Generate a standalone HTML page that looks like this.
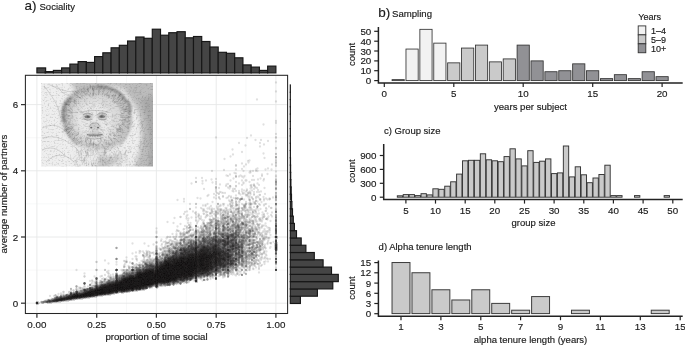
<!DOCTYPE html>
<html><head><meta charset="utf-8"><title>Figure</title>
<style>
html,body{margin:0;padding:0;background:#fff;}
body{width:685px;height:345px;overflow:hidden;font-family:"Liberation Sans",sans-serif;}
svg{display:block;}
svg text{font-family:"Liberation Sans",sans-serif;fill:#1a1a1a;stroke:#1a1a1a;stroke-width:0.16px;}
</style></head><body>
<svg width="685" height="345" viewBox="0 0 685 345">
<rect width="685" height="345" fill="#fff"/>
<g opacity="0.999">
<g id="pa">
<g stroke="#f2f3f3" stroke-width="0.6">
<line x1="66.8" y1="75.3" x2="66.8" y2="313.5"/>
<line x1="126.5" y1="75.3" x2="126.5" y2="313.5"/>
<line x1="186.3" y1="75.3" x2="186.3" y2="313.5"/>
<line x1="246.0" y1="75.3" x2="246.0" y2="313.5"/>
<line x1="25.4" y1="270.1" x2="287.6" y2="270.1"/>
<line x1="25.4" y1="203.9" x2="287.6" y2="203.9"/>
<line x1="25.4" y1="137.7" x2="287.6" y2="137.7"/>
</g>
<g stroke="#e6e8e8" stroke-width="0.9">
<line x1="36.9" y1="75.3" x2="36.9" y2="313.5"/>
<line x1="96.7" y1="75.3" x2="96.7" y2="313.5"/>
<line x1="156.4" y1="75.3" x2="156.4" y2="313.5"/>
<line x1="216.2" y1="75.3" x2="216.2" y2="313.5"/>
<line x1="275.9" y1="75.3" x2="275.9" y2="313.5"/>
<line x1="25.4" y1="303.2" x2="287.6" y2="303.2"/>
<line x1="25.4" y1="237.0" x2="287.6" y2="237.0"/>
<line x1="25.4" y1="170.8" x2="287.6" y2="170.8"/>
<line x1="25.4" y1="104.6" x2="287.6" y2="104.6"/>
</g>
<g fill="#231f20" shape-rendering="crispEdges">
<path d="M276 226h1v1h-1zM215 227h2v1h-2zM215 228h3v1h-3zM215 229h2v1h-2zM276 231h1v1h-1zM233 232h6v1h-6zM276 232h1v1h-1zM223 233h2v1h-2zM231 233h8v1h-8zM222 234h17v1h-17zM215 235h2v1h-2zM221 235h18v1h-18zM275 235h2v1h-2zM195 236h3v1h-3zM206 236h3v1h-3zM213 236h5v1h-5zM221 236h17v1h-17zM274 236h4v1h-4zM194 237h4v1h-4zM203 237h7v1h-7zM211 237h7v1h-7zM220 237h18v1h-18zM243 237h2v1h-2zM274 237h4v1h-4zM195 238h2v1h-2zM202 238h35v1h-35zM243 238h2v1h-2zM275 238h3v1h-3zM202 239h35v1h-35zM201 240h36v1h-36zM241 240h3v1h-3zM199 241h39v1h-39zM240 241h4v1h-4zM275 241h2v1h-2zM190 242h2v1h-2zM195 242h44v1h-44zM240 242h4v1h-4zM275 242h3v1h-3zM189 243h50v1h-50zM240 243h4v1h-4zM274 243h4v1h-4zM189 244h54v1h-54zM274 244h4v1h-4zM188 245h56v1h-56zM274 245h4v1h-4zM188 246h56v1h-56zM274 246h4v1h-4zM180 247h64v1h-64zM274 247h4v1h-4zM179 248h64v1h-64zM274 248h4v1h-4zM177 249h65v1h-65zM274 249h4v1h-4zM175 250h68v1h-68zM275 250h3v1h-3zM173 251h71v1h-71zM275 251h2v1h-2zM172 252h71v1h-71zM155 253h3v1h-3zM172 253h71v1h-71zM155 254h3v1h-3zM171 254h72v1h-72zM156 255h2v1h-2zM166 255h2v1h-2zM170 255h73v1h-73zM156 256h2v1h-2zM165 256h78v1h-78zM155 257h4v1h-4zM164 257h78v1h-78zM155 258h4v1h-4zM164 258h76v1h-76zM155 259h4v1h-4zM163 259h75v1h-75zM155 260h83v1h-83zM154 261h83v1h-83zM154 262h82v1h-82zM149 263h87v1h-87zM146 264h91v1h-91zM145 265h92v1h-92zM145 266h89v1h-89zM144 267h87v1h-87zM137 268h2v1h-2zM142 268h88v1h-88zM116 269h2v1h-2zM131 269h3v1h-3zM136 269h94v1h-94zM115 270h3v1h-3zM131 270h89v1h-89zM225 270h6v1h-6zM116 271h1v1h-1zM130 271h89v1h-89zM226 271h4v1h-4zM126 272h2v1h-2zM130 272h89v1h-89zM125 273h88v1h-88zM214 273h4v1h-4zM116 274h2v1h-2zM124 274h89v1h-89zM215 274h2v1h-2zM115 275h4v1h-4zM121 275h90v1h-90zM115 276h4v1h-4zM120 276h85v1h-85zM206 276h3v1h-3zM115 277h85v1h-85zM115 278h84v1h-84zM114 279h79v1h-79zM194 279h4v1h-4zM108 280h2v1h-2zM113 280h79v1h-79zM194 280h4v1h-4zM107 281h79v1h-79zM194 281h4v1h-4zM105 282h78v1h-78zM195 282h3v1h-3zM101 283h77v1h-77zM96 284h2v1h-2zM99 284h74v1h-74zM95 285h71v1h-71zM94 286h65v1h-65zM89 287h63v1h-63zM155 287h4v1h-4zM84 288h64v1h-64zM156 288h2v1h-2zM83 289h64v1h-64zM76 290h2v1h-2zM82 290h63v1h-63zM75 291h63v1h-63zM70 292h60v1h-60zM69 293h50v1h-50zM121 293h3v1h-3zM66 294h49v1h-49zM65 295h46v1h-46zM56 296h2v1h-2zM59 296h44v1h-44zM54 297h43v1h-43zM52 298h38v1h-38zM48 299h35v1h-35zM47 300h28v1h-28zM36 301h3v1h-3zM45 301h24v1h-24zM35 302h5v1h-5zM45 302h16v1h-16zM35 303h5v1h-5zM47 303h5v1h-5zM36 304h3v1h-3z" fill-opacity="0.180"/>
<path d="M230 234h4v1h-4zM224 235h10v1h-10zM195 236h2v1h-2zM214 236h3v1h-3zM224 236h13v1h-13zM275 236h3v1h-3zM195 237h2v1h-2zM207 237h1v1h-1zM212 237h6v1h-6zM223 237h14v1h-14zM275 237h3v1h-3zM203 238h3v1h-3zM207 238h1v1h-1zM212 238h6v1h-6zM220 238h16v1h-16zM275 238h2v1h-2zM203 239h4v1h-4zM212 239h23v1h-23zM202 240h7v1h-7zM212 240h24v1h-24zM201 241h10v1h-10zM212 241h25v1h-25zM241 241h2v1h-2zM199 242h39v1h-39zM241 242h2v1h-2zM276 242h1v1h-1zM190 243h2v1h-2zM195 243h3v1h-3zM199 243h39v1h-39zM275 243h2v1h-2zM190 244h49v1h-49zM275 244h3v1h-3zM189 245h54v1h-54zM275 245h3v1h-3zM189 246h54v1h-54zM275 246h3v1h-3zM188 247h55v1h-55zM275 247h3v1h-3zM180 248h61v1h-61zM275 248h3v1h-3zM179 249h61v1h-61zM275 249h3v1h-3zM178 250h57v1h-57zM236 250h4v1h-4zM275 250h2v1h-2zM174 251h60v1h-60zM238 251h1v1h-1zM173 252h61v1h-61zM236 252h4v1h-4zM173 253h60v1h-60zM235 253h6v1h-6zM172 254h61v1h-61zM235 254h7v1h-7zM171 255h62v1h-62zM235 255h7v1h-7zM166 256h3v1h-3zM170 256h63v1h-63zM237 256h5v1h-5zM156 257h2v1h-2zM165 257h70v1h-70zM236 257h5v1h-5zM155 258h3v1h-3zM164 258h74v1h-74zM155 259h4v1h-4zM164 259h74v1h-74zM155 260h4v1h-4zM162 260h75v1h-75zM155 261h81v1h-81zM155 262h80v1h-80zM154 263h81v1h-81zM149 264h87v1h-87zM146 265h89v1h-89zM145 266h86v1h-86zM144 267h83v1h-83zM143 268h83v1h-83zM137 269h83v1h-83zM227 269h3v1h-3zM132 270h2v1h-2zM136 270h83v1h-83zM227 270h3v1h-3zM132 271h1v1h-1zM135 271h83v1h-83zM227 271h3v1h-3zM131 272h81v1h-81zM214 272h4v1h-4zM126 273h2v1h-2zM129 273h83v1h-83zM215 273h2v1h-2zM126 274h85v1h-85zM116 275h2v1h-2zM122 275h88v1h-88zM115 276h3v1h-3zM121 276h79v1h-79zM207 276h1v1h-1zM115 277h4v1h-4zM121 277h78v1h-78zM115 278h78v1h-78zM194 278h4v1h-4zM115 279h76v1h-76zM195 279h3v1h-3zM114 280h73v1h-73zM194 280h4v1h-4zM108 281h76v1h-76zM195 281h3v1h-3zM107 282h71v1h-71zM195 282h2v1h-2zM103 283h73v1h-73zM100 284h67v1h-67zM95 285h64v1h-64zM95 286h64v1h-64zM90 287h61v1h-61zM155 287h3v1h-3zM89 288h58v1h-58zM84 289h62v1h-62zM83 290h58v1h-58zM75 291h3v1h-3zM82 291h52v1h-52zM75 292h53v1h-53zM70 293h48v1h-48zM69 294h43v1h-43zM66 295h40v1h-40zM61 296h37v1h-37zM55 297h38v1h-38zM54 298h32v1h-32zM51 299h27v1h-27zM48 300h24v1h-24zM47 301h17v1h-17zM36 302h3v1h-3zM47 302h10v1h-10zM36 303h3v1h-3zM36 304h2v1h-2z" fill-opacity="0.146"/>
<path d="M231 234h2v1h-2zM227 235h2v1h-2zM230 235h4v1h-4zM215 236h1v1h-1zM226 236h8v1h-8zM275 236h2v1h-2zM213 237h4v1h-4zM226 237h4v1h-4zM231 237h5v1h-5zM275 237h2v1h-2zM212 238h5v1h-5zM223 238h6v1h-6zM232 238h3v1h-3zM204 239h1v1h-1zM212 239h5v1h-5zM220 239h9v1h-9zM231 239h4v1h-4zM213 240h22v1h-22zM213 241h23v1h-23zM201 242h1v1h-1zM208 242h3v1h-3zM214 242h23v1h-23zM195 243h2v1h-2zM200 243h2v1h-2zM208 243h11v1h-11zM221 243h17v1h-17zM276 243h1v1h-1zM191 244h1v1h-1zM194 244h3v1h-3zM199 244h7v1h-7zM209 244h10v1h-10zM222 244h8v1h-8zM232 244h6v1h-6zM275 244h2v1h-2zM191 245h29v1h-29zM222 245h16v1h-16zM275 245h2v1h-2zM190 246h30v1h-30zM222 246h17v1h-17zM241 246h2v1h-2zM275 246h2v1h-2zM189 247h50v1h-50zM241 247h2v1h-2zM275 247h2v1h-2zM181 248h4v1h-4zM188 248h42v1h-42zM232 248h7v1h-7zM275 248h2v1h-2zM180 249h59v1h-59zM275 249h2v1h-2zM179 250h54v1h-54zM180 251h52v1h-52zM174 252h4v1h-4zM179 252h52v1h-52zM173 253h59v1h-59zM237 253h2v1h-2zM173 254h59v1h-59zM236 254h5v1h-5zM172 255h60v1h-60zM238 255h4v1h-4zM171 256h62v1h-62zM239 256h2v1h-2zM166 257h67v1h-67zM156 258h2v1h-2zM165 258h72v1h-72zM156 259h2v1h-2zM164 259h73v1h-73zM155 260h3v1h-3zM164 260h72v1h-72zM155 261h4v1h-4zM160 261h75v1h-75zM155 262h80v1h-80zM155 263h80v1h-80zM150 264h3v1h-3zM154 264h81v1h-81zM149 265h84v1h-84zM146 266h81v1h-81zM145 267h81v1h-81zM144 268h76v1h-76zM143 269h76v1h-76zM227 269h2v1h-2zM137 270h82v1h-82zM227 270h2v1h-2zM136 271h76v1h-76zM214 271h4v1h-4zM135 272h76v1h-76zM215 272h2v1h-2zM131 273h80v1h-80zM126 274h84v1h-84zM126 275h78v1h-78zM206 275h3v1h-3zM116 276h2v1h-2zM122 276h77v1h-77zM116 277h2v1h-2zM121 277h77v1h-77zM116 278h3v1h-3zM121 278h71v1h-71zM195 278h2v1h-2zM115 279h74v1h-74zM195 279h2v1h-2zM115 280h70v1h-70zM195 280h2v1h-2zM113 281h70v1h-70zM195 281h2v1h-2zM108 282h69v1h-69zM105 283h65v1h-65zM101 284h58v1h-58zM161 284h1v1h-1zM163 284h3v1h-3zM96 285h2v1h-2zM100 285h58v1h-58zM95 286h57v1h-57zM155 286h3v1h-3zM94 287h54v1h-54zM156 287h2v1h-2zM89 288h58v1h-58zM84 289h3v1h-3zM88 289h57v1h-57zM84 290h55v1h-55zM76 291h2v1h-2zM83 291h48v1h-48zM132 291h1v1h-1zM75 292h44v1h-44zM121 292h4v1h-4zM71 293h46v1h-46zM70 294h41v1h-41zM67 295h37v1h-37zM64 296h33v1h-33zM56 297h2v1h-2zM59 297h32v1h-32zM55 298h29v1h-29zM53 299h23v1h-23zM49 300h21v1h-21zM48 301h14v1h-14zM36 302h2v1h-2zM49 302h4v1h-4zM36 303h3v1h-3z" fill-opacity="0.171"/>
<path d="M231 235h2v1h-2zM227 236h2v1h-2zM231 236h2v1h-2zM215 237h1v1h-1zM227 237h2v1h-2zM232 237h1v1h-1zM276 237h1v1h-1zM213 238h3v1h-3zM213 239h4v1h-4zM222 239h3v1h-3zM232 239h2v1h-2zM214 240h4v1h-4zM220 240h9v1h-9zM230 240h4v1h-4zM214 241h20v1h-20zM215 242h3v1h-3zM222 242h10v1h-10zM235 242h2v1h-2zM210 243h1v1h-1zM215 243h2v1h-2zM222 243h8v1h-8zM235 243h2v1h-2zM195 244h2v1h-2zM210 244h8v1h-8zM222 244h7v1h-7zM276 244h1v1h-1zM194 245h3v1h-3zM201 245h6v1h-6zM210 245h9v1h-9zM223 245h6v1h-6zM232 245h3v1h-3zM276 245h1v1h-1zM191 246h7v1h-7zM201 246h18v1h-18zM224 246h2v1h-2zM231 246h5v1h-5zM276 246h1v1h-1zM190 247h30v1h-30zM227 247h2v1h-2zM232 247h6v1h-6zM276 247h1v1h-1zM189 248h32v1h-32zM222 248h7v1h-7zM233 248h5v1h-5zM276 248h1v1h-1zM180 249h6v1h-6zM188 249h42v1h-42zM180 250h50v1h-50zM181 251h49v1h-49zM175 252h1v1h-1zM180 252h50v1h-50zM174 253h3v1h-3zM180 253h50v1h-50zM174 254h3v1h-3zM179 254h53v1h-53zM173 255h2v1h-2zM179 255h53v1h-53zM172 256h60v1h-60zM170 257h62v1h-62zM156 258h1v1h-1zM167 258h66v1h-66zM156 259h2v1h-2zM165 259h68v1h-68zM235 259h1v1h-1zM156 260h2v1h-2zM164 260h68v1h-68zM233 260h2v1h-2zM156 261h2v1h-2zM162 261h69v1h-69zM233 261h2v1h-2zM156 262h2v1h-2zM160 262h74v1h-74zM155 263h4v1h-4zM160 263h74v1h-74zM151 264h1v1h-1zM155 264h79v1h-79zM149 265h81v1h-81zM149 266h77v1h-77zM146 267h73v1h-73zM145 268h74v1h-74zM144 269h74v1h-74zM138 270h1v1h-1zM140 270h73v1h-73zM214 270h4v1h-4zM228 270h1v1h-1zM137 271h74v1h-74zM215 271h2v1h-2zM136 272h74v1h-74zM135 273h75v1h-75zM130 274h79v1h-79zM127 275h72v1h-72zM207 275h1v1h-1zM123 276h1v1h-1zM126 276h72v1h-72zM116 277h1v1h-1zM122 277h71v1h-71zM195 277h2v1h-2zM116 278h2v1h-2zM121 278h70v1h-70zM195 278h2v1h-2zM116 279h72v1h-72zM196 279h1v1h-1zM115 280h69v1h-69zM195 280h2v1h-2zM114 281h64v1h-64zM195 281h2v1h-2zM108 282h68v1h-68zM107 283h61v1h-61zM102 284h57v1h-57zM100 285h58v1h-58zM96 286h56v1h-56zM155 286h3v1h-3zM95 287h52v1h-52zM156 287h1v1h-1zM90 288h56v1h-56zM89 289h52v1h-52zM84 290h50v1h-50zM136 290h1v1h-1zM83 291h46v1h-46zM76 292h2v1h-2zM81 292h37v1h-37zM74 293h40v1h-40zM70 294h40v1h-40zM68 295h34v1h-34zM66 296h29v1h-29zM60 297h29v1h-29zM56 298h25v1h-25zM54 299h20v1h-20zM51 300h16v1h-16zM49 301h10v1h-10zM37 302h1v1h-1zM36 303h2v1h-2z" fill-opacity="0.198"/>
<path d="M214 239h2v1h-2zM214 240h3v1h-3zM222 240h4v1h-4zM231 240h2v1h-2zM215 241h2v1h-2zM222 241h7v1h-7zM231 241h1v1h-1zM223 242h6v1h-6zM223 243h6v1h-6zM214 244h3v1h-3zM223 244h6v1h-6zM195 245h2v1h-2zM203 245h3v1h-3zM212 245h6v1h-6zM224 245h2v1h-2zM233 245h1v1h-1zM195 246h2v1h-2zM202 246h8v1h-8zM211 246h7v1h-7zM232 246h2v1h-2zM191 247h7v1h-7zM201 247h18v1h-18zM235 247h1v1h-1zM190 248h8v1h-8zM199 248h21v1h-21zM227 248h1v1h-1zM184 249h1v1h-1zM191 249h30v1h-30zM223 249h1v1h-1zM226 249h3v1h-3zM181 250h5v1h-5zM193 250h37v1h-37zM182 251h6v1h-6zM193 251h36v1h-36zM181 252h48v1h-48zM180 253h49v1h-49zM180 254h51v1h-51zM180 255h51v1h-51zM172 256h3v1h-3zM179 256h52v1h-52zM171 257h60v1h-60zM168 258h63v1h-63zM156 259h1v1h-1zM166 259h64v1h-64zM156 260h2v1h-2zM165 260h61v1h-61zM228 260h1v1h-1zM156 261h2v1h-2zM164 261h62v1h-62zM228 261h1v1h-1zM156 262h2v1h-2zM161 262h68v1h-68zM156 263h2v1h-2zM160 263h70v1h-70zM232 263h2v1h-2zM156 264h3v1h-3zM160 264h69v1h-69zM150 265h2v1h-2zM155 265h71v1h-71zM150 266h69v1h-69zM223 266h2v1h-2zM149 267h69v1h-69zM146 268h72v1h-72zM145 269h73v1h-73zM143 270h69v1h-69zM215 270h3v1h-3zM137 271h73v1h-73zM216 271h1v1h-1zM136 272h74v1h-74zM136 273h73v1h-73zM135 274h69v1h-69zM207 274h1v1h-1zM129 275h69v1h-69zM127 276h70v1h-70zM123 277h69v1h-69zM195 277h2v1h-2zM116 278h1v1h-1zM122 278h66v1h-66zM116 279h2v1h-2zM121 279h64v1h-64zM115 280h63v1h-63zM180 280h3v1h-3zM196 280h1v1h-1zM115 281h62v1h-62zM196 281h1v1h-1zM109 282h3v1h-3zM113 282h58v1h-58zM108 283h58v1h-58zM103 284h55v1h-55zM101 285h52v1h-52zM155 285h3v1h-3zM96 286h2v1h-2zM100 286h51v1h-51zM156 286h2v1h-2zM95 287h52v1h-52zM94 288h51v1h-51zM90 289h50v1h-50zM85 290h49v1h-49zM84 291h42v1h-42zM76 292h2v1h-2zM82 292h36v1h-36zM75 293h38v1h-38zM71 294h38v1h-38zM69 295h29v1h-29zM66 296h28v1h-28zM62 297h25v1h-25zM57 298h23v1h-23zM55 299h17v1h-17zM52 300h13v1h-13zM51 301h7v1h-7zM37 303h1v1h-1z" fill-opacity="0.226"/>
<path d="M215 240h1v1h-1zM223 240h2v1h-2zM223 241h3v1h-3zM224 242h4v1h-4zM224 243h4v1h-4zM224 244h4v1h-4zM213 245h4v1h-4zM195 246h1v1h-1zM203 246h3v1h-3zM212 246h5v1h-5zM195 247h2v1h-2zM202 247h8v1h-8zM212 247h5v1h-5zM195 248h2v1h-2zM201 248h17v1h-17zM195 249h2v1h-2zM200 249h19v1h-19zM227 249h2v1h-2zM184 250h1v1h-1zM194 250h26v1h-26zM223 250h1v1h-1zM227 250h2v1h-2zM183 251h3v1h-3zM194 251h31v1h-31zM183 252h5v1h-5zM194 252h32v1h-32zM181 253h48v1h-48zM181 254h48v1h-48zM181 255h49v1h-49zM180 256h50v1h-50zM172 257h58v1h-58zM170 258h59v1h-59zM168 259h58v1h-58zM165 260h56v1h-56zM222 260h4v1h-4zM156 261h1v1h-1zM164 261h57v1h-57zM222 261h3v1h-3zM156 262h2v1h-2zM163 262h62v1h-62zM156 263h2v1h-2zM161 263h65v1h-65zM227 263h2v1h-2zM156 264h2v1h-2zM160 264h65v1h-65zM156 265h65v1h-65zM224 265h1v1h-1zM155 266h63v1h-63zM154 267h64v1h-64zM149 268h3v1h-3zM153 268h60v1h-60zM215 268h2v1h-2zM145 269h68v1h-68zM215 269h2v1h-2zM144 270h66v1h-66zM215 270h2v1h-2zM140 271h69v1h-69zM137 272h72v1h-72zM136 273h69v1h-69zM207 273h1v1h-1zM136 274h62v1h-62zM130 275h4v1h-4zM135 275h63v1h-63zM128 276h65v1h-65zM195 276h2v1h-2zM126 277h65v1h-65zM123 278h65v1h-65zM116 279h2v1h-2zM122 279h62v1h-62zM116 280h2v1h-2zM119 280h58v1h-58zM115 281h61v1h-61zM114 282h55v1h-55zM108 283h51v1h-51zM164 283h1v1h-1zM104 284h54v1h-54zM102 285h50v1h-50zM156 285h2v1h-2zM100 286h48v1h-48zM156 286h1v1h-1zM96 287h50v1h-50zM95 288h49v1h-49zM91 289h47v1h-47zM89 290h41v1h-41zM131 290h2v1h-2zM84 291h35v1h-35zM121 291h4v1h-4zM83 292h34v1h-34zM76 293h35v1h-35zM73 294h32v1h-32zM70 295h28v1h-28zM67 296h25v1h-25zM64 297h21v1h-21zM59 298h18v1h-18zM56 299h15v1h-15zM54 300h9v1h-9z" fill-opacity="0.264"/>
<path d="M215 245h1v1h-1zM204 246h1v1h-1zM213 246h4v1h-4zM203 247h3v1h-3zM213 247h3v1h-3zM195 248h2v1h-2zM202 248h6v1h-6zM213 248h3v1h-3zM195 249h2v1h-2zM201 249h8v1h-8zM212 249h4v1h-4zM195 250h2v1h-2zM200 250h9v1h-9zM212 250h4v1h-4zM184 251h1v1h-1zM195 251h22v1h-22zM223 251h1v1h-1zM184 252h2v1h-2zM195 252h26v1h-26zM223 252h2v1h-2zM185 253h1v1h-1zM189 253h3v1h-3zM193 253h28v1h-28zM223 253h3v1h-3zM187 254h34v1h-34zM224 254h1v1h-1zM186 255h36v1h-36zM181 256h41v1h-41zM227 256h2v1h-2zM180 257h41v1h-41zM223 257h2v1h-2zM227 257h2v1h-2zM173 258h53v1h-53zM170 259h1v1h-1zM172 259h49v1h-49zM222 259h3v1h-3zM168 260h52v1h-52zM223 260h2v1h-2zM165 261h54v1h-54zM164 262h55v1h-55zM223 262h1v1h-1zM163 263h61v1h-61zM156 264h2v1h-2zM161 264h57v1h-57zM219 264h2v1h-2zM156 265h2v1h-2zM160 265h53v1h-53zM215 265h3v1h-3zM156 266h57v1h-57zM215 266h2v1h-2zM155 267h58v1h-58zM216 267h1v1h-1zM155 268h58v1h-58zM216 268h1v1h-1zM146 269h8v1h-8zM155 269h57v1h-57zM216 269h1v1h-1zM145 270h64v1h-64zM143 271h66v1h-66zM137 272h67v1h-67zM137 273h61v1h-61zM202 273h2v1h-2zM136 274h61v1h-61zM136 275h58v1h-58zM195 275h2v1h-2zM129 276h64v1h-64zM127 277h61v1h-61zM123 278h62v1h-62zM122 279h56v1h-56zM180 279h2v1h-2zM116 280h2v1h-2zM121 280h56v1h-56zM116 281h55v1h-55zM115 282h52v1h-52zM109 283h3v1h-3zM113 283h45v1h-45zM108 284h46v1h-46zM155 284h3v1h-3zM103 285h48v1h-48zM156 285h1v1h-1zM101 286h46v1h-46zM96 287h2v1h-2zM99 287h45v1h-45zM96 288h45v1h-45zM94 289h40v1h-40zM136 289h1v1h-1zM90 290h37v1h-37zM86 291h32v1h-32zM84 292h30v1h-30zM76 293h2v1h-2zM81 293h29v1h-29zM74 294h29v1h-29zM71 295h26v1h-26zM68 296h22v1h-22zM66 297h17v1h-17zM61 298h14v1h-14zM57 299h12v1h-12zM55 300h5v1h-5z" fill-opacity="0.321"/>
<path d="M215 246h1v1h-1zM202 250h1v1h-1zM195 251h2v1h-2zM201 251h3v1h-3zM214 251h1v1h-1zM195 252h2v1h-2zM199 252h8v1h-8zM213 252h4v1h-4zM195 253h2v1h-2zM199 253h9v1h-9zM210 253h10v1h-10zM188 254h32v1h-32zM188 255h29v1h-29zM219 255h2v1h-2zM188 256h29v1h-29zM181 257h37v1h-37zM179 258h34v1h-34zM215 258h5v1h-5zM223 258h2v1h-2zM173 259h40v1h-40zM214 259h5v1h-5zM223 259h2v1h-2zM173 260h39v1h-39zM214 260h4v1h-4zM166 261h5v1h-5zM172 261h40v1h-40zM213 261h5v1h-5zM165 262h6v1h-6zM172 262h40v1h-40zM213 262h4v1h-4zM164 263h48v1h-48zM214 263h3v1h-3zM163 264h49v1h-49zM215 264h2v1h-2zM156 265h1v1h-1zM161 265h51v1h-51zM216 265h1v1h-1zM156 266h2v1h-2zM160 266h52v1h-52zM156 267h56v1h-56zM156 268h56v1h-56zM156 269h53v1h-53zM146 270h8v1h-8zM155 270h54v1h-54zM145 271h53v1h-53zM199 271h2v1h-2zM202 271h2v1h-2zM141 272h56v1h-56zM137 273h60v1h-60zM137 274h57v1h-57zM195 274h2v1h-2zM136 275h57v1h-57zM131 276h3v1h-3zM135 276h57v1h-57zM128 277h59v1h-59zM126 278h52v1h-52zM180 278h2v1h-2zM123 279h54v1h-54zM122 280h54v1h-54zM116 281h2v1h-2zM120 281h50v1h-50zM116 282h50v1h-50zM114 283h44v1h-44zM109 284h44v1h-44zM156 284h1v1h-1zM104 285h46v1h-46zM102 286h44v1h-44zM100 287h42v1h-42zM96 288h44v1h-44zM95 289h39v1h-39zM91 290h34v1h-34zM88 291h30v1h-30zM85 292h28v1h-28zM82 293h27v1h-27zM76 294h25v1h-25zM72 295h22v1h-22zM70 296h18v1h-18zM67 297h13v1h-13zM63 298h10v1h-10zM58 299h7v1h-7zM57 300h1v1h-1z" fill-opacity="0.389"/>
<path d="M195 253h1v1h-1zM200 253h6v1h-6zM215 253h2v1h-2zM195 254h2v1h-2zM200 254h7v1h-7zM211 254h1v1h-1zM215 254h2v1h-2zM190 255h3v1h-3zM195 255h2v1h-2zM199 255h14v1h-14zM215 255h1v1h-1zM191 256h2v1h-2zM195 256h2v1h-2zM199 256h14v1h-14zM215 256h1v1h-1zM183 257h1v1h-1zM190 257h7v1h-7zM199 257h13v1h-13zM215 257h2v1h-2zM181 258h4v1h-4zM186 258h11v1h-11zM199 258h13v1h-13zM215 258h2v1h-2zM180 259h4v1h-4zM186 259h25v1h-25zM215 259h2v1h-2zM174 260h1v1h-1zM180 260h5v1h-5zM186 260h25v1h-25zM215 260h2v1h-2zM174 261h37v1h-37zM215 261h2v1h-2zM166 262h4v1h-4zM174 262h37v1h-37zM215 262h2v1h-2zM165 263h6v1h-6zM173 263h38v1h-38zM215 263h1v1h-1zM165 264h46v1h-46zM163 265h47v1h-47zM161 266h48v1h-48zM156 267h2v1h-2zM160 267h48v1h-48zM157 268h1v1h-1zM159 268h38v1h-38zM199 268h9v1h-9zM156 269h41v1h-41zM199 269h9v1h-9zM148 270h3v1h-3zM156 270h41v1h-41zM202 270h3v1h-3zM207 270h1v1h-1zM146 271h8v1h-8zM155 271h42v1h-42zM144 272h53v1h-53zM140 273h54v1h-54zM195 273h1v1h-1zM138 274h55v1h-55zM137 275h55v1h-55zM136 276h51v1h-51zM129 277h53v1h-53zM127 278h50v1h-50zM124 279h52v1h-52zM123 280h48v1h-48zM121 281h48v1h-48zM116 282h2v1h-2zM119 282h39v1h-39zM115 283h39v1h-39zM156 283h1v1h-1zM110 284h1v1h-1zM113 284h39v1h-39zM108 285h40v1h-40zM104 286h39v1h-39zM101 287h40v1h-40zM99 288h35v1h-35zM136 288h1v1h-1zM96 289h31v1h-31zM132 289h1v1h-1zM94 290h25v1h-25zM121 290h3v1h-3zM90 291h27v1h-27zM87 292h24v1h-24zM84 293h22v1h-22zM77 294h1v1h-1zM80 294h18v1h-18zM74 295h19v1h-19zM71 296h15v1h-15zM68 297h10v1h-10zM66 298h6v1h-6z" fill-opacity="0.477"/>
<path d="M203 254h1v1h-1zM201 255h3v1h-3zM200 256h4v1h-4zM207 256h1v1h-1zM200 257h4v1h-4zM195 258h1v1h-1zM200 258h4v1h-4zM188 259h4v1h-4zM195 259h1v1h-1zM199 259h5v1h-5zM181 260h2v1h-2zM187 260h6v1h-6zM195 260h2v1h-2zM199 260h6v1h-6zM181 261h3v1h-3zM186 261h11v1h-11zM200 261h4v1h-4zM206 261h3v1h-3zM176 262h21v1h-21zM200 262h4v1h-4zM167 263h2v1h-2zM175 263h22v1h-22zM200 263h5v1h-5zM166 264h4v1h-4zM174 264h23v1h-23zM200 264h4v1h-4zM165 265h6v1h-6zM172 265h26v1h-26zM199 265h5v1h-5zM207 265h1v1h-1zM165 266h32v1h-32zM200 266h1v1h-1zM161 267h36v1h-36zM203 267h3v1h-3zM161 268h35v1h-35zM203 268h3v1h-3zM160 269h36v1h-36zM203 269h2v1h-2zM157 270h1v1h-1zM159 270h35v1h-35zM195 270h1v1h-1zM149 271h2v1h-2zM157 271h36v1h-36zM147 272h7v1h-7zM156 272h37v1h-37zM143 273h50v1h-50zM141 274h51v1h-51zM139 275h49v1h-49zM190 275h1v1h-1zM137 276h45v1h-45zM132 277h1v1h-1zM136 277h41v1h-41zM129 278h47v1h-47zM127 279h48v1h-48zM124 280h46v1h-46zM122 281h43v1h-43zM120 282h35v1h-35zM156 282h1v1h-1zM116 283h1v1h-1zM120 283h33v1h-33zM115 284h36v1h-36zM110 285h34v1h-34zM105 286h36v1h-36zM104 287h34v1h-34zM101 288h32v1h-32zM98 289h27v1h-27zM95 290h22v1h-22zM92 291h21v1h-21zM88 292h22v1h-22zM85 293h18v1h-18zM81 294h13v1h-13zM76 295h14v1h-14zM72 296h10v1h-10zM70 297h5v1h-5z" fill-opacity="1.000"/>
</g>
<filter id="pb" x="0" y="0" width="1370" height="690" filterUnits="userSpaceOnUse"><feGaussianBlur stdDeviation="0.5"/></filter>
<g transform="scale(.5)" fill="none" stroke="#231f20" stroke-width="4.6" stroke-linecap="round" stroke-opacity="0.12" filter="url(#pb)">
<path d="m102 603h0m7-2h0m6 0h0m7-3h0m9-7h0m1 6h0m8-6h0m2-4h0m11-3h0m10 10h0m5-4h0m1-3h0m0 2h0m0 2h0m0 2h0m7-15h0m13-6h0m4 8h0m8-27h0m3 15h0m1-2h0m3-5h0m0 21h0m2-3h0m4-2h0m7 9h0m2-29h0m1 8h0m1 7h0m4 4h0m4-2h0m6-16h0m2 9h0m2-3h0m0 7h0m1-16h0m1 12h0m0 14h0m3-17h0m1-11h0m6 26h0m4-17h0m2 4h0m2-6h0m2 15h0m6-62h0m2 37h0m3-13h0m0 26h0m3-28h0m0 12h0m0 6h0m0 25h0m1-7h0m1 5h0m3-27h0m0 2h0m2-26h0m0 50h0m1-15h0m1 8h0m1-44h0m0 26h0m2-22h0m0 36h0m0 6h0m1-27h0m1 28h0m3-20h0m3-38h0m0 43h0m0 15h0m3-51h0m0 40h0m1-12h0m4 12h0m3 1h0m3-52h0m0 6h0m0 17h0m0 16h0m0 2h0m0 3h0m0 2h0m0 7h0m0 11h0m0 0h0m3-10h0m2-38h0m0 33h0m1-31h0m2 3h0m1 15h0m0 16h0m1 5h0m2-47h0m3 16h0m6 31h0m1-54h0m0 23h0m0 24h0m0 11h0m2-53h0m2-21h0m0 37h0m0 23h0m0 10h0m4-49h0m4-15h0m0 0h0m2 45h0m2-20h0m2 19h0m2-53h0m0 63h0m3 1h0m3 1h0m0 2h0m2-80h0m1 74h0m2-11h0m0 16h0m2-60h0m0 11h0m1-20h0m1-38h0m0 15h0m2 61h0m1-7h0m1-46h0m2 15h0m1 25h0m1-59h0m0 66h0m0 6h0m2-110h0m0 112h0m1-31h0m0 18h0m2-25h0m3-4h0m1-7h0m2-2h0m0 52h0m3-76h0m0 18h0m0 32h0m0 17h0m0 26h0m4-59h0m0 47h0m1 14h0m2-93h0m0 25h0m0 26h0m1 24h0m1 8h0m1 0h0m1-40h0m2-6h0m1 40h0m2-9h0m2-8h0m1 19h0m2-17h0m0 19h0m2-55h0m0 60h0m0 2h0m0 0h0m3-66h0m0 60h0m0 6h0m0 3h0m2-65h0m0 13h0m1 5h0m0 1h0m0 3h0m0 35h0m2-14h0m1-30h0m1 37h0m1-24h0m1 2h0m0 4h0m1-120h0m0 137h0m4-135h0m0 110h0m0 17h0m0 33h0m2-99h0m5 44h0m0 7h0m0 16h0m1-24h0m1 14h0m0 7h0m0 23h0m2 4h0m3-75h0m0 51h0m0 0h0m0 15h0m2-30h0m1-27h0m2 21h0m1-15h0m0 19h0m1-87h0m0 1h0m1 29h0m0 25h0m2 18h0m0 31h0m0 15h0m0 7h0m0 6h0m4-115h0m0 92h0m1-157h0m0 101h0m1 49h0m1-29h0m2-41h0m0 39h0m0 6h0m1-29h0m0 18h0m3 34h0m1-40h0m1-29h0m1 11h0m0 66h0m4-72h0m0 69h0m2-65h0m2 20h0m0 3h0m0 30h0m0 0h0m1-116h0m3-37h0m0 66h0m0 39h0m0 24h0m0 32h0m0 9h0m3-30h0m0 9h0m1-77h0m0 87h0m0 3h0m0 4h0m1-56h0m0 49h0m1-21h0m2 21h0m0 12h0m0 8h0m0 0h0m2-49h0m1 37h0m1-25h0m1-5h0m1 28h0m1-52h0m0 66h0m3-52h0m4 2h0m2 11h0m3 20h0m5-25h0m3 5h0m1-30h0m0 7h0m0 14h0m7-98h0m10 39h0m5-3h0m10-52h0m0 13h0m0 4h0m0 37h0m0 35h0m0 18h0m0 33h0"/>
<path d="m83 604h0m16-1h0m9-6h0m0 5h0m4-1h0m10-6h0m1 2h0m29-4h0m1-5h0m3 3h0m6 3h0m7-41h0m11 39h0m0 0h0m4-11h0m1 1h0m8-42h0m0 17h0m0 16h0m7 10h0m1 3h0m3-22h0m2 9h0m8 2h0m1 7h0m2-20h0m0 25h0m0 0h0m2-4h0m4-22h0m2 1h0m6 9h0m2-31h0m0 30h0m12 10h0m3-28h0m0 24h0m2-3h0m3-20h0m0 4h0m0 8h0m5-8h0m0 9h0m2-11h0m2 4h0m1 9h0m2-28h0m7 14h0m7 24h0m4-38h0m0 13h0m3-20h0m4 18h0m0 18h0m1-5h0m1-24h0m1 11h0m1-31h0m2 30h0m1 9h0m2-1h0m0 11h0m3 1h0m1-48h0m0 21h0m2 29h0m2-17h0m6-81h0m0 41h0m0 25h0m0 19h0m0 14h0m3-18h0m1-32h0m2-15h0m0 6h0m0 28h0m2-27h0m4 26h0m1-36h0m1 4h0m1 58h0m1-31h0m0 0h0m0 4h0m0 13h0m2-9h0m0 13h0m0 9h0m4-26h0m0 12h0m0 8h0m2 3h0m1-2h0m1-43h0m0 20h0m1-25h0m0 55h0m1-55h0m0 43h0m2-28h0m4 18h0m0 13h0m0 0h0m3-60h0m0 38h0m2-19h0m1-55h0m0 55h0m2 18h0m0 4h0m0 24h0m1-66h0m1-36h0m1 26h0m3-1h0m0 13h0m0 27h0m0 33h0m0 1h0m2-43h0m0 6h0m5 16h0m0 21h0m2-68h0m0 9h0m0 15h0m0 1h0m0 10h0m3-6h0m4-38h0m1 19h0m0 21h0m0 3h0m2-66h0m2 98h0m1-124h0m0 62h0m0 19h0m0 13h0m1-55h0m2 31h0m0 38h0m1-57h0m0 30h0m0 36h0m3-64h0m2-36h0m0 17h0m0 41h0m0 21h0m0 1h0m0 23h0m6-90h0m1 46h0m0 0h0m3-41h0m1 32h0m1-1h0m1-83h0m0 61h0m0 10h0m1-12h0m0 45h0m0 7h0m1-84h0m1-4h0m0 12h0m0 54h0m0 33h0m2-66h0m1 23h0m0 30h0m0 5h0m1-3h0m1-51h0m1 53h0m1-29h0m4-32h0m1 9h0m0 68h0m1-71h0m0 22h0m2-54h0m0 101h0m1-29h0m0 2h0m0 33h0m3-86h0m0 29h0m1 40h0m0 10h0m1-11h0m3-142h0m0 66h0m0 67h0m0 12h0m0 12h0m3-11h0m1-64h0m0 69h0m1-94h0m1 26h0m3 31h0m0 15h0m0 30h0m3-66h0m2 27h0m0 3h0m0 26h0m0 12h0m1-10h0m2-106h0m0 114h0m1-126h0m1 11h0m1 9h0m0 55h0m1-11h0m0 23h0m1-61h0m1 22h0m1 1h0m0 3h0m0 7h0m0 23h0m0 8h0m2-113h0m0 46h0m3 59h0m4-44h0m0 12h0m0 24h0m0 12h0m2-1h0m1-58h0m0 65h0m1 21h0m3-35h0m6-43h0m0 15h0m4-26h0m2-69h0m0 4h0m0 67h0m0 24h0m0 26h0m0 2h0m1-66h0m1 88h0m2 7h0m1-77h0m3 16h0m0 62h0m4-42h0m0 27h0m3-72h0m0 14h0m0 57h0m4-6h0m3-2h0m1-46h0m3 64h0m2-124h0m2 13h0m0 86h0m1-32h0m0 0h0m1-110h0m2 96h0m6-103h0m0 114h0m1 12h0m0 3h0m4-20h0m1 16h0m2 32h0m7-44h0m1-4h0m12-53h0m0 3h0m0 10h0m0 31h0m0 8h0m0 21h0m0 6h0m0 9h0m0 22h0"/>
<path d="m88 604h0m11-1h0m15-8h0m13-11h0m0 4h0m11 1h0m4-11h0m0 12h0m18-4h0m9-19h0m4 26h0m0 0h0m7-12h0m4 10h0m9-1h0m8-10h0m1-17h0m2 7h0m6-49h0m0 38h0m0 0h0m0 13h0m0 9h0m0 6h0m10-31h0m4 24h0m0 0h0m1 2h0m1 3h0m7-61h0m0 29h0m0 31h0m4-2h0m8-28h0m0 26h0m3-34h0m1 30h0m0 4h0m1-1h0m5-32h0m5 0h0m5-7h0m2 33h0m2-21h0m4-12h0m2 4h0m4 6h0m4 15h0m5-29h0m1 32h0m1 2h0m1-42h0m0 12h0m0 36h0m3-46h0m5 32h0m1-53h0m0 46h0m3-10h0m0 0h0m0 19h0m1-19h0m3 4h0m6-51h0m0 14h0m0 23h0m0 33h0m5-48h0m3 50h0m2-13h0m2-10h0m4 2h0m1-22h0m0 23h0m1-37h0m0 2h0m0 0h0m1-28h0m3 23h0m0 24h0m0 6h0m1 11h0m2-7h0m0 6h0m5-37h0m0 19h0m2-49h0m0 39h0m2-26h0m0 11h0m0 10h0m0 11h0m0 41h0m0 0h0m0 0h0m2-27h0m1-47h0m3 26h0m0 8h0m4 1h0m2-29h0m2-27h0m0 7h0m0 6h0m0 47h0m2-12h0m4-37h0m0 25h0m1-13h0m2 52h0m3-56h0m0 6h0m0 58h0m0 8h0m2-101h0m1 42h0m0 52h0m1-38h0m1-28h0m0 42h0m1-50h0m2 10h0m0 56h0m3-46h0m0 30h0m2-28h0m0 27h0m1-16h0m2-20h0m0 35h0m1-34h0m2-83h0m0 70h0m0 17h0m0 9h0m0 15h0m0 7h0m0 22h0m4-94h0m0 84h0m2-52h0m2 33h0m2-27h0m0 7h0m0 42h0m1-40h0m2-44h0m0 13h0m0 5h0m0 28h0m3-34h0m0 11h0m2 66h0m1-63h0m0 54h0m1-43h0m0 17h0m1-16h0m2-37h0m0 28h0m0 35h0m0 3h0m0 4h0m3-28h0m1-68h0m2 74h0m0 17h0m1-40h0m0 36h0m1-14h0m1-37h0m0 8h0m2 48h0m1-45h0m1-12h0m2-10h0m2-7h0m0 17h0m0 0h0m0 23h0m0 2h0m0 1h0m0 24h0m0 11h0m0 13h0m0 9h0m3-140h0m0 80h0m1-12h0m0 2h0m0 8h0m0 43h0m1-31h0m1-20h0m0 25h0m1-3h0m0 27h0m2-108h0m0 30h0m0 41h0m0 41h0m2-87h0m0 20h0m0 28h0m1 14h0m2-53h0m0 7h0m0 5h0m0 22h0m1 32h0m1-13h0m1-84h0m0 15h0m0 19h0m0 66h0m2-73h0m0 72h0m4-10h0m1-53h0m0 11h0m0 16h0m0 6h0m0 0h0m0 14h0m0 33h0m4-25h0m1-67h0m0 39h0m1-70h0m3-42h0m0 116h0m2-28h0m0 4h0m1 3h0m2-11h0m2-69h0m0 26h0m0 0h0m0 73h0m0 6h0m0 5h0m0 6h0m0 5h0m0 0h0m3 16h0m1-109h0m2 44h0m0 10h0m0 5h0m0 32h0m1-100h0m0 106h0m2-4h0m1-47h0m0 9h0m2-44h0m0 19h0m1 2h0m1-9h0m1-5h0m0 28h0m0 18h0m3-30h0m3 31h0m3-59h0m3 67h0m2-3h0m3 12h0m2-20h0m2-99h0m0 84h0m3 32h0m0 6h0m11-11h0m3-28h0m1-8h0m0 16h0m1 2h0m1-30h0m2 38h0m2-73h0m12 9h0m8-105h0m0 128h0m0 19h0m0 24h0m0 23h0m0 1h0"/>
<path d="m83 604h0m39-4h0m5-8h0m0 1h0m1 4h0m1-1h0m5 2h0m8-3h0m5-4h0m1-5h0m1 1h0m4-3h0m0 11h0m4-9h0m4 8h0m4 0h0m13-5h0m15-24h0m5 11h0m0 3h0m4-13h0m1 16h0m0 7h0m1-1h0m4-5h0m5-15h0m3 14h0m5-27h0m1 20h0m3-10h0m1 2h0m0 8h0m11-24h0m6 10h0m0 5h0m0 12h0m2-7h0m1-11h0m2-20h0m5 8h0m1 5h0m4-3h0m0 11h0m2-10h0m2 8h0m3-6h0m2 5h0m1-28h0m0 45h0m3-15h0m0 8h0m2-11h0m0 11h0m2-13h0m1-8h0m3-7h0m7 15h0m2 10h0m3-38h0m0 19h0m1 10h0m5-53h0m3 22h0m3-19h0m0 32h0m2 4h0m0 3h0m1-7h0m1 4h0m2-13h0m4-11h0m0 2h0m0 2h0m0 24h0m0 11h0m0 5h0m0 1h0m0 2h0m0 5h0m4-32h0m0 5h0m2-29h0m0 17h0m3-31h0m0 72h0m2-43h0m1 2h0m3 6h0m0 7h0m0 19h0m1-23h0m0 5h0m0 7h0m1-35h0m1 3h0m0 1h0m0 19h0m4 18h0m0 12h0m1-17h0m1-34h0m0 9h0m6 30h0m3-33h0m1-18h0m2-29h0m1 65h0m1 11h0m1-6h0m1-15h0m0 13h0m4-26h0m2-1h0m0 18h0m2-3h0m0 26h0m4-24h0m1-2h0m2-9h0m0 23h0m1-61h0m0 40h0m1-103h0m1 65h0m0 22h0m7 11h0m0 6h0m2-35h0m0 68h0m1-75h0m0 2h0m1 69h0m1-73h0m1 46h0m0 5h0m0 5h0m2-21h0m3-17h0m0 0h0m3 0h0m0 16h0m0 0h0m0 29h0m4-30h0m0 31h0m0 4h0m1-23h0m1 11h0m1-9h0m0 7h0m2-13h0m2-67h0m1 71h0m1 32h0m1-139h0m0 87h0m0 25h0m3-14h0m1-17h0m5-29h0m0 9h0m0 38h0m2-55h0m0 59h0m2-49h0m0 5h0m1-12h0m0 83h0m2-140h0m2 133h0m1-18h0m1-68h0m0 46h0m1-1h0m1-35h0m0 59h0m4-75h0m0 7h0m0 2h0m0 20h0m0 19h0m0 1h0m0 5h0m0 11h0m0 10h0m0 12h0m3-93h0m0 36h0m0 36h0m1-98h0m1 117h0m0 5h0m1-61h0m0 42h0m1 19h0m1-62h0m1 3h0m0 19h0m2 10h0m1-9h0m0 8h0m2-50h0m0 27h0m0 11h0m3 54h0m1-84h0m0 52h0m1-84h0m0 20h0m1-14h0m0 34h0m0 37h0m0 31h0m1-57h0m1 41h0m2-106h0m0 30h0m0 13h0m0 12h0m0 8h0m0 12h0m0 1h0m0 27h0m0 13h0m0 5h0m4-111h0m0 81h0m2-111h0m0 31h0m0 25h0m0 70h0m0 9h0m1-47h0m2-24h0m0 36h0m1-65h0m0 53h0m2-21h0m1 32h0m3-131h0m0 91h0m0 11h0m0 22h0m0 0h0m0 44h0m0 2h0m2-9h0m0 6h0m2-51h0m2-14h0m0 7h0m0 3h0m1 16h0m2-44h0m1 75h0m2-98h0m0 69h0m0 48h0m2-130h0m2 64h0m1-132h0m0 152h0m3 9h0m4-8h0m3-16h0m0 14h0m1-102h0m1 59h0m2-33h0m1 40h0m0 53h0m4-160h0m0 123h0m2-32h0m4-75h0m7 92h0m8-92h0m0 126h0m6-16h0m2-6h0m15-103h0m0 24h0m0 23h0m0 39h0m0 11h0m0 44h0m0 0h0m0 11h0"/>
<path d="m94 604h0m6-1h0m14-2h0m3-1h0m5-1h0m5-6h0m4 3h0m1 0h0m2 1h0m27-3h0m3-13h0m12 2h0m4-6h0m1 10h0m7 4h0m1-13h0m0 1h0m4-11h0m11 2h0m6-30h0m0 24h0m0 5h0m6 2h0m6 15h0m1-17h0m3-6h0m0 13h0m7-36h0m0 22h0m3 14h0m1-8h0m1 7h0m3-8h0m2 10h0m2-23h0m3 13h0m0 15h0m2-31h0m3 10h0m4 12h0m1 8h0m4-23h0m3-13h0m0 28h0m2-5h0m5 8h0m1-21h0m1 19h0m3-36h0m2 7h0m0 33h0m2-27h0m0 16h0m2-8h0m3-48h0m0 28h0m0 1h0m0 37h0m2-32h0m3 12h0m3-52h0m2 42h0m0 6h0m1-22h0m5 41h0m1-16h0m2-1h0m5-19h0m3-29h0m0 11h0m0 9h0m0 30h0m3-1h0m1-3h0m0 4h0m0 4h0m4-10h0m4 2h0m2 7h0m1-20h0m1-35h0m0 59h0m1-47h0m0 2h0m1 1h0m0 5h0m0 20h0m1 0h0m1 15h0m2-62h0m0 24h0m2 37h0m2-26h0m0 37h0m4-45h0m1 32h0m1-40h0m0 16h0m0 24h0m2-36h0m0 3h0m0 16h0m3-11h0m1-32h0m0 13h0m0 9h0m0 4h0m1-11h0m3 24h0m1 16h0m0 9h0m1-70h0m0 30h0m0 29h0m2-15h0m2-28h0m0 1h0m0 19h0m0 5h0m0 26h0m1-28h0m2 31h0m1-54h0m0 10h0m1-32h0m2-27h0m0 77h0m0 0h0m2-40h0m3 33h0m0 16h0m2-63h0m2 24h0m0 33h0m1-58h0m1 24h0m1 34h0m1 2h0m1-61h0m0 23h0m1 27h0m1-30h0m0 58h0m1-45h0m0 13h0m1-13h0m0 17h0m0 14h0m1-3h0m5-88h0m0 34h0m0 3h0m3-14h0m0 39h0m1-44h0m0 72h0m0 10h0m1-58h0m0 34h0m0 22h0m2-79h0m0 48h0m1-19h0m0 10h0m1 9h0m2-27h0m0 30h0m0 11h0m2-39h0m0 28h0m0 18h0m2-4h0m1-55h0m0 0h0m0 63h0m3-64h0m4 13h0m0 9h0m0 43h0m0 14h0m2-70h0m3 16h0m1-65h0m0 81h0m0 4h0m2-73h0m1 61h0m0 14h0m1-162h0m0 90h0m1 12h0m0 49h0m1-28h0m1 15h0m0 49h0m2-84h0m2-27h0m0 5h0m0 17h0m0 34h0m0 23h0m0 0h0m0 22h0m0 15h0m5-115h0m0 39h0m2 30h0m2-17h0m0 36h0m2-26h0m3-79h0m0 32h0m0 10h0m0 7h0m0 44h0m0 11h0m1-107h0m1 73h0m0 0h0m1-10h0m2 5h0m0 22h0m2-116h0m0 23h0m0 50h0m2 67h0m1-77h0m0 50h0m0 44h0m3-107h0m0 47h0m0 6h0m1 20h0m3-8h0m1-32h0m0 10h0m5-65h0m3 21h0m0 18h0m0 5h0m2 11h0m2-8h0m0 20h0m0 28h0m1-82h0m0 58h0m0 10h0m2 5h0m1-10h0m0 13h0m4-67h0m0 28h0m0 24h0m0 11h0m0 3h0m0 0h0m0 3h0m0 6h0m1-39h0m2 40h0m1-104h0m1-9h0m2 28h0m1 103h0m2-21h0m2-72h0m3-47h0m1 133h0m1-162h0m5 116h0m6-90h0m0 77h0m7 9h0m12 40h0m2-85h0m0 31h0m19-266h0m0 128h0m0 77h0m0 33h0m0 3h0m0 13h0m0 17h0m0 0h0m0 7h0m0 15h0m0 28h0m0 16h0"/>
<path d="m111 596h0m1 5h0m2 0h0m22-6h0m3-10h0m3-7h0m0 19h0m11-24h0m0 11h0m4 9h0m10-14h0m2 14h0m3 0h0m4-6h0m4-17h0m0 11h0m0 11h0m0 0h0m4-11h0m0 10h0m5 0h0m4-34h0m0 27h0m13-6h0m4-14h0m0 9h0m4 9h0m7-21h0m4 2h0m4 9h0m4-20h0m9 17h0m1 14h0m2-29h0m0 5h0m5-10h0m3 30h0m2 2h0m3-46h0m0 25h0m0 3h0m1 14h0m4-27h0m0 16h0m2-26h0m0 27h0m0 13h0m1-7h0m2 6h0m1-29h0m0 7h0m4 5h0m0 9h0m2-31h0m1 37h0m3-46h0m0 27h0m2-1h0m2-5h0m0 5h0m2 9h0m1-26h0m0 10h0m0 20h0m3-4h0m1-22h0m3-9h0m1 28h0m4-17h0m0 2h0m2 25h0m6-35h0m1 15h0m4-14h0m2-32h0m0 8h0m0 12h0m0 27h0m0 3h0m0 16h0m6-31h0m2-23h0m2 17h0m0 4h0m1-30h0m0 8h0m0 25h0m0 26h0m2-69h0m0 68h0m1-51h0m0 4h0m0 30h0m0 15h0m1-65h0m1 33h0m4-27h0m1 20h0m1 37h0m2-16h0m2-41h0m0 23h0m0 5h0m4-32h0m0 44h0m1 16h0m3-51h0m0 5h0m0 49h0m3-5h0m1-52h0m2 15h0m1 7h0m0 29h0m1-9h0m2-33h0m2 39h0m0 2h0m2-92h0m0 33h0m0 8h0m0 6h0m1-35h0m1 68h0m1 0h0m2 12h0m1-23h0m1 14h0m1-33h0m1 35h0m3-78h0m0 25h0m5 26h0m1-44h0m1 23h0m0 55h0m1-76h0m0 52h0m1-3h0m1-4h0m1 14h0m1-61h0m0 20h0m0 2h0m1-23h0m0 46h0m0 7h0m4-56h0m2 19h0m0 31h0m0 18h0m0 5h0m0 5h0m5-69h0m0 31h0m1 34h0m1-77h0m1 24h0m1 21h0m1-20h0m0 51h0m0 5h0m1-29h0m0 23h0m1-12h0m1-22h0m0 35h0m1-13h0m0 11h0m1-54h0m0 26h0m3-12h0m0 8h0m1-93h0m0 78h0m0 31h0m0 12h0m2-39h0m0 20h0m2-65h0m2 84h0m1-8h0m2-51h0m4-33h0m0 24h0m2 3h0m0 29h0m0 48h0m4-85h0m2-45h0m0 4h0m0 95h0m2 21h0m2-42h0m0 6h0m1-51h0m0 31h0m0 11h0m1-2h0m0 1h0m0 21h0m2 17h0m1 12h0m1-113h0m1 10h0m0 32h0m0 9h0m0 52h0m3-60h0m2 52h0m0 2h0m1-41h0m1 15h0m6-43h0m0 2h0m0 53h0m0 5h0m0 28h0m3-19h0m0 11h0m1-68h0m2-40h0m0 43h0m0 27h0m0 21h0m2-70h0m0 11h0m1 12h0m1 27h0m3 26h0m1-36h0m1 21h0m1-53h0m0 14h0m0 5h0m0 33h0m3-47h0m0 37h0m2-70h0m0 57h0m0 27h0m1-99h0m0 20h0m0 9h0m0 2h0m0 32h0m0 8h0m1 10h0m2-106h0m0 86h0m1-31h0m2-31h0m0 28h0m0 55h0m0 13h0m2-131h0m2 136h0m4-74h0m1 30h0m0 24h0m1-27h0m3-32h0m0 78h0m2-41h0m0 15h0m1-87h0m0 16h0m2 106h0m2-24h0m1-45h0m1 10h0m0 23h0m6-35h0m0 25h0m0 0h0m8 9h0m5-59h0m3-77h0m5 119h0m3-195h0m16 82h0m0 52h0m0 8h0m0 42h0m0 26h0m0 8h0m0 21h0m0 14h0"/>
<path d="m87 605h0m9-2h0m1 0h0m18-11h0m2 2h0m5-1h0m1 7h0m11-10h0m3 3h0m5-6h0m20 3h0m3-12h0m4 13h0m3-10h0m8-6h0m8 16h0m5-51h0m0 21h0m0 15h0m0 6h0m0 5h0m0 3h0m7-16h0m6 3h0m4-18h0m0 22h0m5-16h0m0 14h0m0 3h0m2-29h0m6 8h0m1 17h0m6-21h0m3-4h0m0 2h0m0 11h0m6 7h0m1-21h0m5 7h0m0 24h0m3-5h0m0 4h0m3-8h0m2-17h0m2-12h0m0 22h0m6-11h0m4-22h0m0 19h0m0 0h0m0 23h0m3-34h0m1 28h0m4-33h0m0 13h0m6-19h0m0 9h0m0 7h0m0 7h0m3-25h0m4 4h0m2-27h0m0 29h0m0 0h0m0 42h0m6-72h0m0 50h0m0 21h0m3-53h0m2 2h0m0 18h0m0 16h0m6-12h0m2-22h0m0 29h0m1-23h0m5-46h0m0 33h0m0 11h0m0 11h0m0 33h0m4-26h0m0 16h0m2-40h0m1 33h0m3-19h0m2-4h0m2-21h0m1 32h0m0 23h0m1-71h0m0 44h0m2-23h0m0 8h0m0 46h0m4-79h0m0 70h0m4-62h0m0 70h0m1-63h0m3 8h0m1 42h0m3-10h0m0 17h0m2-14h0m1-23h0m1-37h0m0 40h0m1-24h0m0 36h0m1-29h0m1-16h0m1-15h0m0 39h0m1 40h0m5-47h0m2-17h0m0 11h0m0 18h0m2-23h0m1 46h0m1-70h0m1 26h0m1 47h0m1-3h0m0 9h0m3 3h0m1-72h0m1 14h0m1 27h0m0 2h0m1-35h0m4-51h0m0 4h0m2 30h0m0 59h0m3-17h0m0 34h0m6-93h0m0 26h0m0 7h0m0 3h0m0 10h0m0 9h0m0 22h0m0 15h0m3-32h0m1-43h0m0 44h0m0 9h0m2-18h0m1 7h0m0 20h0m1-51h0m0 40h0m1-38h0m0 60h0m3-92h0m3 18h0m0 21h0m0 10h0m5 41h0m3-58h0m0 19h0m0 14h0m0 5h0m0 2h0m1 6h0m1-34h0m0 12h0m0 19h0m2-40h0m0 2h0m0 35h0m0 15h0m1-120h0m0 67h0m0 2h0m1 13h0m0 36h0m2-2h0m1 1h0m2-61h0m0 65h0m2-58h0m0 52h0m1-11h0m1-66h0m1-4h0m0 9h0m1-16h0m0 11h0m0 49h0m0 25h0m0 17h0m4-115h0m0 57h0m2-31h0m1 68h0m1-152h0m1 89h0m2-29h0m0 26h0m1-6h0m0 30h0m2-57h0m0 44h0m0 15h0m0 11h0m0 28h0m0 5h0m1-87h0m0 7h0m1 29h0m1-53h0m0 43h0m0 4h0m0 10h0m2-67h0m0 118h0m2-21h0m1-74h0m0 73h0m2-147h0m0 101h0m0 7h0m0 37h0m2-60h0m2 29h0m0 23h0m1-41h0m1-76h0m0 71h0m1-44h0m0 103h0m2-63h0m1-45h0m0 85h0m0 5h0m0 33h0m1-19h0m5-33h0m0 19h0m0 33h0m4-7h0m2-180h0m0 172h0m6-45h0m0 0h0m3 44h0m1-191h0m1 161h0m2-83h0m0 18h0m1-3h0m2 106h0m5-92h0m0 71h0m1-91h0m1 51h0m3 23h0m0 33h0m1-28h0m1 38h0m3-57h0m1 17h0m2-12h0m0 11h0m0 11h0m2-308h0m0 285h0m0 7h0m1-154h0m3 33h0m1 67h0m1 5h0m1 65h0m7 10h0m5-79h0m5 22h0m14-99h0m0 69h0m0 18h0m0 26h0m0 9h0m0 13h0m0 22h0m0 22h0"/>
<path d="m74 606h0m21-2h0m8-6h0m1 0h0m16 2h0m2-7h0m8 6h0m4-1h0m4-5h0m4-6h0m5 7h0m6-6h0m0 5h0m0 2h0m16-15h0m0 8h0m7-5h0m2 3h0m2-7h0m6 6h0m3 3h0m4-20h0m0 19h0m4-4h0m3-8h0m2 6h0m8-22h0m0 28h0m4-23h0m1 23h0m2-10h0m4 9h0m1-5h0m1 1h0m2-24h0m5 8h0m3-11h0m8 12h0m1 4h0m2 4h0m2-35h0m0 20h0m0 9h0m2-47h0m0 30h0m2 24h0m3-28h0m4 25h0m5-17h0m3 3h0m2-14h0m5-9h0m0 36h0m2-10h0m1-22h0m2 23h0m2-37h0m0 44h0m4-34h0m0 25h0m2 2h0m1-42h0m5 13h0m1 6h0m2-5h0m5-3h0m1-13h0m13-20h0m0 14h0m0 11h0m0 0h0m0 4h0m0 7h0m6 29h0m1-65h0m3 50h0m2-11h0m0 6h0m1 7h0m2-9h0m3-1h0m0 20h0m0 5h0m1-3h0m1-51h0m0 1h0m1 23h0m1-62h0m1 58h0m2 6h0m0 7h0m1-46h0m0 8h0m0 16h0m0 0h0m0 2h0m0 30h0m0 2h0m1-36h0m1 22h0m0 19h0m2-63h0m0 4h0m4-15h0m0 36h0m0 41h0m1-14h0m2-18h0m2-6h0m1-28h0m0 50h0m0 13h0m2-65h0m1 11h0m0 56h0m5-97h0m0 32h0m0 7h0m0 1h0m0 52h0m0 8h0m1-49h0m1-36h0m0 54h0m0 9h0m1-52h0m3-34h0m0 38h0m0 17h0m0 26h0m3-48h0m1 0h0m2 7h0m1-45h0m1 3h0m1 38h0m0 20h0m0 4h0m0 0h0m0 22h0m1-36h0m1-19h0m0 30h0m3 7h0m1-1h0m1-25h0m0 11h0m0 21h0m0 10h0m1-67h0m0 31h0m2 28h0m1-2h0m0 0h0m2 16h0m3-86h0m0 22h0m0 19h0m0 33h0m0 20h0m4-74h0m0 18h0m2 22h0m0 5h0m2 3h0m2-7h0m3-2h0m1-35h0m1 37h0m1-73h0m0 47h0m0 11h0m2-53h0m1 26h0m0 27h0m0 12h0m1-84h0m0 24h0m1 50h0m2-24h0m0 48h0m0 11h0m0 8h0m2-98h0m0 32h0m1 43h0m1-13h0m2-10h0m0 6h0m2-64h0m0 76h0m1-42h0m0 65h0m1 5h0m3-47h0m1-40h0m1 43h0m2-65h0m0 7h0m0 18h0m0 12h0m0 13h0m0 12h0m0 4h0m0 11h0m0 11h0m0 3h0m0 25h0m3-90h0m0 50h0m1-81h0m0 23h0m0 9h0m0 16h0m0 48h0m1-53h0m1-84h0m1 71h0m1-43h0m1 102h0m0 5h0m2-86h0m0 73h0m0 17h0m1-60h0m2-33h0m0 88h0m3-57h0m0 57h0m1-9h0m6-168h0m0 76h0m0 6h0m0 44h0m0 6h0m0 3h0m4-29h0m0 39h0m3-7h0m0 21h0m1 17h0m1-18h0m1-31h0m1-48h0m0 26h0m1-9h0m1 23h0m3-32h0m0 90h0m0 0h0m1-70h0m3 10h0m2 41h0m2 14h0m1-125h0m1 23h0m2-27h0m0 36h0m0 62h0m0 0h0m3-83h0m1 99h0m1-6h0m0 8h0m3-47h0m0 43h0m0 4h0m2-60h0m2 27h0m1 37h0m2-34h0m0 15h0m1-113h0m4 144h0m2-72h0m1 31h0m5-51h0m4 16h0m0 35h0m12 18h0m1-188h0m12 126h0m11-24h0m0 47h0m0 9h0m0 8h0m0 8h0m0 3h0"/>
<path d="m74 606h0m19-2h0m7-1h0m43-10h0m4-4h0m0 7h0m1 0h0m2-3h0m3-20h0m0 11h0m0 3h0m16-7h0m9 10h0m7-12h0m8 12h0m17-15h0m0 12h0m7-27h0m0 10h0m5-14h0m11-6h0m0 7h0m0 15h0m4 3h0m1-22h0m5 20h0m5-15h0m8-18h0m2-2h0m0 33h0m2-1h0m1 5h0m4-5h0m0 10h0m3-11h0m3-1h0m0 7h0m1-12h0m1-15h0m0 14h0m6-1h0m0 17h0m3-26h0m4 12h0m2 11h0m3-49h0m0 44h0m2-23h0m1-22h0m0 18h0m0 7h0m0 7h0m0 4h0m1-29h0m0 35h0m2-46h0m0 28h0m2 26h0m1-15h0m1 1h0m5-28h0m1-1h0m0 36h0m6-69h0m0 58h0m0 10h0m3-47h0m4 29h0m1-11h0m1 27h0m2-50h0m7 46h0m1-52h0m1-13h0m0 35h0m0 15h0m3-17h0m3 14h0m0 19h0m0 0h0m0 3h0m2-12h0m0 6h0m2-51h0m0 22h0m0 13h0m1 1h0m2-32h0m1-19h0m0 28h0m0 5h0m0 9h0m0 5h0m0 29h0m0 0h0m6-67h0m2 2h0m2 19h0m0 41h0m2-53h0m2-15h0m0 34h0m0 7h0m0 16h0m2-56h0m2 9h0m1-25h0m1 80h0m1-26h0m3-38h0m2-23h0m0 28h0m0 38h0m0 15h0m1-89h0m3 51h0m0 25h0m1-78h0m0 28h0m0 54h0m0 18h0m2-45h0m0 14h0m1-73h0m1 27h0m0 36h0m1-30h0m0 47h0m1-53h0m0 28h0m0 42h0m7-47h0m1-69h0m0 48h0m0 7h0m0 11h0m0 39h0m0 1h0m0 15h0m0 0h0m4-45h0m0 23h0m3-50h0m0 5h0m1 27h0m2-57h0m0 49h0m3 36h0m5-45h0m1-95h0m0 73h0m0 34h0m1-40h0m3-85h0m0 63h0m0 8h0m0 2h0m0 9h0m0 0h0m0 38h0m0 16h0m1-37h0m2 7h0m0 1h0m0 19h0m1-44h0m0 13h0m2 8h0m0 9h0m0 14h0m0 10h0m0 9h0m0 3h0m1-65h0m2-43h0m0 55h0m1 46h0m1-52h0m0 12h0m0 35h0m0 2h0m3-88h0m3 7h0m0 19h0m0 44h0m0 2h0m3-9h0m1-40h0m0 32h0m0 39h0m0 6h0m0 0h0m1-48h0m1-7h0m0 17h0m1-46h0m1 34h0m2-20h0m1 29h0m3-70h0m0 21h0m0 7h0m0 0h0m4 25h0m0 60h0m2-73h0m0 26h0m1-38h0m0 1h0m0 12h0m0 31h0m1-59h0m2 1h0m0 11h0m0 64h0m2-62h0m0 13h0m0 34h0m0 37h0m1-42h0m1-128h0m0 69h0m1 46h0m1-17h0m0 41h0m0 12h0m3-97h0m0 49h0m0 9h0m0 22h0m1 11h0m1-4h0m1-15h0m1 24h0m1-56h0m0 36h0m1-26h0m0 31h0m1-22h0m0 33h0m2-4h0m3 1h0m1-72h0m0 13h0m0 60h0m0 3h0m2-82h0m1 39h0m3 30h0m0 34h0m0 0h0m3-63h0m0 39h0m1-7h0m1-15h0m3-45h0m0 58h0m0 25h0m1-83h0m1-9h0m2 69h0m1-48h0m2-9h0m0 44h0m0 0h0m6-66h0m1-88h0m0 160h0m1-22h0m0 17h0m1-5h0m4 21h0m6-15h0m2 29h0m4-55h0m4 5h0m0 0h0m11-78h0m3 17h0m0 71h0m10-63h0m0 17h0m0 11h0m0 5h0m0 10h0m0 7h0m0 7h0m0 59h0"/>
<path d="m74 606h0m25-5h0m12-10h0m0 10h0m11-8h0m0 7h0m5-8h0m1 3h0m17-3h0m5-4h0m0 8h0m3-1h0m8-13h0m7 6h0m1-35h0m0 14h0m7 11h0m5 4h0m3-1h0m1-19h0m4 26h0m1-1h0m3-63h0m0 36h0m0 13h0m0 0h0m0 6h0m7 3h0m4-30h0m0 36h0m4-19h0m15 13h0m2-5h0m4-15h0m3 3h0m1-17h0m0 29h0m0 2h0m0 0h0m5-16h0m4 6h0m6-5h0m0 9h0m2-17h0m3 7h0m2 17h0m2-5h0m3-13h0m5-22h0m2 19h0m2-9h0m1 0h0m1 21h0m2-11h0m6-23h0m0 41h0m0 0h0m1-5h0m2-31h0m3 29h0m1-38h0m0 15h0m0 14h0m0 8h0m8 1h0m1-50h0m1 35h0m1-25h0m0 0h0m3-6h0m0 19h0m1-17h0m1 20h0m1 20h0m1 5h0m0 1h0m1-24h0m0 3h0m3 2h0m5-47h0m0 17h0m0 4h0m0 7h0m0 38h0m4-55h0m2 11h0m0 6h0m3 34h0m1-9h0m1-36h0m1-12h0m3 30h0m1-8h0m2 13h0m3-25h0m1 33h0m4-44h0m4 42h0m4 11h0m1-67h0m0 28h0m1-89h0m2 73h0m2-2h0m0 8h0m0 8h0m0 28h0m2 3h0m2 13h0m4-35h0m2-41h0m0 30h0m0 28h0m2-33h0m1-26h0m2 30h0m0 2h0m1-33h0m0 65h0m1-37h0m0 4h0m0 3h0m0 16h0m0 9h0m2-9h0m1-16h0m0 25h0m2-27h0m1-81h0m1-4h0m0 119h0m1-64h0m0 6h0m0 18h0m1-14h0m2 48h0m1-27h0m1-68h0m0 38h0m1-2h0m1 34h0m1 15h0m1-29h0m0 13h0m1-16h0m1 14h0m3-48h0m0 4h0m0 7h0m0 55h0m0 22h0m2-115h0m0 45h0m4-61h0m2 73h0m1-20h0m0 49h0m1-32h0m0 31h0m2-33h0m1-40h0m0 86h0m0 8h0m1-52h0m0 18h0m0 21h0m1-65h0m1-56h0m0 136h0m2-74h0m1 5h0m0 19h0m1-34h0m0 45h0m1 8h0m2-59h0m0 75h0m2-25h0m1-58h0m1-42h0m0 31h0m0 52h0m3 29h0m1-105h0m0 113h0m1-90h0m0 90h0m0 9h0m4-93h0m0 55h0m2 21h0m2-76h0m0 2h0m0 4h0m0 50h0m0 17h0m5-34h0m0 21h0m2-16h0m0 26h0m1-78h0m0 62h0m0 37h0m3-38h0m0 23h0m3-92h0m0 105h0m1-37h0m0 18h0m0 15h0m2-80h0m1 42h0m1-29h0m0 9h0m1-23h0m1 53h0m3-60h0m0 0h0m0 39h0m3 25h0m1-48h0m0 72h0m1-65h0m1 49h0m3-41h0m1 14h0m1 16h0m0 27h0m1-83h0m4-34h0m0 55h0m0 26h0m0 35h0m0 0h0m2-91h0m0 79h0m0 16h0m2-67h0m2-3h0m0 56h0m3 13h0m0 10h0m3-178h0m0 132h0m0 2h0m0 10h0m2-127h0m0 100h0m0 19h0m1-8h0m1-112h0m4 76h0m0 53h0m3 3h0m0 6h0m0 11h0m2-140h0m0 55h0m2-50h0m0 67h0m0 51h0m0 7h0m1-86h0m1-31h0m1 29h0m2 20h0m4-25h0m0 42h0m0 30h0m7-50h0m1 32h0m2 10h0m9-135h0m1 67h0m1-19h0m11 48h0m6-62h0m6-153h0m0 81h0m0 63h0m0 50h0m0 3h0m0 18h0m0 5h0m0 18h0m0 7h0m0 16h0m0 37h0"/>
<path d="m74 606h0m28-3h0m9-4h0m1 2h0m7-5h0m6 1h0m4-6h0m9 1h0m15 2h0m3-8h0m1-1h0m12-18h0m0 18h0m0 2h0m0 6h0m3-2h0m1-7h0m7-7h0m0 7h0m0 8h0m6-1h0m7-26h0m0 8h0m0 3h0m0 6h0m4 2h0m5-8h0m0 7h0m1-2h0m4 0h0m0 2h0m9 4h0m2-12h0m3-25h0m4 16h0m8-14h0m0 21h0m0 1h0m5 4h0m2-21h0m1 16h0m1-15h0m1 9h0m0 5h0m0 4h0m2-26h0m3 32h0m5-22h0m10-26h0m2 19h0m0 25h0m3-16h0m2-1h0m1-17h0m2-15h0m2 8h0m6-2h0m5-24h0m0 46h0m0 20h0m1-42h0m4 29h0m2-35h0m0 14h0m1-3h0m0 15h0m0 0h0m2-8h0m4-10h0m0 17h0m0 15h0m5-63h0m2 33h0m6-65h0m0 27h0m0 6h0m0 19h0m0 1h0m0 4h0m0 19h0m5-30h0m3 13h0m0 5h0m1 20h0m1-67h0m0 69h0m1-29h0m1-8h0m0 29h0m1-56h0m0 54h0m4-23h0m1-33h0m0 28h0m0 27h0m0 12h0m4-26h0m0 29h0m1 2h0m1-49h0m2 1h0m0 9h0m4-12h0m1-29h0m3 47h0m0 7h0m0 4h0m0 10h0m0 15h0m1-40h0m3-13h0m2-48h0m0 82h0m0 1h0m1 3h0m2-20h0m1 18h0m4-42h0m0 6h0m1-5h0m1-31h0m0 29h0m1 19h0m0 11h0m4-38h0m2 55h0m3-99h0m0 9h0m0 20h0m0 2h0m0 38h0m1-9h0m2 48h0m2-49h0m1 2h0m1 1h0m7-20h0m1 13h0m2 13h0m1-32h0m1-59h0m0 30h0m0 50h0m0 39h0m0 2h0m0 7h0m3-30h0m0 2h0m1-101h0m0 73h0m4 31h0m0 0h0m1 0h0m1-1h0m2-26h0m1-13h0m1-26h0m0 75h0m1-67h0m4-44h0m0 72h0m0 8h0m2-91h0m0 29h0m2 12h0m0 82h0m2-157h0m1 56h0m1 46h0m1-22h0m0 42h0m1-68h0m0 18h0m0 42h0m0 18h0m1-41h0m1 39h0m1-35h0m1 66h0m2-62h0m1-71h0m0 90h0m4-69h0m0 41h0m0 25h0m0 21h0m0 5h0m0 16h0m4-96h0m0 77h0m0 8h0m1-41h0m0 32h0m1-48h0m1 46h0m1-156h0m0 116h0m1-54h0m0 12h0m0 72h0m0 15h0m0 3h0m0 1h0m1-74h0m1 60h0m1-9h0m2-125h0m0 88h0m0 29h0m0 52h0m2-56h0m0 34h0m0 7h0m3-45h0m1-58h0m1 55h0m0 3h0m0 26h0m0 24h0m1-23h0m0 21h0m2-29h0m0 6h0m2 27h0m1-76h0m4-34h0m0 62h0m0 29h0m2-117h0m0 22h0m1 10h0m0 45h0m1-131h0m0 107h0m2 13h0m1-9h0m2-71h0m0 77h0m0 0h0m0 0h0m0 8h0m0 42h0m2-53h0m1-23h0m1 3h0m0 31h0m0 14h0m1 23h0m3-69h0m0 14h0m1 42h0m1-63h0m0 84h0m2-77h0m0 67h0m0 33h0m2-81h0m0 12h0m1 48h0m1-15h0m3-91h0m0 20h0m1-52h0m0 75h0m7 52h0m1-37h0m4 19h0m4-80h0m0 102h0m3-23h0m1-157h0m0 102h0m0 63h0m6-42h0m0 56h0m2-73h0m0 39h0m3-83h0m5 30h0m4 29h0m20-155h0m0 56h0m0 44h0m0 26h0m0 21h0m0 6h0m0 22h0m0 17h0"/>
<path d="m74 606h0m12-2h0m0 1h0m6-4h0m5 2h0m10-1h0m2-4h0m8-4h0m0 6h0m10-1h0m15-12h0m5-1h0m0 9h0m6-2h0m2-5h0m10-4h0m1-5h0m0 4h0m3 8h0m11-14h0m0 0h0m0 7h0m0 8h0m8-1h0m1-19h0m4 6h0m8-4h0m1-3h0m4 16h0m10-20h0m5 14h0m0 0h0m5 4h0m7-67h0m0 22h0m0 31h0m0 9h0m7-25h0m3-15h0m2 26h0m0 17h0m5-39h0m0 9h0m5 5h0m0 9h0m2 0h0m1-32h0m0 10h0m0 36h0m4-29h0m1-4h0m2 12h0m0 20h0m0 0h0m16-31h0m0 4h0m2 8h0m2-7h0m2 10h0m1 4h0m6-23h0m2 2h0m0 23h0m3-38h0m0 8h0m1-5h0m2-1h0m0 6h0m0 21h0m1-35h0m10-19h0m0 0h0m0 33h0m0 12h0m0 5h0m6-24h0m2 25h0m1 1h0m2-37h0m3 26h0m0 0h0m0 12h0m3-46h0m1 47h0m0 3h0m1-29h0m2 3h0m0 14h0m1-60h0m0 23h0m0 1h0m1 45h0m3-43h0m0 37h0m0 7h0m6-56h0m2-4h0m0 12h0m4 18h0m0 8h0m2-38h0m1 1h0m0 8h0m4-4h0m0 17h0m3-28h0m0 12h0m1 40h0m1-8h0m1-50h0m4 4h0m1-12h0m1 11h0m0 57h0m1-13h0m2-41h0m0 11h0m0 11h0m0 22h0m1 0h0m1-73h0m3 25h0m0 30h0m0 0h0m0 4h0m0 29h0m3-95h0m0 71h0m1-49h0m0 8h0m0 56h0m1-75h0m0 15h0m1 34h0m1-20h0m1-12h0m0 16h0m0 35h0m1-56h0m1 17h0m1-15h0m1 37h0m2-95h0m0 72h0m0 12h0m4-57h0m4 35h0m0 60h0m1-62h0m0 1h0m0 56h0m1 10h0m1-80h0m0 75h0m6-35h0m2 32h0m1-59h0m0 20h0m1-42h0m1 46h0m1-80h0m0 15h0m0 68h0m0 9h0m0 4h0m0 23h0m0 3h0m2-9h0m2-96h0m0 54h0m1 36h0m1-90h0m0 68h0m0 20h0m0 10h0m0 5h0m3-42h0m2-54h0m1 42h0m1 19h0m1-78h0m0 59h0m3-40h0m0 29h0m0 16h0m0 10h0m0 12h0m0 16h0m0 0h0m0 11h0m1-63h0m1-75h0m1 2h0m1-7h0m0 78h0m0 10h0m1 8h0m2-18h0m0 62h0m2-59h0m0 46h0m3-68h0m2-5h0m0 34h0m0 11h0m1-70h0m0 8h0m1 60h0m1-48h0m0 3h0m3 80h0m2-97h0m2 0h0m0 46h0m0 5h0m0 20h0m0 6h0m0 14h0m2-100h0m1-10h0m0 35h0m1 33h0m2-39h0m3 45h0m1 29h0m1-78h0m0 68h0m3-71h0m1 30h0m1-8h0m0 61h0m0 11h0m1-40h0m2-90h0m0 43h0m0 37h0m0 5h0m1-5h0m0 8h0m2-39h0m0 38h0m0 6h0m1-25h0m1 29h0m1 21h0m1-72h0m0 29h0m2-12h0m0 1h0m0 24h0m0 4h0m0 10h0m0 0h0m0 38h0m2-54h0m2-22h0m0 9h0m1-28h0m3-47h0m0 66h0m0 38h0m0 3h0m0 9h0m0 24h0m1-92h0m4-23h0m4 31h0m1-56h0m2 112h0m1-12h0m1-66h0m0 79h0m2-137h0m1 52h0m3 44h0m2-3h0m1-13h0m0 41h0m5-115h0m8 8h0m24-123h0m0 39h0m0 116h0m0 18h0m0 4h0m0 30h0m0 18h0m0 40h0"/>
<path d="m74 606h0m0 0h0m0 0h0m9-1h0m3 0h0m6-2h0m15-4h0m4-3h0m3 5h0m13-17h0m0 11h0m4 2h0m9 0h0m2-19h0m10 11h0m1 6h0m3-2h0m6-11h0m7-9h0m0 7h0m0 13h0m3-11h0m2-3h0m2 9h0m17-31h0m0 16h0m0 6h0m0 7h0m8-9h0m5-12h0m4 18h0m11-12h0m12-20h0m0 27h0m3-5h0m1-15h0m2 16h0m7-26h0m1 23h0m2-1h0m1 3h0m1-13h0m0 12h0m1-4h0m1-44h0m0 49h0m4-25h0m3 33h0m1-19h0m1 0h0m0 16h0m3-91h0m0 53h0m0 18h0m1 10h0m1-22h0m5 25h0m2-26h0m1 20h0m4 8h0m1-28h0m0 30h0m6-27h0m0 29h0m3-90h0m0 73h0m3-14h0m0 0h0m0 23h0m0 7h0m2-36h0m0 3h0m0 12h0m2-3h0m2-1h0m1-11h0m2 10h0m1-1h0m1-19h0m1 3h0m0 16h0m2-16h0m2-24h0m0 40h0m5-53h0m0 6h0m0 19h0m0 1h0m6-3h0m2 25h0m0 4h0m1 2h0m1-24h0m1 37h0m2-26h0m1-4h0m9 11h0m0 6h0m0 18h0m3-72h0m0 7h0m0 4h0m0 2h0m2 33h0m1 19h0m1-70h0m0 38h0m1-28h0m3 30h0m2-34h0m0 20h0m1 44h0m1-31h0m0 28h0m2-47h0m0 11h0m0 2h0m0 24h0m8-57h0m0 36h0m0 16h0m6-71h0m1-44h0m0 83h0m0 4h0m2 5h0m0 25h0m1-58h0m2 8h0m0 12h0m3 23h0m2-14h0m2-3h0m1-58h0m2 27h0m0 20h0m0 4h0m1-6h0m0 9h0m0 4h0m1 16h0m1-18h0m0 19h0m0 7h0m1 16h0m5-123h0m0 35h0m0 42h0m0 11h0m0 0h0m0 2h0m0 0h0m0 13h0m0 18h0m0 11h0m5-88h0m0 16h0m1 22h0m0 14h0m2-54h0m2-39h0m0 89h0m0 31h0m4-76h0m1 16h0m1-22h0m0 0h0m0 29h0m1-22h0m1 5h0m1 12h0m1-134h0m6 124h0m2-31h0m1 14h0m5-8h0m0 43h0m0 34h0m0 6h0m1-89h0m1-16h0m1 51h0m0 10h0m3-28h0m0 30h0m0 2h0m0 41h0m0 4h0m0 9h0m2-37h0m1-19h0m2-55h0m2-27h0m0 118h0m1-67h0m0 35h0m1-41h0m2 31h0m0 4h0m1-4h0m2-38h0m0 2h0m0 8h0m0 33h0m0 3h0m3-185h0m0 173h0m0 18h0m7-54h0m0 19h0m0 0h0m0 13h0m0 22h0m0 31h0m4-15h0m1-23h0m0 8h0m1-3h0m0 20h0m1-87h0m0 29h0m2-37h0m1 13h0m3 29h0m0 39h0m2-100h0m1 50h0m0 47h0m0 19h0m1-67h0m2 70h0m1-2h0m2-84h0m0 59h0m0 17h0m0 8h0m1-28h0m1-102h0m1 34h0m1 36h0m1 19h0m1-162h0m0 138h0m0 18h0m1 46h0m1-46h0m0 9h0m1 25h0m3-101h0m1-55h0m0 121h0m1 22h0m2-123h0m1 131h0m4-148h0m0 29h0m0 44h0m0 22h0m0 8h0m0 22h0m0 14h0m0 8h0m2-47h0m0 7h0m0 53h0m1-17h0m2-112h0m0 101h0m4-2h0m0 16h0m2-48h0m0 5h0m4 17h0m1 10h0m5-208h0m1 71h0m1 163h0m3-31h0m4-24h0m1 49h0m2-40h0m4 2h0m16-311h0m0 232h0m0 71h0m0 28h0m0 22h0m0 9h0"/>
<path d="m95 604h0m13-12h0m6 3h0m2 4h0m6 1h0m1 0h0m4-8h0m15-5h0m7 2h0m4-10h0m8 15h0m2-3h0m0 0h0m8 1h0m12-12h0m5 1h0m1-14h0m4 15h0m8 7h0m1-7h0m3-12h0m4 0h0m1 8h0m0 2h0m0 7h0m2-9h0m5-51h0m0 33h0m0 0h0m0 25h0m4-9h0m5-18h0m0 22h0m7-62h0m0 31h0m0 2h0m3 23h0m5-11h0m2 16h0m0 4h0m3-21h0m6 9h0m7-37h0m1 17h0m2-4h0m3 6h0m0 8h0m0 13h0m2-5h0m0 9h0m4-42h0m0 24h0m2-42h0m0 33h0m0 15h0m0 13h0m6-17h0m0 16h0m3-26h0m3 22h0m1-71h0m2 55h0m1-44h0m2 14h0m0 24h0m7 5h0m2 1h0m0 0h0m1-7h0m1-11h0m0 17h0m3-33h0m1 32h0m2-5h0m5-77h0m0 33h0m0 55h0m4-52h0m0 43h0m1 3h0m0 9h0m3-48h0m1-35h0m0 74h0m1-50h0m0 66h0m1-8h0m1-55h0m0 35h0m2-12h0m0 33h0m2-46h0m0 30h0m1-56h0m1 17h0m2 30h0m0 14h0m2-110h0m0 84h0m2-36h0m1 25h0m1-43h0m0 70h0m2 13h0m2-25h0m1-44h0m1 65h0m0 4h0m0 6h0m2-89h0m0 79h0m1 2h0m3-8h0m4-30h0m1 22h0m1-26h0m2-1h0m0 5h0m2-83h0m0 72h0m5-39h0m0 50h0m0 3h0m2 10h0m0 25h0m2-81h0m0 64h0m1-42h0m1 5h0m1 39h0m3-52h0m0 7h0m1 26h0m2-27h0m0 28h0m1-68h0m0 46h0m0 59h0m1-71h0m3 65h0m2-82h0m0 46h0m0 28h0m0 4h0m3-2h0m1-48h0m0 1h0m2 11h0m0 11h0m0 37h0m3-54h0m2 35h0m0 11h0m3-35h0m1-25h0m0 26h0m1-6h0m0 24h0m1 1h0m2-60h0m0 64h0m3-72h0m0 13h0m0 8h0m0 13h0m0 12h0m1-16h0m1 35h0m1-20h0m0 1h0m0 11h0m0 19h0m0 16h0m2-86h0m2-57h0m0 52h0m0 19h0m0 2h0m0 41h0m0 23h0m6-38h0m2-23h0m1-6h0m1-83h0m0 119h0m0 1h0m1 6h0m0 4h0m2 2h0m1-26h0m3-36h0m0 23h0m0 60h0m4-56h0m0 44h0m2-84h0m0 27h0m1 25h0m2-39h0m0 18h0m0 43h0m0 13h0m2-163h0m0 92h0m1 12h0m0 8h0m1 42h0m1-105h0m1 20h0m1-114h0m0 68h0m1 23h0m0 45h0m1 44h0m0 13h0m5-65h0m0 5h0m1 21h0m0 13h0m0 28h0m5-19h0m3-17h0m1-37h0m0 65h0m1-149h0m0 94h0m0 28h0m0 20h0m1-142h0m0 115h0m0 4h0m0 26h0m2 1h0m3-116h0m0 30h0m0 4h0m0 47h0m0 38h0m2-116h0m1 37h0m0 11h0m1-30h0m0 34h0m0 26h0m2-122h0m0 84h0m1 9h0m5-14h0m0 47h0m0 13h0m1 10h0m1-97h0m2-38h0m0 40h0m3-32h0m0 100h0m1-3h0m0 9h0m0 20h0m2-42h0m0 10h0m3-76h0m2-86h0m0 160h0m2-34h0m0 17h0m0 8h0m1 41h0m2-24h0m2-21h0m2 42h0m2 22h0m2-93h0m0 35h0m4 27h0m2-1h0m0 45h0m2-45h0m2-59h0m2 89h0m28-89h0m0 20h0m0 7h0m0 6h0m0 25h0m0 8h0m0 0h0m0 0h0"/>
<path d="m74 606h0m17-2h0m27-8h0m2 4h0m14-2h0m4-14h0m9 2h0m6-2h0m4-1h0m3 5h0m2 6h0m1-12h0m6-15h0m0 13h0m0 4h0m4 0h0m4 3h0m5-18h0m11-12h0m0 16h0m0 0h0m3 0h0m5-11h0m0 5h0m1 9h0m3 1h0m9 8h0m3-12h0m4 8h0m2 1h0m8-9h0m2-22h0m0 0h0m0 10h0m0 23h0m4-13h0m1-11h0m1 24h0m2-27h0m2-2h0m0 21h0m0 7h0m2 0h0m0 0h0m3-49h0m5-10h0m0 44h0m6-13h0m0 15h0m1-19h0m0 19h0m5-43h0m0 13h0m0 5h0m0 10h0m3 16h0m5-58h0m0 33h0m0 5h0m1 2h0m3-23h0m2 5h0m0 43h0m2-9h0m5 1h0m2-30h0m4 22h0m2-42h0m1 47h0m3-41h0m0 9h0m2 27h0m1-34h0m1 12h0m0 6h0m1 3h0m3-27h0m0 3h0m3 35h0m4-53h0m0 36h0m0 8h0m5 5h0m2-22h0m0 28h0m1-37h0m4 36h0m1-30h0m2-3h0m0 22h0m1 17h0m1-35h0m1-43h0m0 31h0m4 50h0m4-8h0m0 5h0m2-40h0m1-5h0m2 4h0m0 34h0m1-92h0m0 30h0m0 8h0m1 38h0m2-26h0m1-4h0m2-17h0m0 8h0m1 14h0m1-28h0m3 28h0m0 45h0m1-47h0m0 17h0m2-35h0m2-34h0m0 22h0m0 40h0m1-7h0m1-52h0m2 94h0m3-7h0m1-28h0m0 3h0m1 6h0m1 2h0m4-15h0m1 35h0m2-14h0m0 14h0m3-62h0m3 6h0m1 15h0m2 11h0m2 2h0m3-122h0m0 49h0m0 39h0m0 6h0m0 9h0m0 29h0m0 11h0m0 4h0m3-111h0m2 75h0m0 24h0m1-22h0m1-10h0m2-114h0m0 161h0m1-1h0m1-30h0m0 21h0m2-64h0m0 0h0m1 25h0m1-42h0m1 22h0m0 71h0m4-102h0m1 59h0m0 21h0m0 0h0m2-130h0m0 47h0m0 38h0m0 66h0m4-78h0m0 8h0m1 26h0m2-27h0m1 14h0m1-81h0m0 106h0m1-16h0m0 43h0m1-70h0m0 49h0m2-38h0m0 35h0m1-20h0m0 32h0m3-60h0m0 9h0m0 6h0m4-13h0m1 68h0m1-35h0m1-41h0m0 49h0m0 20h0m0 3h0m2-70h0m0 33h0m0 39h0m2-83h0m0 22h0m0 21h0m1 21h0m2-72h0m0 35h0m3-53h0m0 104h0m1-79h0m0 22h0m2 44h0m1-97h0m1 44h0m2-49h0m0 18h0m0 52h0m2-27h0m2 18h0m1-178h0m1 99h0m0 76h0m0 40h0m0 4h0m1-53h0m0 12h0m1-78h0m1 37h0m0 66h0m2-100h0m1 1h0m0 64h0m1-50h0m0 20h0m3 29h0m0 5h0m0 11h0m0 11h0m0 18h0m1-116h0m1 68h0m1-15h0m0 1h0m0 7h0m0 38h0m1-36h0m0 58h0m2-148h0m0 34h0m0 38h0m0 51h0m1-79h0m2-27h0m0 65h0m4-10h0m2-22h0m0 15h0m0 86h0m1-46h0m1-76h0m0 3h0m0 70h0m0 51h0m1-105h0m0 16h0m0 64h0m2-3h0m0 33h0m1-51h0m3 1h0m3-7h0m0 13h0m1 40h0m2-126h0m3 94h0m3 9h0m6-13h0m3-79h0m1-13h0m3 29h0m0 29h0m3 16h0m10 35h0m10-188h0m8 71h0m0 24h0m0 25h0m0 7h0m0 6h0m0 12h0m0 13h0m0 9h0m0 4h0"/>
<path d="m106 602h0m5-6h0m0 0h0m11-3h0m10-1h0m3 6h0m0 0h0m4-1h0m1-6h0m2-8h0m0 10h0m16-1h0m6-7h0m5-18h0m4 12h0m7-4h0m0 17h0m8-13h0m4 9h0m1-31h0m0 16h0m21-9h0m0 21h0m19-89h0m0 22h0m0 22h0m0 15h0m0 1h0m0 1h0m4 9h0m2-10h0m0 12h0m3 10h0m6-18h0m0 18h0m1-14h0m1 4h0m3-9h0m2 15h0m1 1h0m5-4h0m1-21h0m3-23h0m0 18h0m0 8h0m0 27h0m3-13h0m5-32h0m1 7h0m3 9h0m0 20h0m2-31h0m0 10h0m2 26h0m1-19h0m4-32h0m0 8h0m0 8h0m3 27h0m4-37h0m1 4h0m3 29h0m2-32h0m1-2h0m1 15h0m1 5h0m0 7h0m1-25h0m0 31h0m0 8h0m4-29h0m2-4h0m4-23h0m0 28h0m0 2h0m4 0h0m1-12h0m1-27h0m0 48h0m1-39h0m0 33h0m0 15h0m1-38h0m1 20h0m3-40h0m0 11h0m2 28h0m2-24h0m0 3h0m0 26h0m1-30h0m1 8h0m0 28h0m0 11h0m1-28h0m3-28h0m0 6h0m0 18h0m0 20h0m3 4h0m3-26h0m1-8h0m0 20h0m2 11h0m1-3h0m1-27h0m0 18h0m1 23h0m1-72h0m2 3h0m1 67h0m2-35h0m1 27h0m2-28h0m1-14h0m0 29h0m1-40h0m1 27h0m2-34h0m0 21h0m0 28h0m0 15h0m1-33h0m4-16h0m2-108h0m0 96h0m2 64h0m1-7h0m1-14h0m1-51h0m0 14h0m0 52h0m0 4h0m3-24h0m1-61h0m1 4h0m0 62h0m2-7h0m1 10h0m1-60h0m1 55h0m3-15h0m0 29h0m1 7h0m5-109h0m0 17h0m0 27h0m0 44h0m0 17h0m3-31h0m1-32h0m0 27h0m1 5h0m1-50h0m1 46h0m3-48h0m0 62h0m0 12h0m0 4h0m3-190h0m1 136h0m1-71h0m1 54h0m0 72h0m0 7h0m3-98h0m0 35h0m0 16h0m4-32h0m2-10h0m0 48h0m3-53h0m0 62h0m1-36h0m0 38h0m3-55h0m0 50h0m0 15h0m1-29h0m2-33h0m5-54h0m0 9h0m0 12h0m0 8h0m0 71h0m0 16h0m0 4h0m0 4h0m3-101h0m1 43h0m2-47h0m1 4h0m0 58h0m0 4h0m0 12h0m1-123h0m1 14h0m0 37h0m0 50h0m0 16h0m2 7h0m1 10h0m0 8h0m2-91h0m0 84h0m1-27h0m1-78h0m0 26h0m1 22h0m0 9h0m0 36h0m2-48h0m1-31h0m0 102h0m1-193h0m1 92h0m0 35h0m0 50h0m2-94h0m0 66h0m4 5h0m0 17h0m0 5h0m1-60h0m3 22h0m0 48h0m1-93h0m0 42h0m0 0h0m0 36h0m1-94h0m1 30h0m0 24h0m1-21h0m0 16h0m1-131h0m0 91h0m0 100h0m1-81h0m0 35h0m1-30h0m1 26h0m0 9h0m0 4h0m3-60h0m0 13h0m0 62h0m1-69h0m2-160h0m0 203h0m0 38h0m1-61h0m1 18h0m1 31h0m2-77h0m0 81h0m1-92h0m0 47h0m0 0h0m0 76h0m2-74h0m0 0h0m1-121h0m0 92h0m0 28h0m0 4h0m1-67h0m1 70h0m2-8h0m1 33h0m0 25h0m1-171h0m3 28h0m0 66h0m8 32h0m2-4h0m4-77h0m2 114h0m6 11h0m2-6h0m4-55h0m0 16h0m0 23h0m3-32h0m1-3h0m24-108h0m0 115h0m0 26h0"/>
<path d="m90 603h0m6-3h0m21 0h0m5-3h0m0 3h0m8-5h0m5-2h0m1-4h0m6 8h0m5-16h0m9 8h0m3 1h0m10-23h0m4 12h0m3 13h0m8-16h0m1 0h0m8-52h0m14 33h0m7 20h0m1 4h0m5-17h0m0 10h0m0 3h0m1-13h0m1 10h0m1-3h0m10-31h0m0 0h0m0 8h0m0 1h0m0 2h0m0 29h0m0 4h0m5-27h0m1 16h0m14 9h0m4-50h0m6 10h0m2-7h0m4 22h0m1 3h0m3-42h0m0 42h0m4-13h0m2 3h0m0 28h0m2-37h0m2 12h0m2-13h0m5 9h0m1-21h0m0 48h0m5-43h0m2 24h0m0 14h0m1-7h0m2-2h0m1-17h0m1-21h0m2-3h0m1 32h0m0 12h0m1-31h0m6-32h0m0 63h0m7-41h0m0 35h0m4-6h0m1-37h0m2 15h0m2 12h0m0 8h0m1-49h0m1 22h0m0 14h0m1 5h0m0 12h0m3-27h0m1 36h0m2-50h0m1-11h0m0 39h0m0 6h0m2-26h0m1-33h0m0 47h0m3 2h0m2-47h0m0 40h0m0 31h0m6-59h0m1-15h0m2 17h0m0 5h0m3 14h0m0 33h0m2-30h0m0 7h0m0 24h0m0 9h0m2-67h0m0 59h0m3-34h0m2-26h0m0 21h0m0 41h0m1-24h0m1-57h0m0 19h0m0 19h0m1-43h0m1 81h0m1-71h0m0 6h0m0 24h0m1 32h0m1-5h0m1-38h0m1-37h0m0 84h0m1-101h0m1 53h0m1-85h0m0 37h0m0 104h0m1 0h0m1-42h0m0 20h0m1-55h0m0 74h0m5-38h0m1-33h0m0 40h0m0 21h0m2-15h0m1-167h0m0 110h0m0 28h0m0 23h0m0 32h0m0 5h0m2-65h0m3 6h0m0 12h0m0 18h0m1-63h0m1 4h0m0 50h0m3-38h0m1 41h0m0 22h0m2-88h0m0 3h0m0 38h0m0 17h0m1 30h0m1-39h0m1-25h0m0 62h0m2-64h0m0 68h0m1-68h0m0 16h0m2-2h0m0 26h0m0 19h0m1-28h0m1-83h0m0 58h0m0 9h0m0 39h0m3-18h0m2-34h0m0 34h0m1-63h0m3 82h0m1-17h0m1-3h0m3-30h0m1 63h0m1-4h0m1-90h0m0 4h0m0 38h0m0 29h0m0 2h0m0 0h0m2-30h0m2-22h0m1 21h0m1 13h0m0 31h0m2-54h0m1-71h0m0 66h0m0 15h0m0 24h0m0 14h0m2-68h0m1 46h0m0 2h0m2-68h0m0 99h0m3-79h0m0 53h0m0 28h0m2-29h0m2-152h0m0 132h0m0 12h0m1-42h0m0 13h0m2-116h0m0 86h0m0 7h0m0 46h0m0 0h0m0 27h0m3-71h0m1 44h0m1-44h0m0 17h0m0 41h0m0 7h0m1-54h0m2 57h0m1-66h0m0 5h0m0 52h0m1-55h0m0 5h0m0 63h0m1-40h0m0 41h0m2-48h0m3-106h0m0 77h0m0 23h0m0 14h0m1 26h0m1-57h0m1 22h0m0 60h0m1-87h0m1 62h0m1-119h0m0 10h0m0 68h0m0 24h0m0 10h0m0 35h0m2-56h0m1 14h0m1 7h0m2-25h0m4-16h0m3 42h0m1-54h0m0 9h0m0 50h0m0 7h0m2-138h0m0 124h0m2-71h0m0 22h0m0 24h0m1-45h0m1 31h0m2-70h0m1 57h0m2 40h0m1-19h0m0 11h0m1 19h0m2 25h0m1-90h0m0 68h0m2-112h0m1-29h0m1-36h0m3 94h0m5 37h0m2-190h0m9 167h0m21-83h0m0 154h0m0 6h0"/>
<path d="m100 601h0m8 1h0m4-2h0m3-1h0m2-2h0m7 2h0m0 0h0m6 0h0m4-1h0m4-5h0m4-6h0m6 3h0m5-17h0m0 18h0m5-16h0m22 2h0m0 6h0m2 5h0m11-24h0m0 9h0m0 6h0m0 1h0m5-4h0m0 13h0m1-2h0m1-3h0m1-3h0m3-17h0m0 5h0m0 7h0m6 7h0m2-7h0m1-9h0m0 6h0m0 6h0m4-16h0m0 4h0m8 12h0m1-12h0m0 10h0m0 2h0m1-12h0m2-12h0m4-15h0m0 44h0m0 0h0m10-7h0m0 6h0m5-3h0m3-12h0m1-12h0m2 17h0m3-3h0m1-15h0m4 3h0m3 1h0m8-24h0m0 38h0m2 0h0m4 1h0m2-12h0m2-3h0m2-21h0m1-5h0m2 9h0m6-12h0m1 24h0m0 2h0m1-28h0m3-23h0m2 70h0m1-43h0m1-4h0m5 28h0m5-51h0m0 35h0m5-13h0m1 29h0m1-7h0m4-26h0m0 25h0m2 16h0m2-62h0m1 7h0m0 16h0m2 8h0m1 27h0m3-30h0m0 37h0m3-6h0m1-24h0m0 2h0m2 9h0m1-34h0m1 22h0m4-90h0m0 117h0m5-50h0m1-6h0m0 55h0m4-29h0m1 32h0m3-47h0m0 35h0m0 9h0m1-64h0m2-20h0m1 68h0m1-32h0m0 6h0m2-42h0m0 85h0m1-52h0m1-7h0m0 52h0m2-41h0m0 32h0m1-48h0m0 2h0m0 9h0m1 8h0m2 36h0m1-67h0m1 17h0m0 33h0m0 3h0m0 12h0m3-35h0m1 41h0m2-61h0m2 2h0m0 18h0m0 0h0m0 31h0m0 7h0m1-57h0m0 53h0m1 5h0m4-104h0m0 22h0m0 34h0m0 32h0m0 2h0m0 20h0m7-17h0m1-57h0m2 23h0m1 22h0m1-177h0m4 153h0m0 5h0m0 26h0m0 7h0m0 0h0m2-77h0m1 14h0m1-27h0m1 73h0m2-31h0m0 10h0m3-1h0m0 26h0m1 15h0m2-60h0m0 26h0m0 15h0m0 2h0m0 20h0m0 0h0m3-71h0m1-57h0m2 79h0m0 0h0m0 6h0m2 9h0m0 7h0m0 19h0m3-269h0m0 156h0m0 15h0m0 20h0m0 20h0m0 43h0m0 28h0m2-74h0m1-56h0m0 24h0m1 58h0m1-35h0m1-12h0m3 7h0m0 63h0m0 15h0m5-10h0m0 3h0m3-94h0m0 14h0m0 19h0m0 9h0m0 24h0m0 38h0m1-114h0m0 61h0m0 55h0m1-69h0m0 30h0m1 11h0m1-69h0m3 23h0m0 40h0m0 22h0m3-38h0m2-93h0m0 11h0m0 53h0m0 29h0m2 19h0m1-5h0m1-65h0m2 48h0m0 3h0m3 25h0m2-71h0m0 12h0m0 13h0m0 4h0m0 6h0m0 16h0m0 28h0m1-66h0m1 74h0m1-125h0m0 47h0m1-14h0m1 13h0m1-10h0m0 56h0m0 21h0m1-127h0m1 34h0m1 43h0m3 31h0m0 0h0m0 28h0m1-92h0m0 70h0m2-14h0m0 17h0m2-24h0m2 18h0m1-71h0m0 20h0m0 84h0m1-79h0m1-193h0m2 249h0m1-51h0m0 36h0m3-48h0m1 68h0m2-3h0m1-53h0m0 20h0m2-67h0m0 34h0m2-35h0m0 78h0m0 14h0m4-5h0m2-55h0m1-45h0m0 71h0m3 4h0m2 12h0m1-82h0m5 67h0m2-55h0m1 63h0m23-247h0m0 107h0m0 17h0m0 8h0m0 70h0m0 0h0m0 4h0m0 44h0m0 6h0m0 16h0"/>
<path d="m74 606h0m20-2h0m11-2h0m14-2h0m5-1h0m7-8h0m1 2h0m2 1h0m5-3h0m21 0h0m1-15h0m0 12h0m4 6h0m9-5h0m6 3h0m5-2h0m1-13h0m1 7h0m1 5h0m5 1h0m2-12h0m0 3h0m2-11h0m3-4h0m0 19h0m1-14h0m3 7h0m6-13h0m0 4h0m0 1h0m3-8h0m1-2h0m3 0h0m0 20h0m4 1h0m0 0h0m0 2h0m5-16h0m1 2h0m6-21h0m0 36h0m4-15h0m0 9h0m8-17h0m2 8h0m1-11h0m0 14h0m0 10h0m3-20h0m1-11h0m1-11h0m0 39h0m3-4h0m6-3h0m3-54h0m0 53h0m0 9h0m1-46h0m1 37h0m1-31h0m1 3h0m1 7h0m1-6h0m2 7h0m0 28h0m6-26h0m0 8h0m3 11h0m1-3h0m0 0h0m3-4h0m0 12h0m0 0h0m3-4h0m1-3h0m1-22h0m0 2h0m1 13h0m1-61h0m0 27h0m0 33h0m1 9h0m2-38h0m0 20h0m4-41h0m0 58h0m2-50h0m0 0h0m0 3h0m1-4h0m0 4h0m1 41h0m1-22h0m2 10h0m2-34h0m1 48h0m3-72h0m0 20h0m0 28h0m0 0h0m3 10h0m3-7h0m1-33h0m1 37h0m0 0h0m1 16h0m1-86h0m0 38h0m2 13h0m4-34h0m2 24h0m0 30h0m0 5h0m1-51h0m3 18h0m0 15h0m2-23h0m1-16h0m1 2h0m0 3h0m0 37h0m2-60h0m2 15h0m0 19h0m4-2h0m0 47h0m1-12h0m1-38h0m1 36h0m0 8h0m2-48h0m2 33h0m1-21h0m0 39h0m1-22h0m0 6h0m3-16h0m2-10h0m0 11h0m0 9h0m2-60h0m2 19h0m0 7h0m0 60h0m1-53h0m0 19h0m2-57h0m0 10h0m0 26h0m0 10h0m0 2h0m0 18h0m0 20h0m0 6h0m5 4h0m5-61h0m5 13h0m1-25h0m0 8h0m0 53h0m3-70h0m1 74h0m4-83h0m0 14h0m0 15h0m0 15h0m0 10h0m0 12h0m0 7h0m0 6h0m7-4h0m1-82h0m1 56h0m2-54h0m3 2h0m0 6h0m2-16h0m0 1h0m2 90h0m1-66h0m1 60h0m1-74h0m0 41h0m1-54h0m0 78h0m1-67h0m2 36h0m1-34h0m1-7h0m1-14h0m0 33h0m0 32h0m1-18h0m1-3h0m2 22h0m3-35h0m0 55h0m2-42h0m1-11h0m2 34h0m2-71h0m2-7h0m0 34h0m0 40h0m0 16h0m3-72h0m0 16h0m0 78h0m1-82h0m1-60h0m0 52h0m1 64h0m2-7h0m2-49h0m0 33h0m0 15h0m0 19h0m2-72h0m1 14h0m2-42h0m1-65h0m0 96h0m0 3h0m1 46h0m3-36h0m0 2h0m0 24h0m0 7h0m0 9h0m0 0h0m0 4h0m0 0h0m0 7h0m0 1h0m2-85h0m2 51h0m0 10h0m1 1h0m1 32h0m1 1h0m1-145h0m1 104h0m4 10h0m3-73h0m0 44h0m0 0h0m0 44h0m3-92h0m1-19h0m1 118h0m1-85h0m0 13h0m0 20h0m1 20h0m2-40h0m0 5h0m1-9h0m0 51h0m2-84h0m0 52h0m0 33h0m1-31h0m3-67h0m0 102h0m1 2h0m3-110h0m0 25h0m0 45h0m2-48h0m0 4h0m2-11h0m0 77h0m1-31h0m0 13h0m2-1h0m0 15h0m2 13h0m3-68h0m0 56h0m4-127h0m0 74h0m7-11h0m1 16h0m5 41h0m1-8h0m7 11h0m23-24h0m0 27h0"/>
<path d="m74 606h0m0 0h0m21-2h0m5-12h0m9 7h0m22-2h0m11-10h0m11-6h0m19-4h0m2 11h0m6-18h0m0 7h0m2 2h0m2-6h0m0 3h0m9-16h0m0 5h0m0 14h0m0 3h0m3 3h0m2-7h0m3-2h0m0 7h0m1 5h0m7-13h0m6-8h0m2 11h0m4 8h0m6-22h0m1-6h0m5-18h0m0 8h0m0 25h0m0 11h0m2-30h0m4 14h0m6 4h0m3-29h0m0 15h0m0 15h0m1 6h0m4 3h0m3-32h0m2 18h0m3-12h0m2 17h0m2-25h0m0 8h0m0 19h0m7-12h0m1-34h0m2 36h0m6-19h0m0 10h0m1 10h0m8-40h0m0 6h0m3-8h0m0 23h0m1-2h0m0 17h0m3-53h0m0 8h0m0 32h0m3-11h0m0 18h0m6-1h0m7-17h0m0 29h0m3-4h0m1-37h0m7 41h0m1-25h0m2-13h0m2 38h0m2-42h0m1 30h0m1-4h0m0 11h0m0 8h0m1-43h0m1-8h0m1 20h0m1-17h0m2 26h0m0 14h0m1-57h0m1 37h0m2-43h0m0 54h0m1-27h0m1-21h0m2-13h0m0 10h0m0 19h0m0 0h0m0 48h0m0 0h0m4-74h0m0 56h0m0 7h0m3-98h0m0 89h0m1-63h0m0 46h0m1-25h0m0 20h0m0 12h0m3-9h0m2 10h0m0 2h0m0 25h0m3-22h0m1-34h0m0 27h0m0 2h0m1-48h0m1-11h0m0 66h0m1-58h0m0 67h0m2-69h0m0 15h0m0 39h0m1 5h0m2-113h0m0 70h0m0 12h0m0 9h0m0 5h0m1 26h0m3-71h0m0 30h0m1-52h0m0 32h0m0 10h0m0 30h0m2-81h0m1 19h0m0 59h0m0 25h0m1-20h0m1-63h0m0 79h0m3-129h0m0 48h0m0 26h0m1 16h0m0 27h0m1-15h0m1-61h0m1 19h0m0 62h0m2-82h0m0 9h0m0 54h0m0 4h0m0 1h0m0 9h0m4-30h0m1 36h0m1-115h0m0 112h0m1-70h0m1 10h0m0 69h0m1-12h0m1-12h0m0 16h0m1-79h0m1 80h0m1-30h0m2 14h0m1-55h0m0 26h0m2 43h0m1-73h0m0 72h0m1-46h0m0 42h0m3-58h0m0 13h0m0 24h0m3-40h0m0 56h0m2-25h0m1-52h0m0 84h0m2-50h0m0 7h0m0 28h0m1-6h0m3-75h0m1 23h0m0 37h0m4-52h0m0 63h0m0 31h0m2-16h0m1-13h0m1-17h0m0 6h0m1-81h0m1 103h0m2 8h0m0 3h0m1-14h0m1-58h0m1 52h0m2-81h0m1 7h0m0 25h0m0 11h0m2 10h0m1 22h0m0 4h0m1-3h0m1-89h0m1 79h0m1-41h0m3 24h0m0 0h0m0 40h0m0 26h0m3-94h0m2 15h0m0 54h0m1-25h0m1-79h0m0 62h0m2 0h0m0 12h0m1-53h0m0 51h0m0 27h0m1-55h0m0 20h0m0 43h0m2-77h0m0 40h0m0 55h0m3-218h0m0 22h0m0 187h0m3-143h0m0 107h0m1-54h0m2 42h0m0 28h0m0 0h0m2-79h0m0 20h0m0 33h0m2-41h0m0 37h0m1-1h0m1-59h0m0 54h0m0 22h0m0 20h0m4-61h0m0 35h0m2-41h0m0 38h0m0 43h0m1-33h0m1-50h0m2-78h0m2 76h0m1 60h0m2-100h0m0 63h0m0 11h0m0 1h0m0 13h0m7-57h0m12 54h0m17-37h0m17-180h0m0 81h0m0 55h0m0 11h0m0 52h0m0 14h0m0 4h0m0 7h0m0 17h0m0 1h0"/>
<path d="m74 606h0m28-5h0m17-2h0m8 0h0m15-12h0m9 4h0m13 2h0m5-13h0m0 13h0m5-8h0m3 5h0m3-13h0m0 2h0m0 10h0m5-5h0m1-13h0m0 12h0m1-2h0m6-12h0m7 10h0m1 5h0m1-2h0m4-8h0m1 3h0m1 3h0m8-13h0m0 10h0m2-15h0m10 11h0m5-77h0m0 72h0m0 4h0m0 12h0m7-21h0m5-13h0m4 21h0m4-11h0m0 22h0m4-42h0m1 24h0m0 12h0m1-23h0m3-2h0m3-11h0m0 5h0m0 2h0m0 24h0m0 2h0m4-8h0m3 0h0m0 3h0m1-6h0m0 14h0m6-30h0m0 23h0m2 0h0m1 2h0m1-33h0m5 14h0m2 0h0m2 14h0m2-36h0m1 9h0m1-3h0m0 25h0m5-32h0m0 5h0m2 16h0m3-14h0m1-11h0m0 22h0m0 12h0m2-1h0m4-43h0m0 2h0m0 17h0m0 11h0m0 5h0m5-11h0m0 17h0m0 14h0m0 0h0m1-6h0m2-32h0m0 16h0m0 13h0m1-23h0m3-12h0m2-17h0m1 62h0m1-46h0m0 37h0m1-33h0m0 14h0m0 10h0m1-54h0m0 16h0m6 55h0m2-32h0m2-64h0m0 62h0m2-21h0m0 17h0m4-1h0m0 38h0m1-31h0m1-10h0m2 5h0m2-21h0m3 39h0m2-64h0m0 25h0m0 10h0m3-43h0m0 21h0m0 19h0m2-3h0m5 42h0m2-49h0m2 15h0m1-16h0m0 2h0m0 10h0m1-44h0m1 84h0m1-30h0m2-57h0m0 13h0m1 15h0m2-18h0m0 19h0m1-2h0m1-14h0m1 21h0m0 35h0m2-6h0m6-73h0m0 20h0m0 9h0m0 4h0m0 11h0m0 0h0m0 3h0m0 19h0m0 9h0m0 19h0m4-51h0m1-19h0m2-5h0m1-44h0m0 45h0m0 36h0m1-15h0m1 33h0m1-4h0m2-66h0m2-5h0m1 98h0m4-16h0m0 2h0m1-40h0m0 13h0m1-8h0m0 41h0m1-14h0m3-51h0m3-13h0m0 6h0m2 53h0m1-37h0m2-15h0m0 14h0m1-56h0m0 82h0m0 22h0m3-46h0m0 15h0m2-77h0m0 35h0m0 16h0m0 35h0m0 3h0m0 16h0m4-84h0m0 68h0m1-45h0m1-103h0m0 133h0m1-27h0m0 45h0m1-2h0m1-59h0m1 63h0m1-61h0m1 76h0m1-26h0m1-44h0m0 7h0m0 37h0m0 15h0m2-113h0m1 28h0m0 43h0m0 30h0m4-56h0m1-16h0m0 18h0m0 79h0m2-105h0m0 103h0m3-25h0m1-146h0m1 105h0m1 13h0m1-51h0m0 45h0m0 11h0m0 27h0m0 12h0m2-43h0m0 20h0m0 10h0m0 3h0m0 18h0m2-34h0m1-40h0m2 3h0m0 30h0m0 8h0m2-69h0m0 66h0m0 2h0m2 1h0m1 0h0m2-88h0m0 90h0m1-57h0m0 14h0m0 36h0m2-14h0m0 45h0m1-87h0m1 25h0m2-170h0m0 208h0m2-65h0m0 86h0m2-94h0m4 27h0m0 1h0m0 15h0m0 33h0m2-12h0m2-29h0m3-13h0m0 42h0m1 10h0m1-127h0m0 102h0m3-34h0m0 46h0m0 29h0m1-84h0m1-21h0m0 22h0m2 70h0m0 0h0m2-11h0m2-97h0m0 16h0m3-11h0m0 76h0m0 21h0m1 18h0m11-221h0m1-18h0m1 191h0m6-81h0m6 71h0m11-145h0m0 70h0m0 57h0m0 8h0m0 5h0m0 9h0m0 25h0m0 4h0m0 21h0"/>
<path d="m89 602h0m1 2h0m8-4h0m7 2h0m1 0h0m2-2h0m14 0h0m12-6h0m8-7h0m4 0h0m2-3h0m5-44h0m0 55h0m8-19h0m8-9h0m0 13h0m7 12h0m4-10h0m7-9h0m2-20h0m0 24h0m0 4h0m4-24h0m5 13h0m0 12h0m0 7h0m3-27h0m3 2h0m3-2h0m3 25h0m7-34h0m2 22h0m2-14h0m4 2h0m2-4h0m2 8h0m2 1h0m2-28h0m4 37h0m5 2h0m1-5h0m2-24h0m0 9h0m3-7h0m0 30h0m1-35h0m4 13h0m2 17h0m3 1h0m7-51h0m0 40h0m0 6h0m1 1h0m10-6h0m3-1h0m4-23h0m1 1h0m1 7h0m0 23h0m1-13h0m0 8h0m0 7h0m8-67h0m4 50h0m1-39h0m0 24h0m0 20h0m3-25h0m0 23h0m5-31h0m0 26h0m1 13h0m5-31h0m0 5h0m0 19h0m0 9h0m6-76h0m2 24h0m0 17h0m1-20h0m0 6h0m3-12h0m2 5h0m0 43h0m2-37h0m2-13h0m2 19h0m2-17h0m0 52h0m0 6h0m4-30h0m1 14h0m3 11h0m1-55h0m0 10h0m3 20h0m0 19h0m1-38h0m1 8h0m0 23h0m1-44h0m1-19h0m2 33h0m2-4h0m1 22h0m1-78h0m1 70h0m2-18h0m1-14h0m0 14h0m0 22h0m3-62h0m0 71h0m1-31h0m1 26h0m0 8h0m2-84h0m0 46h0m0 10h0m4-31h0m1 35h0m3-30h0m0 15h0m1 5h0m0 42h0m1-94h0m0 45h0m0 45h0m3-2h0m0 0h0m3-26h0m0 2h0m4-36h0m1 11h0m3-93h0m0 54h0m0 41h0m3-107h0m2 117h0m0 23h0m3 11h0m1-3h0m0 3h0m1-131h0m0 79h0m0 4h0m2 36h0m1-56h0m0 10h0m0 41h0m0 12h0m0 13h0m1-55h0m1 5h0m1-84h0m0 40h0m0 33h0m2-10h0m1 56h0m1 6h0m3-86h0m0 27h0m0 13h0m0 43h0m1-50h0m1-46h0m0 64h0m2-4h0m2-60h0m0 55h0m0 44h0m2-60h0m0 26h0m1-51h0m0 88h0m3-49h0m1 43h0m1-37h0m0 4h0m0 18h0m1-18h0m0 22h0m1-64h0m1 83h0m2-165h0m1 119h0m1-33h0m0 10h0m0 12h0m1-15h0m1 14h0m0 35h0m1-59h0m1 60h0m1 1h0m0 15h0m1-20h0m2-54h0m1-30h0m1-18h0m0 88h0m3-18h0m0 38h0m0 9h0m2-3h0m2-5h0m3-121h0m0 66h0m0 23h0m0 14h0m0 13h0m0 0h0m0 13h0m2-78h0m1 21h0m0 14h0m0 21h0m1-115h0m0 61h0m1 51h0m0 22h0m1-13h0m0 9h0m3-107h0m0 17h0m0 67h0m3-23h0m1-11h0m0 47h0m3-170h0m0 77h0m0 0h0m0 99h0m0 6h0m2-118h0m0 75h0m1 38h0m3-121h0m0 65h0m0 20h0m0 31h0m2-51h0m0 18h0m0 18h0m1-121h0m1 72h0m2 27h0m0 14h0m0 19h0m3-154h0m0 133h0m1-85h0m0 46h0m0 75h0m1 8h0m0 2h0m5-126h0m0 94h0m0 10h0m5-62h0m2 12h0m3 36h0m2-111h0m2 15h0m0 54h0m0 6h0m0 6h0m0 24h0m1-23h0m3-24h0m0 39h0m2 7h0m0 24h0m1-160h0m3 60h0m1-37h0m7 45h0m0 62h0m16-11h0m10-135h0m0 7h0m0 28h0m0 66h0m0 5h0m0 10h0m0 18h0m0 17h0m0 5h0"/>
<path d="m85 605h0m14-4h0m7 1h0m6-1h0m10-8h0m0 7h0m1 0h0m4-5h0m13 2h0m13-4h0m8 1h0m16-7h0m1-1h0m2 6h0m6-1h0m7-26h0m5 14h0m0 10h0m5-15h0m1-1h0m0 11h0m0 1h0m2-20h0m4-6h0m0 19h0m0 5h0m7-3h0m0 0h0m4-27h0m5 22h0m3-12h0m0 20h0m4-43h0m0 12h0m0 5h0m6 22h0m4-21h0m0 13h0m2-2h0m0 4h0m5-45h0m0 45h0m3-52h0m0 36h0m1-1h0m1 2h0m3-4h0m0 4h0m2-13h0m5-9h0m0 4h0m0 40h0m0 0h0m4-31h0m0 16h0m4 3h0m0 8h0m6-45h0m0 33h0m0 14h0m0 0h0m3-44h0m2 41h0m2-46h0m0 41h0m5 6h0m1-2h0m5-18h0m0 15h0m3-38h0m0 37h0m4-32h0m9-35h0m0 25h0m0 40h0m6-19h0m0 5h0m1-20h0m1 34h0m1-69h0m0 42h0m1 28h0m1-50h0m0 27h0m1 0h0m3-16h0m2 31h0m0 0h0m5-53h0m2-8h0m0 63h0m1-4h0m1-26h0m0 18h0m1-54h0m1 63h0m2-16h0m2 10h0m2-80h0m0 32h0m0 36h0m2-58h0m2 71h0m1-70h0m0 34h0m1-10h0m0 15h0m0 22h0m0 11h0m1-67h0m2 67h0m1-17h0m1-37h0m3-13h0m0 20h0m2 23h0m2-61h0m0 19h0m0 6h0m0 49h0m3-67h0m0 5h0m0 43h0m1 29h0m1-43h0m1 35h0m2-49h0m0 8h0m0 1h0m0 7h0m0 41h0m1-30h0m0 35h0m1-72h0m1 55h0m1-30h0m1-2h0m0 18h0m5-163h0m0 144h0m0 26h0m3-50h0m1-4h0m0 45h0m5-65h0m0 22h0m0 11h0m0 0h0m0 0h0m0 9h0m0 26h0m0 9h0m0 11h0m0 0h0m0 6h0m3-15h0m1-32h0m1 7h0m0 19h0m1 2h0m1-33h0m0 14h0m4-18h0m0 16h0m4 28h0m1-117h0m0 117h0m2-55h0m0 40h0m1-66h0m4 7h0m0 41h0m2 28h0m2 8h0m1-115h0m0 40h0m1-2h0m0 19h0m0 50h0m0 6h0m2-55h0m1-13h0m0 0h0m1 32h0m0 32h0m1-26h0m1-30h0m0 21h0m0 12h0m1-62h0m0 39h0m4-5h0m0 8h0m0 58h0m4-81h0m0 14h0m0 23h0m0 5h0m0 28h0m2-92h0m2 77h0m1-52h0m0 0h0m0 12h0m0 8h0m0 23h0m3-31h0m2-39h0m0 88h0m3 7h0m4-19h0m3-94h0m0 66h0m0 34h0m4-185h0m0 94h0m1 44h0m1 23h0m1-62h0m3 31h0m0 12h0m1-42h0m0 96h0m2-54h0m0 43h0m0 0h0m1-43h0m1-41h0m0 23h0m1-120h0m0 11h0m0 165h0m2-54h0m0 44h0m3-24h0m1-67h0m0 3h0m0 74h0m3-44h0m1 32h0m1 30h0m1-77h0m0 56h0m0 10h0m1-41h0m1-15h0m1-8h0m0 17h0m0 54h0m2-39h0m1-37h0m2 9h0m0 39h0m1-46h0m3 13h0m3 79h0m2-192h0m0 173h0m0 8h0m1-153h0m2 108h0m2-18h0m0 46h0m5 19h0m1-73h0m2 35h0m4-106h0m0 99h0m3 2h0m3-30h0m0 30h0m1 4h0m0 18h0m6-168h0m0 83h0m1 16h0m1-20h0m2 18h0m17-120h0m0 78h0m0 14h0m0 26h0m0 7h0m0 11h0m0 22h0m0 8h0m0 42h0m0 16h0"/>
<path d="m74 606h0m14-2h0m27-9h0m7 1h0m17-5h0m1 1h0m0 0h0m2 5h0m7-8h0m4-5h0m16-11h0m9 13h0m2-24h0m0 22h0m5 1h0m12 2h0m3-22h0m15 14h0m2-32h0m4 24h0m0 15h0m12-90h0m0 66h0m0 0h0m10-10h0m0 24h0m2-5h0m3-31h0m0 6h0m1 28h0m1-8h0m12-20h0m3 23h0m0 11h0m3-13h0m2 9h0m1-13h0m1-5h0m4-3h0m1-18h0m3 15h0m4-17h0m1-5h0m0 43h0m1-18h0m1 0h0m1 4h0m1-27h0m2-24h0m0 26h0m0 39h0m1-18h0m0 4h0m4-7h0m3 23h0m5-10h0m1-31h0m1 4h0m0 4h0m0 25h0m0 1h0m0 1h0m7-73h0m0 6h0m0 16h0m0 14h0m0 5h0m0 3h0m0 7h0m0 6h0m0 4h0m0 10h0m3-14h0m1-13h0m2-15h0m2 0h0m2 4h0m2-20h0m3 13h0m1 3h0m0 46h0m1-34h0m1 24h0m2-13h0m1-14h0m1-48h0m0 16h0m0 56h0m0 6h0m3-8h0m1-8h0m0 14h0m2-22h0m1-14h0m1 8h0m3 0h0m1 27h0m5-21h0m1-11h0m1-28h0m0 13h0m1-3h0m1 41h0m2-24h0m0 10h0m3-51h0m0 80h0m0 0h0m0 0h0m3-7h0m0 4h0m2-97h0m1 33h0m1-25h0m0 65h0m3-43h0m0 27h0m2-13h0m0 8h0m1-66h0m0 63h0m2 10h0m0 32h0m1-65h0m0 10h0m1 1h0m0 7h0m0 17h0m0 24h0m1-8h0m1-9h0m1-75h0m0 93h0m2-44h0m0 17h0m0 1h0m1-23h0m0 46h0m2-38h0m1 26h0m0 17h0m2-86h0m0 64h0m0 6h0m1 11h0m2-89h0m0 23h0m0 5h0m0 27h0m0 17h0m0 5h0m0 10h0m5-33h0m1-41h0m0 14h0m0 33h0m1 19h0m1-21h0m0 6h0m3-1h0m2 11h0m1 0h0m0 14h0m2-88h0m0 0h0m0 33h0m1 40h0m1-32h0m0 19h0m2-53h0m1 0h0m2-19h0m0 39h0m1 0h0m1 13h0m2 6h0m1 36h0m1-103h0m0 6h0m0 19h0m1 17h0m2-65h0m0 122h0m3-65h0m0 52h0m0 9h0m1-147h0m2 95h0m0 35h0m2-39h0m0 36h0m0 11h0m0 24h0m4-55h0m1 5h0m1-112h0m0 111h0m0 19h0m2-22h0m1-76h0m0 125h0m2-119h0m1 84h0m2-51h0m0 74h0m1 13h0m1-96h0m0 39h0m0 5h0m1-53h0m0 94h0m1-100h0m1 66h0m0 39h0m1-74h0m0 74h0m1-48h0m1 19h0m0 33h0m1-87h0m1 4h0m0 18h0m0 21h0m3-52h0m0 20h0m0 15h0m3-42h0m0 29h0m0 29h0m0 5h0m0 14h0m4-84h0m0 67h0m1-42h0m1 43h0m2-27h0m0 55h0m2-111h0m0 27h0m0 44h0m0 22h0m1-102h0m2 41h0m1 37h0m0 10h0m1-80h0m5 125h0m2-47h0m0 2h0m0 28h0m1-8h0m2-176h0m1 97h0m1 12h0m0 35h0m0 40h0m2-235h0m1 162h0m2 26h0m1 57h0m1-50h0m1 23h0m2-35h0m0 17h0m2 11h0m3-142h0m0 15h0m0 112h0m0 30h0m0 3h0m0 4h0m4-8h0m2-143h0m0 113h0m1-64h0m3 68h0m0 26h0m6-24h0m20 4h0m1-2h0m3-61h0m8-158h0m0 149h0m0 12h0m0 5h0m0 3h0m0 96h0m0 0h0"/>
<path d="m95 604h0m9-4h0m7-9h0m0 9h0m9-4h0m3 1h0m8 1h0m11-1h0m4-7h0m0 6h0m2-2h0m2-2h0m3-13h0m5 0h0m3 1h0m1 9h0m3 2h0m1 0h0m3-11h0m0 7h0m7 2h0m3 0h0m1 3h0m9-5h0m1-1h0m3-21h0m0 8h0m0 8h0m0 9h0m0 0h0m15-11h0m6-12h0m10 3h0m3 13h0m1-21h0m5-33h0m0 44h0m0 11h0m3-6h0m1 1h0m1-18h0m1 2h0m4 17h0m6-18h0m1-39h0m0 24h0m2 27h0m1-13h0m0 12h0m1-20h0m1 7h0m0 2h0m3-15h0m2 16h0m2-21h0m0 22h0m3-57h0m4 30h0m4 3h0m2 11h0m4-49h0m3 70h0m2-19h0m1 10h0m4-23h0m1 10h0m1 0h0m1 2h0m1 13h0m1-55h0m0 66h0m2-11h0m1-25h0m5 15h0m11 16h0m5-28h0m1 17h0m7-11h0m1-20h0m3 11h0m0 0h0m1-38h0m0 32h0m0 12h0m1-7h0m2-15h0m1-14h0m0 21h0m0 10h0m0 11h0m1-24h0m1-8h0m1-21h0m1 1h0m0 27h0m0 43h0m2-38h0m6-20h0m0 0h0m0 6h0m0 36h0m3-23h0m1-53h0m0 9h0m0 27h0m0 47h0m0 0h0m3-49h0m1-112h0m2 106h0m2 7h0m0 29h0m2-73h0m0 18h0m0 0h0m0 4h0m0 9h0m0 3h0m2 4h0m3-9h0m2 17h0m2-47h0m0 83h0m1-13h0m2-3h0m0 22h0m1-77h0m0 72h0m3-32h0m1-1h0m0 27h0m2-35h0m1 1h0m0 0h0m0 31h0m0 16h0m1-20h0m1-26h0m4 23h0m0 1h0m5-181h0m0 111h0m0 18h0m0 6h0m0 7h0m0 20h0m0 3h0m0 8h0m0 2h0m0 0h0m0 14h0m0 12h0m3-78h0m2 46h0m1-43h0m0 42h0m1-62h0m1 40h0m1-28h0m0 1h0m0 27h0m0 22h0m1 23h0m1-69h0m2 57h0m3-87h0m0 39h0m0 27h0m0 26h0m0 13h0m2-31h0m1 18h0m1-20h0m1-69h0m2 49h0m0 26h0m0 33h0m5-102h0m0 90h0m1-103h0m0 30h0m0 84h0m2-64h0m3 4h0m0 51h0m1-58h0m1 44h0m4-94h0m0 26h0m4 53h0m2-52h0m0 75h0m1-25h0m0 14h0m0 12h0m2-95h0m0 2h0m2-18h0m0 112h0m3-72h0m1-22h0m0 5h0m1 53h0m0 25h0m1 1h0m1-24h0m2-9h0m2-71h0m0 4h0m0 25h0m2-32h0m0 20h0m0 0h0m0 87h0m2-6h0m1-110h0m0 35h0m0 37h0m0 36h0m2-69h0m0 5h0m0 5h0m0 15h0m1-40h0m2 55h0m1-68h0m1 1h0m0 12h0m0 73h0m1-23h0m2-59h0m1 21h0m2-25h0m0 18h0m0 59h0m0 5h0m2 11h0m0 16h0m1-86h0m0 26h0m0 52h0m1-82h0m2-63h0m0 96h0m1 21h0m5-105h0m0 46h0m0 11h0m0 41h0m0 6h0m1-26h0m2-111h0m0 106h0m1-35h0m0 14h0m0 59h0m1-33h0m2 10h0m1-78h0m0 43h0m0 15h0m0 82h0m2-114h0m0 10h0m0 28h0m2-10h0m0 39h0m1-76h0m2 44h0m1-26h0m1-28h0m0 89h0m3-70h0m2 17h0m1 65h0m7-55h0m1-48h0m0 30h0m0 67h0m7-55h0m0 38h0m30-197h0m0 183h0m0 6h0m0 6h0m0 32h0m0 3h0m0 14h0"/>
<path d="m74 606h0m37-5h0m5-2h0m2 0h0m1-2h0m2 2h0m6-7h0m0 7h0m1-2h0m13-2h0m28-15h0m7-2h0m8 4h0m0 7h0m2-8h0m7-8h0m9 13h0m2-22h0m0 6h0m6 17h0m0 0h0m4-4h0m5-22h0m2 10h0m2 4h0m10-24h0m0 11h0m0 5h0m0 10h0m0 1h0m0 1h0m0 5h0m4-3h0m2 3h0m1-20h0m0 5h0m3 0h0m9-9h0m1-36h0m0 24h0m0 11h0m5 2h0m0 8h0m1 6h0m6-35h0m0 40h0m0 0h0m3-6h0m2 2h0m3-25h0m0 28h0m1-58h0m0 53h0m2-29h0m3-39h0m0 30h0m0 25h0m0 17h0m4-30h0m1 12h0m1 10h0m1-7h0m1-14h0m1 21h0m4 4h0m2 2h0m2-10h0m3-13h0m1-41h0m1 27h0m4 3h0m0 26h0m3-48h0m3 40h0m2-28h0m0 0h0m0 21h0m4-26h0m2 4h0m3-1h0m0 27h0m1 0h0m1-69h0m1 72h0m2-20h0m0 4h0m0 12h0m3-51h0m1-21h0m1 62h0m1-33h0m1 47h0m2-54h0m2 10h0m1-5h0m0 24h0m1-6h0m3-26h0m2-15h0m2 19h0m1 5h0m3 14h0m0 7h0m1-7h0m1-8h0m3-23h0m2 51h0m3-112h0m0 66h0m0 18h0m0 3h0m0 14h0m0 12h0m3-56h0m0 14h0m2 26h0m1 12h0m1 14h0m2-44h0m0 18h0m3-49h0m0 44h0m0 22h0m0 7h0m0 2h0m2-95h0m0 49h0m0 37h0m1-67h0m1 13h0m0 57h0m1-41h0m2-12h0m0 61h0m1-57h0m1-13h0m1 63h0m2-61h0m1 45h0m1-31h0m0 1h0m0 27h0m1-23h0m1-36h0m3-6h0m0 15h0m0 24h0m0 12h0m0 8h0m0 7h0m0 17h0m0 0h0m3-69h0m1 54h0m1-53h0m0 32h0m0 0h0m0 6h0m1 3h0m0 20h0m1-77h0m0 36h0m0 1h0m0 23h0m2-13h0m1-61h0m0 101h0m1-30h0m0 7h0m2-15h0m2-32h0m0 27h0m1 49h0m2-97h0m1 15h0m1-23h0m1 56h0m0 15h0m1-16h0m1 2h0m0 9h0m0 38h0m4-72h0m0 20h0m0 7h0m1-49h0m0 48h0m4 30h0m2-10h0m3-64h0m0 47h0m1-37h0m2 12h0m0 37h0m0 23h0m3-79h0m1 13h0m0 21h0m4-19h0m3-5h0m0 18h0m3-70h0m0 24h0m0 16h0m1-27h0m1 53h0m1-39h0m0 36h0m0 38h0m2 6h0m2-71h0m2 25h0m1-30h0m0 26h0m0 66h0m2-76h0m1 39h0m0 5h0m1-37h0m1-46h0m0 45h0m0 19h0m1-38h0m0 51h0m1-21h0m1 19h0m1-42h0m0 57h0m0 3h0m0 3h0m2-19h0m2-67h0m0 43h0m1 20h0m2-76h0m0 46h0m0 12h0m0 25h0m0 11h0m0 11h0m1-43h0m2-7h0m0 50h0m1-99h0m2-3h0m0 61h0m1 45h0m5-128h0m0 82h0m0 30h0m2-51h0m3-27h0m0 5h0m1-43h0m0 9h0m2 81h0m0 30h0m1-77h0m1 41h0m2 7h0m3-36h0m0 22h0m1 14h0m0 10h0m1-4h0m3-5h0m0 0h0m4 0h0m0 24h0m3-95h0m1-31h0m0 74h0m3-134h0m0 51h0m0 24h0m5 87h0m12-52h0m3 36h0m1-151h0m16-29h0m0 83h0m0 9h0m0 38h0m0 53h0m0 0h0m0 21h0m0 12h0m0 16h0"/>
<path d="m95 601h0m3 2h0m16-8h0m2 6h0m1-1h0m36-10h0m4-7h0m12-16h0m0 26h0m5-8h0m4 1h0m2-9h0m0 4h0m1-3h0m3-12h0m0 15h0m3 8h0m2-17h0m4-4h0m8 3h0m4 2h0m3 10h0m6-39h0m5 34h0m6-14h0m2-5h0m1 15h0m5-12h0m0 13h0m4-6h0m1 0h0m1 4h0m1-10h0m1-13h0m0 23h0m7-15h0m4-14h0m1-29h0m0 33h0m2 20h0m3 3h0m2-34h0m0 25h0m1 1h0m4 4h0m4-27h0m2-8h0m0 12h0m0 17h0m2-4h0m6-17h0m0 8h0m3 30h0m3-47h0m5-1h0m1 1h0m3-1h0m0 46h0m3-17h0m4-7h0m2-2h0m1 25h0m1-29h0m0 24h0m1-41h0m0 11h0m0 6h0m1-5h0m1-20h0m0 19h0m5-20h0m0 25h0m0 3h0m0 3h0m0 1h0m0 5h0m0 4h0m6 1h0m4-25h0m1 16h0m3-44h0m2 31h0m5 21h0m1 3h0m3-17h0m1-36h0m0 14h0m2 3h0m0 41h0m2-81h0m0 67h0m2-52h0m0 3h0m0 52h0m1-15h0m1-60h0m0 29h0m0 15h0m4-32h0m0 21h0m0 17h0m2-59h0m0 6h0m0 22h0m2 52h0m1-26h0m1 15h0m1-6h0m1 7h0m0 5h0m2-75h0m0 30h0m0 36h0m0 13h0m4 7h0m1-27h0m1 16h0m1-56h0m1 67h0m1-51h0m3-43h0m0 27h0m0 6h0m0 15h0m0 51h0m1-76h0m1 45h0m2-54h0m1 6h0m3-17h0m0 48h0m0 37h0m1 4h0m1-27h0m3-60h0m3 68h0m3-87h0m0 29h0m0 28h0m0 15h0m0 21h0m0 17h0m2-19h0m2-49h0m2 57h0m3-63h0m0 41h0m0 4h0m1-50h0m0 74h0m1-94h0m0 20h0m2-10h0m1 4h0m0 34h0m0 12h0m1-58h0m1 35h0m0 25h0m0 12h0m2 12h0m1-96h0m0 13h0m2 44h0m2-24h0m0 35h0m0 20h0m3-29h0m0 21h0m1-24h0m0 15h0m0 24h0m2-98h0m0 93h0m1-73h0m1-11h0m1 17h0m0 60h0m2-62h0m0 35h0m0 28h0m2-26h0m1-44h0m1 55h0m2-143h0m0 43h0m0 56h0m0 13h0m0 2h0m0 7h0m4 10h0m1-41h0m2 36h0m2 10h0m0 20h0m0 5h0m1-58h0m1-36h0m0 28h0m0 12h0m3-19h0m0 31h0m1-59h0m0 23h0m2 31h0m0 57h0m1-44h0m0 28h0m2-11h0m1-41h0m0 23h0m0 16h0m0 15h0m1-45h0m1-19h0m1-34h0m0 39h0m0 9h0m0 54h0m0 0h0m0 6h0m0 3h0m2-75h0m1-4h0m0 41h0m2-17h0m1 38h0m1-7h0m1-72h0m0 51h0m1-6h0m0 24h0m2-77h0m0 21h0m2 38h0m2-107h0m1-66h0m0 99h0m0 15h0m0 12h0m0 38h0m0 1h0m0 44h0m0 0h0m2-27h0m1-28h0m0 62h0m3-81h0m1 14h0m0 6h0m0 32h0m5-165h0m1 176h0m3-79h0m0 37h0m4 22h0m0 25h0m2-47h0m1-95h0m4 38h0m0 51h0m0 8h0m3 10h0m0 0h0m1 16h0m1-61h0m0 53h0m0 0h0m0 7h0m1-38h0m1-8h0m2-10h0m0 22h0m2-16h0m2 40h0m2-9h0m5-10h0m1-86h0m2 100h0m0 16h0m2-6h0m9-42h0m19-106h0m0 96h0m0 0h0m0 17h0m0 22h0m0 44h0"/>
<path d="m74 606h0m9-1h0m17-2h0m7-1h0m7-7h0m0 6h0m10-2h0m8-6h0m10-6h0m5-6h0m19-5h0m1 10h0m2 7h0m2-10h0m0 5h0m5-10h0m0 0h0m12 13h0m1-10h0m4-1h0m7-7h0m3 1h0m7 13h0m3-19h0m2 9h0m2 5h0m16-64h0m0 22h0m4 16h0m1-1h0m1 20h0m1-3h0m3-1h0m2-29h0m1 11h0m2-22h0m0 24h0m2-11h0m3-2h0m2-2h0m2 31h0m1 5h0m0 2h0m5-8h0m2-30h0m0 19h0m4 3h0m5 15h0m1-4h0m4-42h0m0 10h0m0 15h0m2-7h0m3 0h0m2-38h0m2 32h0m1-3h0m1 19h0m1 8h0m1-15h0m2-45h0m0 6h0m0 44h0m0 9h0m4-29h0m1-12h0m1-9h0m0 21h0m5 1h0m2 5h0m3-11h0m3-25h0m0 14h0m0 32h0m0 9h0m0 2h0m7-52h0m1 57h0m4-39h0m6 3h0m2-56h0m0 49h0m2-34h0m0 30h0m1 20h0m1 13h0m2-63h0m0 33h0m2-6h0m0 3h0m2 11h0m2 7h0m2-38h0m0 18h0m3 47h0m1-83h0m0 2h0m2 57h0m0 25h0m2-16h0m3-59h0m0 49h0m3-61h0m0 11h0m0 25h0m0 23h0m4 3h0m2-11h0m1-134h0m0 157h0m1-18h0m1-60h0m0 57h0m0 4h0m3 2h0m0 17h0m0 8h0m2-64h0m1-27h0m0 23h0m0 54h0m1-66h0m1-35h0m1 60h0m1-31h0m0 71h0m2-39h0m2 11h0m0 28h0m2-19h0m1 1h0m1-16h0m2-8h0m0 15h0m2-87h0m0 38h0m0 6h0m0 5h0m0 11h0m0 15h0m0 29h0m4-21h0m1-2h0m0 30h0m2-64h0m1 40h0m0 17h0m1-59h0m2-11h0m0 22h0m0 57h0m2-50h0m0 26h0m1-37h0m0 37h0m2 12h0m0 3h0m1-55h0m4 12h0m2-9h0m0 10h0m2-7h0m0 32h0m0 1h0m2-62h0m2 7h0m0 29h0m0 54h0m2-4h0m3-50h0m1 2h0m1-37h0m2-8h0m2-3h0m0 22h0m0 17h0m0 13h0m0 11h0m0 0h0m4-73h0m0 14h0m0 16h0m2-9h0m0 58h0m1-4h0m1-10h0m1-20h0m0 19h0m2-17h0m0 31h0m1 29h0m2-156h0m0 66h0m0 10h0m0 34h0m0 8h0m2 35h0m1-110h0m1 31h0m1-3h0m0 0h0m1 16h0m0 51h0m4-53h0m0 3h0m0 1h0m0 38h0m3-23h0m2-39h0m0 44h0m0 32h0m0 1h0m3-95h0m0 65h0m1-67h0m0 30h0m0 2h0m0 28h0m1-8h0m1 15h0m0 31h0m2-92h0m1-10h0m0 45h0m1 32h0m1-73h0m0 16h0m0 9h0m0 22h0m0 9h0m0 28h0m0 13h0m3-27h0m1-32h0m1-21h0m1 16h0m0 18h0m0 4h0m2-16h0m2 0h0m2-60h0m0 55h0m0 7h0m0 9h0m0 16h0m0 36h0m3-60h0m1-46h0m0 27h0m1 19h0m3-64h0m0 35h0m0 23h0m2-2h0m1 56h0m4-98h0m0 37h0m0 7h0m2-22h0m0 53h0m5-42h0m1-59h0m2 96h0m1-46h0m0 15h0m2-28h0m2 19h0m1-11h0m0 35h0m3-34h0m0 15h0m2 52h0m1-118h0m7 108h0m2-119h0m1 129h0m4-169h0m1 175h0m2-47h0m14-108h0m0 73h0m0 0h0m0 11h0m0 0h0m0 30h0m0 9h0m0 5h0m0 44h0"/>
<path d="m90 603h0m3-1h0m3 0h0m4 1h0m21-10h0m32-20h0m23 5h0m4-8h0m4-9h0m0 15h0m0 9h0m9-28h0m8 10h0m0 13h0m3 7h0m9-30h0m1 22h0m1-7h0m0 4h0m2-29h0m1 35h0m1-14h0m3-9h0m2 20h0m2-12h0m1-14h0m2 12h0m4-12h0m0 3h0m6 9h0m4 8h0m4-5h0m1-22h0m2 32h0m3-20h0m0 8h0m2 2h0m1-4h0m2-19h0m0 25h0m0 2h0m4-15h0m11-11h0m2 3h0m1-8h0m3-4h0m0 3h0m3 31h0m4-23h0m0 7h0m0 15h0m3-13h0m1-4h0m1-7h0m7 25h0m1-42h0m2 18h0m0 20h0m3-5h0m6-43h0m3-56h0m0 98h0m4-24h0m2 21h0m0 0h0m1-28h0m3 13h0m0 9h0m2-34h0m0 24h0m2-6h0m0 20h0m1 7h0m1-14h0m0 10h0m2-34h0m4 21h0m0 9h0m1-51h0m1 56h0m2-29h0m1 13h0m2-37h0m1-8h0m2 6h0m2 42h0m0 17h0m1-61h0m2-25h0m0 16h0m0 51h0m0 13h0m1-54h0m0 8h0m1 1h0m1-17h0m0 6h0m0 31h0m3-32h0m5 11h0m0 7h0m0 38h0m1-14h0m1-41h0m0 4h0m0 23h0m1 35h0m4-70h0m0 26h0m2-18h0m0 16h0m3 8h0m0 2h0m3-32h0m1 14h0m0 35h0m1-17h0m1-54h0m0 77h0m1-60h0m1-12h0m0 80h0m1-87h0m0 68h0m1-19h0m1 0h0m2-61h0m0 17h0m0 46h0m0 10h0m0 5h0m1-48h0m0 61h0m1-33h0m2-17h0m0 27h0m2-68h0m0 14h0m0 4h0m0 3h0m0 4h0m0 8h0m0 18h0m0 6h0m0 39h0m4-27h0m0 15h0m1-116h0m1 67h0m0 3h0m0 33h0m0 21h0m2-56h0m0 20h0m1-29h0m3-5h0m1 55h0m2-33h0m1-33h0m0 3h0m0 3h0m0 63h0m2-87h0m0 92h0m1-3h0m1-63h0m1-20h0m2-2h0m0 21h0m0 29h0m0 5h0m3-54h0m0 13h0m2 24h0m1 5h0m0 28h0m0 18h0m3-64h0m0 43h0m2-37h0m0 55h0m0 8h0m1-2h0m1-82h0m0 35h0m1-54h0m2 43h0m0 49h0m1-60h0m0 23h0m0 4h0m0 41h0m0 9h0m2-92h0m2 62h0m1-41h0m1-21h0m0 61h0m1-69h0m0 7h0m0 60h0m2 9h0m2-113h0m0 35h0m1 39h0m2-64h0m0 95h0m0 0h0m0 4h0m3-74h0m1 86h0m4-84h0m0 40h0m0 27h0m1 1h0m1-38h0m0 37h0m0 3h0m0 7h0m3 1h0m0 9h0m1-52h0m2-75h0m3-15h0m0 0h0m0 4h0m0 44h0m0 7h0m0 35h0m1-183h0m1 87h0m0 70h0m0 32h0m2-8h0m3-10h0m0 22h0m2-41h0m1-64h0m0 29h0m0 1h0m0 7h0m0 22h0m3-33h0m1 5h0m0 4h0m2 41h0m3-56h0m0 41h0m2 66h0m1-53h0m0 31h0m4-24h0m1-1h0m0 5h0m0 0h0m0 17h0m0 21h0m5-99h0m2 89h0m0 15h0m0 8h0m1-34h0m2-228h0m3 151h0m1-70h0m2 164h0m1-76h0m1 27h0m0 59h0m2-2h0m1-34h0m1-42h0m6-9h0m0 39h0m5-26h0m4 19h0m3-49h0m1 81h0m19-189h0m0 29h0m0 43h0m0 80h0m0 0h0m0 8h0m0 0h0m0 17h0m0 5h0"/>
<path d="m107 602h0m7-3h0m8 1h0m5-2h0m5-8h0m2 8h0m1-2h0m12-5h0m0 5h0m6-19h0m0 7h0m6 3h0m2-5h0m0 0h0m4-1h0m11 6h0m4-17h0m0 0h0m4 3h0m9-4h0m0 21h0m4-1h0m3-4h0m2-12h0m5-3h0m1 17h0m2-47h0m0 29h0m0 18h0m3-19h0m1 11h0m6-22h0m0 7h0m1-3h0m5 11h0m2 11h0m1-3h0m4-32h0m0 19h0m0 0h0m0 6h0m5-18h0m1 17h0m6-13h0m3-1h0m0 24h0m5-25h0m3 24h0m2-36h0m3 7h0m4-25h0m0 13h0m1 10h0m5 16h0m1-7h0m1-24h0m0 5h0m1 28h0m5-18h0m0 2h0m4 21h0m2-3h0m3-53h0m0 53h0m6-20h0m0 16h0m1-1h0m1-6h0m1-28h0m0 25h0m5 5h0m3-5h0m1-16h0m1-35h0m3 57h0m3-60h0m0 13h0m0 36h0m2 12h0m4-23h0m0 20h0m4-26h0m1 3h0m1-28h0m0 49h0m4-24h0m1-17h0m0 40h0m1-11h0m2-38h0m2-22h0m0 54h0m0 30h0m2-50h0m1 29h0m1-41h0m2 37h0m1-55h0m1-8h0m4 42h0m1 18h0m3-44h0m1-6h0m1 10h0m0 5h0m0 25h0m0 2h0m0 28h0m0 0h0m1-76h0m0 4h0m0 40h0m1-44h0m2 25h0m1-26h0m3 68h0m3-73h0m1 34h0m0 13h0m1-19h0m2 22h0m0 15h0m0 10h0m2-33h0m3-37h0m2 63h0m1 4h0m2-18h0m2-18h0m2 18h0m1-30h0m0 7h0m0 2h0m3-12h0m0 5h0m1 32h0m2-72h0m0 44h0m0 9h0m1-34h0m0 34h0m2 19h0m0 2h0m2-26h0m1-6h0m3-72h0m0 45h0m0 54h0m1-53h0m0 32h0m2-40h0m0 21h0m1-42h0m0 2h0m0 32h0m0 10h0m3-33h0m0 15h0m0 18h0m0 5h0m0 38h0m1-95h0m0 76h0m1-65h0m3 89h0m1-40h0m1 30h0m0 5h0m0 2h0m1-59h0m2-9h0m0 8h0m0 39h0m0 29h0m2-76h0m0 47h0m1 3h0m0 16h0m2-59h0m1 40h0m0 7h0m2-77h0m0 89h0m0 1h0m2-30h0m0 27h0m2-12h0m0 11h0m1-63h0m0 54h0m3-96h0m1-4h0m0 21h0m0 77h0m0 31h0m2-45h0m1-87h0m2 24h0m1 31h0m1 13h0m0 4h0m1 35h0m1-10h0m2-39h0m2-20h0m1 2h0m0 9h0m0 29h0m0 15h0m0 15h0m2-73h0m0 12h0m1-17h0m0 90h0m1-159h0m1 89h0m0 23h0m2 23h0m1-13h0m2-41h0m0 47h0m0 13h0m0 13h0m2-56h0m1-107h0m4 23h0m0 89h0m2-83h0m0 84h0m0 20h0m0 30h0m1-49h0m0 54h0m6-141h0m0 63h0m0 1h0m0 6h0m0 44h0m0 19h0m2-97h0m0 108h0m4-74h0m0 46h0m3-169h0m3 180h0m5-74h0m0 14h0m1 5h0m1-63h0m1 36h0m4-63h0m3 154h0m2-83h0m2-87h0m0 72h0m0 74h0m1-9h0m0 13h0m2-59h0m2-71h0m0 78h0m0 36h0m0 18h0m2-54h0m1 29h0m1-70h0m0 80h0m1 3h0m2-82h0m0 31h0m3 32h0m0 21h0m2-31h0m4 9h0m2-14h0m7-2h0m2-11h0m8-47h0m9-102h0m0 61h0m0 4h0m0 51h0m0 29h0m0 15h0m0 0h0m0 7h0m0 10h0"/>
<path d="m74 606h0m40-11h0m0 6h0m17-8h0m3-3h0m4 3h0m4-10h0m19 11h0m2-4h0m6-23h0m0 0h0m13 24h0m2-10h0m2-2h0m3-15h0m10 10h0m11-1h0m3-2h0m6-7h0m1 9h0m1 6h0m2-24h0m3 0h0m1 25h0m6-40h0m0 17h0m0 16h0m0 11h0m0 0h0m8-27h0m0 15h0m6-25h0m6-7h0m0 13h0m0 0h0m0 2h0m0 24h0m0 3h0m5-30h0m3 11h0m1 9h0m3-12h0m2 13h0m1-39h0m4-29h0m1 50h0m2 1h0m0 7h0m0 0h0m4 1h0m0 14h0m0 0h0m3-28h0m1-3h0m3 5h0m0 14h0m1-56h0m2 14h0m2 34h0m1-23h0m2-8h0m0 12h0m0 33h0m0 4h0m5-1h0m1-70h0m0 70h0m5-26h0m2-60h0m1 58h0m5-23h0m0 10h0m0 0h0m0 10h0m0 7h0m0 15h0m0 3h0m0 4h0m4-7h0m2 5h0m1-31h0m2-12h0m0 35h0m1-15h0m6 1h0m2-35h0m1 8h0m5-20h0m0 31h0m2 15h0m0 14h0m0 8h0m1-28h0m0 15h0m1-32h0m0 36h0m4 6h0m2-71h0m0 38h0m0 19h0m0 13h0m0 3h0m3-13h0m1-21h0m3 12h0m2-49h0m1 22h0m0 45h0m1-71h0m0 17h0m0 31h0m2 10h0m1-104h0m0 56h0m0 16h0m0 3h0m0 44h0m3-72h0m1 44h0m0 8h0m1-18h0m1 9h0m1-10h0m2-51h0m0 62h0m3 21h0m1-17h0m1-42h0m0 19h0m1-34h0m1 23h0m1 19h0m0 24h0m3 7h0m1-51h0m2 9h0m5-20h0m0 14h0m0 20h0m1-105h0m2-62h0m0 110h0m0 28h0m0 4h0m0 0h0m0 6h0m0 0h0m0 11h0m0 0h0m0 11h0m4-34h0m2 11h0m1 18h0m2-38h0m1 29h0m1-5h0m2 30h0m1-134h0m2 37h0m0 4h0m0 79h0m3-3h0m1-22h0m1-77h0m0 64h0m0 45h0m1-33h0m1-12h0m0 9h0m0 32h0m0 16h0m2-66h0m0 1h0m0 12h0m1-29h0m4 43h0m3-46h0m0 77h0m1-106h0m0 3h0m0 80h0m1 24h0m1-76h0m0 35h0m4-45h0m0 4h0m0 11h0m0 14h0m0 5h0m0 24h0m0 25h0m3-97h0m0 53h0m2-41h0m1-60h0m0 70h0m0 3h0m0 74h0m2-55h0m1-22h0m2 56h0m1-28h0m2-85h0m0 127h0m0 2h0m3-115h0m1 32h0m0 53h0m1-85h0m0 38h0m2-27h0m3-38h0m0 42h0m0 57h0m0 13h0m0 31h0m0 9h0m3-46h0m2-46h0m1-41h0m0 10h0m2 113h0m1-74h0m0 17h0m0 54h0m1-13h0m0 14h0m1-18h0m2-31h0m3-34h0m0 11h0m0 29h0m0 32h0m2 1h0m1-71h0m0 12h0m1-6h0m0 60h0m1-61h0m2-34h0m0 75h0m1-18h0m0 2h0m0 43h0m1-70h0m1 38h0m2 40h0m2-22h0m1-6h0m2-35h0m0 33h0m1-35h0m2-66h0m0 37h0m0 87h0m3-52h0m4-90h0m0 29h0m0 59h0m0 59h0m5-37h0m0 11h0m2-33h0m0 11h0m1-3h0m0 27h0m1-140h0m0 122h0m0 40h0m2-37h0m8 18h0m2-102h0m2 76h0m2-43h0m0 74h0m4 7h0m10-111h0m0 43h0m2 30h0m3-147h0m9-12h0m0 67h0m0 32h0m0 55h0m0 19h0m0 3h0m0 4h0"/>
<path d="m87 605h0m17-3h0m18-9h0m1 7h0m11-10h0m12 5h0m4-2h0m3 2h0m5-4h0m11-24h0m0 24h0m6-7h0m5-14h0m8 17h0m2-9h0m3-21h0m12 31h0m8-6h0m4-9h0m6 13h0m10-68h0m0 22h0m6 31h0m1-19h0m0 18h0m2 7h0m1-19h0m2-11h0m3 11h0m2-25h0m1 37h0m2-17h0m0 29h0m5-33h0m0 12h0m3 19h0m4-53h0m0 53h0m3-40h0m0 4h0m5-4h0m1 26h0m0 4h0m2-17h0m0 14h0m1-31h0m0 29h0m2-6h0m1-26h0m6 15h0m0 2h0m2-37h0m0 25h0m0 7h0m3-17h0m0 33h0m0 15h0m3-26h0m2 19h0m1-38h0m1 13h0m2 0h0m3 9h0m2-5h0m0 9h0m3 3h0m5-20h0m7-14h0m1 44h0m2-30h0m0 17h0m0 9h0m1-3h0m1-19h0m2 12h0m6-54h0m1 37h0m1-44h0m0 27h0m0 18h0m0 30h0m2-33h0m0 10h0m2-62h0m0 31h0m0 46h0m4-27h0m1 3h0m1-17h0m0 32h0m2-3h0m2 10h0m4-39h0m0 16h0m1-3h0m1-81h0m2 82h0m1-61h0m1 19h0m2 54h0m0 0h0m1-13h0m0 14h0m1-13h0m1 11h0m1-55h0m1 5h0m0 12h0m0 36h0m2-9h0m1 9h0m2-48h0m0 25h0m0 28h0m2-75h0m1-51h0m0 100h0m3-51h0m0 66h0m1-82h0m0 8h0m0 46h0m3-27h0m0 56h0m1 6h0m4-35h0m0 47h0m1-54h0m0 35h0m1-52h0m0 51h0m4-56h0m0 5h0m4-2h0m1-20h0m0 24h0m1 24h0m0 30h0m1-10h0m0 6h0m0 14h0m2-52h0m0 40h0m0 9h0m1-79h0m0 43h0m0 0h0m0 9h0m0 4h0m0 6h0m2-62h0m1 22h0m0 9h0m0 54h0m1-35h0m2-142h0m0 96h0m0 20h0m0 59h0m1-37h0m1-65h0m1 93h0m1-45h0m0 14h0m0 13h0m1-14h0m0 25h0m1-30h0m0 14h0m1-97h0m0 26h0m0 5h0m0 38h0m0 0h0m0 16h0m0 41h0m2-49h0m6-142h0m1-17h0m0 141h0m4-6h0m0 38h0m1 3h0m1-71h0m0 42h0m0 30h0m2-155h0m0 11h0m0 85h0m0 14h0m0 58h0m0 8h0m0 0h0m3-97h0m0 58h0m1-93h0m1 58h0m1-15h0m0 39h0m5-22h0m1-29h0m2 13h0m0 18h0m0 19h0m0 0h0m0 11h0m0 18h0m0 24h0m2 5h0m1-87h0m0 9h0m0 0h0m1 22h0m0 27h0m1-75h0m0 41h0m0 25h0m1 10h0m0 16h0m4-81h0m0 7h0m0 13h0m0 40h0m0 21h0m0 4h0m0 1h0m3-37h0m1-4h0m2-3h0m0 32h0m0 20h0m2-42h0m0 0h0m1-20h0m4 18h0m3-1h0m0 11h0m0 4h0m0 3h0m0 30h0m2-32h0m1-19h0m1-49h0m2 33h0m0 5h0m0 19h0m1-49h0m0 19h0m5 9h0m0 34h0m8-138h0m0 76h0m2 4h0m0 48h0m2-21h0m1 3h0m0 1h0m2-10h0m1 18h0m1-40h0m0 5h0m0 12h0m3-98h0m0 76h0m0 4h0m2-37h0m0 69h0m2-121h0m0 99h0m0 15h0m1 13h0m0 13h0m2-42h0m0 43h0m5 15h0m2-78h0m4 82h0m3-43h0m1 10h0m2-88h0m5 100h0m19-68h0m0 31h0m0 33h0m0 0h0m0 11h0m0 0h0"/>
<path d="m104 598h0m18 2h0m2-1h0m7-2h0m11-10h0m5 4h0m6 4h0m4-4h0m2 4h0m14-14h0m3-8h0m17-1h0m7 0h0m4 4h0m0 6h0m0 6h0m4-19h0m18 1h0m7 5h0m0 9h0m0 0h0m8-1h0m3-10h0m2-2h0m2-19h0m0 6h0m0 15h0m0 4h0m1-29h0m4-5h0m0 14h0m0 8h0m0 17h0m4-32h0m1 21h0m1-6h0m2-3h0m0 10h0m1-32h0m3 0h0m0 40h0m2-43h0m2-1h0m0 4h0m2 0h0m0 22h0m2-1h0m3-13h0m3 30h0m1-48h0m2 12h0m4-4h0m0 17h0m0 5h0m0 3h0m1-21h0m1-11h0m0 11h0m2 8h0m3-18h0m0 35h0m1-27h0m2 14h0m0 12h0m1-74h0m0 35h0m0 25h0m5-4h0m0 14h0m1-17h0m4 24h0m1-48h0m5-6h0m0 17h0m0 8h0m3-10h0m3-1h0m0 26h0m1-15h0m2 13h0m5-69h0m0 56h0m0 8h0m1 6h0m0 9h0m2-42h0m4 19h0m1-54h0m0 44h0m0 34h0m4-53h0m0 11h0m2-19h0m1 36h0m2-13h0m2-14h0m2 42h0m1-18h0m1-6h0m1-56h0m0 73h0m0 7h0m2-41h0m0 24h0m1 6h0m1 2h0m1-38h0m0 21h0m0 14h0m0 10h0m5-71h0m0 19h0m0 67h0m2-33h0m5-51h0m0 32h0m1-29h0m0 31h0m2 29h0m2-34h0m0 3h0m0 45h0m1-50h0m1 3h0m1-20h0m0 19h0m0 18h0m0 1h0m1 9h0m1-40h0m0 26h0m2-118h0m0 111h0m1-17h0m0 38h0m1-49h0m2 3h0m0 28h0m0 22h0m2-47h0m0 49h0m1-76h0m0 59h0m1-47h0m1 13h0m0 45h0m1-40h0m2-26h0m0 88h0m2-97h0m2 29h0m1-14h0m2 42h0m0 33h0m4-99h0m2-89h0m0 122h0m0 4h0m0 42h0m2-9h0m1-59h0m0 56h0m0 4h0m3-16h0m0 1h0m0 1h0m1-58h0m0 68h0m3-35h0m0 12h0m3-26h0m0 8h0m1-30h0m2 16h0m1 2h0m1-51h0m0 51h0m0 9h0m3 54h0m1-9h0m1-21h0m2-40h0m2-39h0m0 42h0m0 4h0m0 4h0m0 28h0m0 33h0m0 5h0m0 11h0m0 6h0m4-19h0m1-47h0m1-78h0m1 85h0m1-46h0m0 33h0m1-48h0m0 47h0m1-16h0m1 27h0m0 1h0m2 33h0m1-48h0m0 30h0m0 22h0m3-68h0m0 13h0m0 18h0m1 44h0m2 2h0m3 6h0m1-100h0m0 59h0m0 40h0m2-74h0m1-16h0m0 13h0m1 13h0m1-122h0m0 140h0m1-23h0m0 66h0m3-91h0m0 17h0m0 10h0m0 6h0m0 35h0m0 5h0m0 11h0m2-154h0m2 146h0m3-73h0m0 14h0m0 37h0m1-28h0m3-22h0m0 15h0m1 45h0m0 8h0m1-138h0m0 107h0m0 5h0m3 17h0m1-57h0m0 31h0m0 6h0m1-16h0m1-142h0m0 60h0m0 98h0m0 25h0m2-31h0m1-15h0m1-5h0m0 75h0m4-63h0m0 27h0m2-43h0m0 0h0m0 30h0m0 45h0m2-77h0m3-66h0m0 61h0m0 3h0m0 22h0m1-22h0m1-10h0m7 73h0m2-91h0m4 77h0m1-108h0m2 63h0m7 48h0m5-37h0m0 29h0m6-67h0m17-256h0m0 85h0m0 64h0m0 36h0m0 76h0m0 15h0m0 26h0m0 15h0m0 27h0"/>
<path d="m85 605h0m23-3h0m3-11h0m0 8h0m3 0h0m3-5h0m5-7h0m5 12h0m34-5h0m0 0h0m8-27h0m7 14h0m0 6h0m4 5h0m9-20h0m4-14h0m0 31h0m3-6h0m9-5h0m4 2h0m1-30h0m7 13h0m6 23h0m10-35h0m0 0h0m0 11h0m0 5h0m0 6h0m0 0h0m4-6h0m3 13h0m3-20h0m0 20h0m2-11h0m0 4h0m0 1h0m3-6h0m7 9h0m3-27h0m0 26h0m2-23h0m2 18h0m3-18h0m5 8h0m1-4h0m2 16h0m6-30h0m0 7h0m0 12h0m0 7h0m2-6h0m2-10h0m2-15h0m1 39h0m2-22h0m0 15h0m4-11h0m5-45h0m0 57h0m4-18h0m5 13h0m2-5h0m5-95h0m0 43h0m0 5h0m0 4h0m0 13h0m0 4h0m0 5h0m0 3h0m0 5h0m4 15h0m1 5h0m3-10h0m3-48h0m1 49h0m1-25h0m3-11h0m0 37h0m1-17h0m1 28h0m2-18h0m2-50h0m0 37h0m0 3h0m0 21h0m0 6h0m2-53h0m1 25h0m1-24h0m0 22h0m0 8h0m0 22h0m4-46h0m2-17h0m0 28h0m1-31h0m0 8h0m5 18h0m0 21h0m1-32h0m0 26h0m1-42h0m0 39h0m0 20h0m2 2h0m1-25h0m2-15h0m1 2h0m2 4h0m0 17h0m1 0h0m1-9h0m1-19h0m0 19h0m4-54h0m3 56h0m1 9h0m1-58h0m0 74h0m2-53h0m0 21h0m1-34h0m1 28h0m1-10h0m2-46h0m0 19h0m1 27h0m0 18h0m1-29h0m1-11h0m3-1h0m2 28h0m4-81h0m0 11h0m0 33h0m0 55h0m0 11h0m0 11h0m0 0h0m4-17h0m2-51h0m2 31h0m0 15h0m1-10h0m1-66h0m1 81h0m0 2h0m1-54h0m1 34h0m1-73h0m2 27h0m0 53h0m0 19h0m2-45h0m0 4h0m1-15h0m0 53h0m1-18h0m1-47h0m1 48h0m1-57h0m0 26h0m0 19h0m0 38h0m3-40h0m1-19h0m0 0h0m0 29h0m1-90h0m0 115h0m1-94h0m0 42h0m0 8h0m0 30h0m1-72h0m1-27h0m0 97h0m1-86h0m0 37h0m0 21h0m0 8h0m2 5h0m1 17h0m1-66h0m0 17h0m0 20h0m0 4h0m0 28h0m2-69h0m0 4h0m2-120h0m0 17h0m0 96h0m0 3h0m0 0h0m0 0h0m0 8h0m0 25h0m0 25h0m0 8h0m3-95h0m0 6h0m1-23h0m1 16h0m0 8h0m0 35h0m1-32h0m2 87h0m1-51h0m0 19h0m0 5h0m1-74h0m0 39h0m1 27h0m3-33h0m0 37h0m0 22h0m3-7h0m1-70h0m0 47h0m1-87h0m0 110h0m0 4h0m4-22h0m1-87h0m0 13h0m0 42h0m0 24h0m2 4h0m0 38h0m3-130h0m0 18h0m0 98h0m0 14h0m1-105h0m0 78h0m0 7h0m3 18h0m1-85h0m1 3h0m2 21h0m0 7h0m1-37h0m2-47h0m0 61h0m0 0h0m0 5h0m0 2h0m0 20h0m0 28h0m2-53h0m2-43h0m1-4h0m1 56h0m0 20h0m3-8h0m3-88h0m0 73h0m0 53h0m2-59h0m0 41h0m3-16h0m5-5h0m3 27h0m4-123h0m4 142h0m1-31h0m4 17h0m5-53h0m0 30h0m2 28h0m3-229h0m0 106h0m0 93h0m2-109h0m2 68h0m0 43h0m7-26h0m9 50h0m12-110h0m0 44h0m0 39h0m0 9h0m0 7h0m0 3h0m0 2h0"/>
<path d="m93 604h0m28-9h0m1 0h0m0 5h0m7-1h0m7-2h0m5-3h0m5-2h0m1-1h0m6-7h0m10-2h0m1 10h0m18-4h0m11-31h0m0 0h0m5 27h0m15 0h0m1-9h0m3-8h0m10 13h0m6-13h0m0 11h0m0 6h0m8-34h0m0 28h0m0 5h0m2 0h0m5-1h0m2-27h0m3-7h0m0 3h0m2 14h0m0 9h0m8-9h0m2-25h0m4 8h0m1 23h0m2-10h0m7-21h0m0 25h0m0 13h0m4-32h0m4-22h0m1 45h0m1 3h0m2-60h0m0 46h0m0 5h0m3-2h0m0 15h0m3-40h0m0 30h0m2-8h0m6 1h0m0 12h0m1-10h0m3-1h0m4-34h0m0 19h0m0 6h0m0 13h0m0 9h0m3-24h0m2 12h0m2-22h0m0 3h0m1-15h0m0 24h0m1-53h0m0 66h0m0 3h0m1-38h0m1 14h0m0 2h0m2 18h0m1 4h0m2-10h0m1-1h0m5-28h0m0 6h0m1-11h0m0 41h0m6-57h0m2 40h0m1-29h0m2 33h0m1-35h0m5-28h0m0 3h0m0 38h0m0 36h0m3-13h0m1-56h0m0 16h0m0 16h0m0 26h0m1-35h0m1 33h0m2 1h0m0 14h0m2-67h0m0 26h0m1 4h0m1 10h0m0 12h0m1-56h0m0 52h0m1-78h0m0 52h0m0 29h0m1-67h0m1 40h0m1-53h0m0 46h0m1 43h0m2-123h0m0 27h0m0 81h0m0 4h0m2-119h0m0 57h0m1 11h0m1 42h0m1 12h0m1-27h0m1 19h0m2-14h0m1-41h0m1-22h0m0 14h0m2 32h0m1-44h0m0 19h0m2 1h0m0 32h0m3-54h0m0 7h0m0 6h0m0 44h0m0 11h0m0 5h0m0 0h0m0 15h0m0 7h0m2-27h0m8-33h0m3 18h0m1 9h0m2 31h0m3-56h0m0 13h0m2 8h0m2-51h0m0 0h0m0 25h0m0 3h0m0 29h0m0 0h0m0 19h0m2-78h0m1-10h0m0 34h0m1 25h0m0 16h0m1-72h0m0 67h0m0 1h0m0 11h0m1-56h0m3-38h0m0 28h0m0 2h0m1-36h0m0 70h0m1-33h0m0 14h0m3-29h0m1-37h0m2 24h0m0 4h0m0 0h0m0 17h0m0 8h0m0 3h0m0 7h0m0 27h0m0 15h0m0 23h0m4-149h0m1 55h0m1-2h0m1 5h0m1 56h0m3-16h0m0 36h0m3-112h0m0 103h0m3-50h0m0 29h0m0 19h0m0 9h0m2-17h0m2-107h0m0 33h0m0 78h0m2-25h0m1-62h0m0 14h0m0 93h0m2-155h0m1 59h0m2 42h0m0 47h0m1-58h0m2-81h0m1 91h0m1-4h0m0 13h0m1-39h0m1-36h0m0 57h0m2 33h0m2-125h0m0 61h0m0 2h0m0 31h0m0 19h0m2-32h0m1 19h0m1-16h0m2-6h0m0 56h0m3-90h0m3-37h0m0 32h0m0 1h0m0 57h0m0 2h0m0 17h0m0 9h0m0 15h0m0 19h0m1-104h0m2 73h0m1-40h0m0 4h0m0 4h0m0 36h0m3-42h0m1 10h0m1-13h0m1-48h0m0 4h0m2 79h0m3-32h0m0 8h0m2-147h0m1 143h0m1-27h0m0 14h0m0 41h0m1-39h0m1-15h0m1-10h0m1 23h0m0 0h0m1-65h0m0 25h0m2 34h0m8-27h0m0 49h0m3 6h0m0 2h0m4-71h0m2-176h0m0 246h0m1-94h0m12-3h0m7 86h0m5-50h0m0 14h0m0 4h0m0 9h0m0 35h0m0 11h0m0 11h0m0 22h0"/>
<path d="m74 606h0m0 0h0m0 0h0m54-7h0m2 0h0m12-2h0m1-2h0m16 0h0m2-13h0m0 3h0m0 9h0m6-12h0m2-15h0m7 25h0m12-5h0m2-9h0m3-13h0m0 3h0m0 22h0m4-7h0m1-17h0m12 21h0m11-1h0m1-6h0m3-1h0m1-13h0m7-26h0m0 22h0m3-1h0m1 13h0m2-21h0m1 13h0m6-15h0m0 20h0m2 5h0m3-6h0m5 3h0m2 8h0m0 0h0m1-39h0m1-17h0m0 56h0m5-54h0m0 31h0m0 9h0m0 13h0m4-34h0m2 6h0m2-16h0m3 25h0m3-16h0m0 7h0m0 7h0m2-18h0m2-19h0m0 30h0m0 24h0m3-14h0m3-25h0m2 31h0m3-43h0m0 51h0m3-52h0m0 16h0m3 18h0m1-30h0m1 20h0m1-21h0m0 34h0m5 5h0m5-80h0m0 6h0m0 15h0m0 27h0m4-25h0m0 13h0m3-8h0m0 28h0m1-22h0m0 21h0m2 14h0m3 2h0m3-12h0m1-31h0m1 11h0m0 15h0m0 0h0m4-30h0m0 34h0m0 15h0m3-74h0m0 64h0m1-46h0m3 15h0m5 1h0m0 9h0m0 22h0m0 2h0m0 7h0m4-26h0m0 4h0m2-19h0m0 15h0m1-29h0m2-18h0m1 27h0m1 31h0m0 11h0m3-70h0m0 2h0m1 20h0m0 27h0m3-28h0m0 14h0m2-40h0m1 35h0m0 51h0m1-49h0m0 21h0m4 20h0m1-21h0m0 4h0m2-44h0m1 43h0m1-46h0m3 56h0m0 9h0m2-54h0m0 31h0m1 4h0m3-53h0m0 65h0m2-33h0m3-58h0m0 13h0m0 53h0m0 35h0m3-70h0m2-13h0m0 24h0m1 35h0m1-37h0m0 3h0m0 28h0m0 5h0m1 19h0m1-79h0m0 7h0m1-47h0m1 59h0m1-56h0m1 65h0m0 12h0m1 10h0m0 3h0m2-56h0m0 9h0m0 6h0m0 58h0m3-135h0m0 64h0m1 6h0m1 34h0m2-70h0m0 104h0m5-44h0m1-29h0m0 21h0m0 1h0m0 56h0m2-128h0m1 13h0m0 110h0m0 3h0m1-5h0m1-77h0m1 8h0m0 70h0m2-67h0m1 0h0m0 62h0m1-108h0m0 109h0m1-88h0m0 42h0m0 49h0m0 3h0m2-40h0m1-8h0m1-84h0m0 110h0m0 8h0m0 5h0m2-68h0m1-12h0m1-13h0m0 32h0m0 30h0m1-1h0m0 25h0m1-65h0m1-35h0m3 115h0m3-57h0m0 35h0m1-2h0m2-49h0m0 38h0m1-47h0m0 70h0m3-16h0m3-55h0m0 22h0m6-48h0m0 57h0m1-47h0m0 11h0m0 57h0m0 12h0m2-109h0m0 17h0m1 85h0m1-146h0m0 133h0m2-81h0m3-6h0m2 68h0m1-72h0m0 44h0m0 51h0m0 10h0m2-58h0m0 60h0m1-53h0m0 1h0m0 36h0m3-25h0m0 2h0m0 6h0m0 4h0m0 23h0m0 19h0m4-35h0m0 22h0m1-59h0m10-123h0m0 100h0m0 18h0m0 4h0m0 3h0m0 38h0m3-89h0m1 43h0m1-54h0m0 112h0m2-87h0m2 41h0m2-52h0m1-142h0m1 114h0m0 97h0m0 33h0m0 11h0m1-40h0m2-82h0m0 0h0m0 56h0m0 25h0m0 26h0m3-65h0m1 5h0m6-30h0m4 98h0m3-120h0m20-13h0m0 16h0m0 31h0m0 20h0m0 12h0m0 13h0m0 9h0m0 11h0m0 11h0m0 0h0m0 0h0m0 9h0m0 13h0"/>
<path d="m74 606h0m22-6h0m15-3h0m0 4h0m8-1h0m13-2h0m10-5h0m5-2h0m11 4h0m20-7h0m2-11h0m2 8h0m2 6h0m4-4h0m2 2h0m3-32h0m0 0h0m0 33h0m26-21h0m2 9h0m5-12h0m7-26h0m0 6h0m0 11h0m0 5h0m0 6h0m0 0h0m0 3h0m4-3h0m1 12h0m5-11h0m0 1h0m3 2h0m0 7h0m9-16h0m1-10h0m2 14h0m7-31h0m0 4h0m0 6h0m0 6h0m0 23h0m3-6h0m3-9h0m0 19h0m1-27h0m4-5h0m1-5h0m2 5h0m2-11h0m5 16h0m1 2h0m1-30h0m1 49h0m2-51h0m0 6h0m0 6h0m0 35h0m2-25h0m1 6h0m8 10h0m2-34h0m0 36h0m1-6h0m1-12h0m1 20h0m6-107h0m0 50h0m0 0h0m0 17h0m0 16h0m0 17h0m0 12h0m6-22h0m3 6h0m2-16h0m1-42h0m0 70h0m4-42h0m2-40h0m0 70h0m0 0h0m2-43h0m0 33h0m2-27h0m2 47h0m0 4h0m2-27h0m0 15h0m1-40h0m1 27h0m0 9h0m2-13h0m3-5h0m1 7h0m2-7h0m1 25h0m1-61h0m0 12h0m0 14h0m0 5h0m0 17h0m1-48h0m1 71h0m2-67h0m0 39h0m1 6h0m1-23h0m2-8h0m2 12h0m0 20h0m4 8h0m1-11h0m1-6h0m1-39h0m0 62h0m0 0h0m1-46h0m0 20h0m4-36h0m0 25h0m0 9h0m0 15h0m0 9h0m1-18h0m1 21h0m3 1h0m2-78h0m1 29h0m0 19h0m1 1h0m1-57h0m0 77h0m3-93h0m0 25h0m1 24h0m0 34h0m1-44h0m0 19h0m0 23h0m1-37h0m3-25h0m0 7h0m0 55h0m0 0h0m0 22h0m6-85h0m0 63h0m0 5h0m2-48h0m2 24h0m1-16h0m1 22h0m1-58h0m0 71h0m1-57h0m0 57h0m2-56h0m0 67h0m2-50h0m1-8h0m0 51h0m4-54h0m0 9h0m0 18h0m0 14h0m3-22h0m0 10h0m1-101h0m1 8h0m0 109h0m1-54h0m0 5h0m0 3h0m0 58h0m1-19h0m0 15h0m1-101h0m0 98h0m1-53h0m1 59h0m1-48h0m2-47h0m0 16h0m3 26h0m1 10h0m0 10h0m0 27h0m0 17h0m0 0h0m2-83h0m1-11h0m0 27h0m3-9h0m1 38h0m2-22h0m0 8h0m0 29h0m0 9h0m2-124h0m0 61h0m1-33h0m2-54h0m0 81h0m0 22h0m0 29h0m0 0h0m1-114h0m1 40h0m0 69h0m2-71h0m1 96h0m1-18h0m1-3h0m3-83h0m0 20h0m0 59h0m3-88h0m0 79h0m0 2h0m0 3h0m2-78h0m0 23h0m1-68h0m0 102h0m1-43h0m0 71h0m2-224h0m0 163h0m0 48h0m0 0h0m0 39h0m1-17h0m1-95h0m0 53h0m1 14h0m3-35h0m1-10h0m0 48h0m0 10h0m3-64h0m1 46h0m0 5h0m4 26h0m1-41h0m1-61h0m2-20h0m0 75h0m0 48h0m1-74h0m0 56h0m1-66h0m0 57h0m2-105h0m4-70h0m0 92h0m0 27h0m0 76h0m2-74h0m1 52h0m1-28h0m2 54h0m1-76h0m0 15h0m5-48h0m1 61h0m1-38h0m0 51h0m4-85h0m0 78h0m2-67h0m3 75h0m1-114h0m6 119h0m9-3h0m4-69h0m0 28h0m1 28h0m3-7h0m13-179h0m0 79h0m0 15h0m0 31h0m0 43h0m0 22h0m0 22h0m0 9h0"/>
<path d="m108 602h0m6-1h0m8-11h0m12 0h0m6 6h0m23-5h0m6-44h0m0 33h0m4 13h0m8-16h0m1-1h0m11-8h0m14 18h0m2-1h0m1-26h0m5 23h0m3-11h0m5-6h0m3 20h0m7-89h0m5 74h0m2-4h0m1-9h0m1 5h0m1-5h0m2 12h0m3-17h0m1 4h0m4-16h0m0 19h0m2-15h0m3-1h0m2 20h0m1-8h0m2-3h0m2 8h0m0 17h0m2-18h0m2 11h0m2-14h0m2-21h0m0 11h0m0 16h0m1 9h0m0 7h0m1-24h0m0 4h0m1 0h0m3-23h0m0 10h0m0 24h0m1-11h0m1 7h0m5-32h0m0 7h0m2 2h0m3-14h0m2 29h0m1-32h0m1 16h0m1 7h0m4 3h0m5-22h0m0 11h0m0 28h0m1-35h0m1 25h0m3 7h0m3-55h0m0 16h0m0 3h0m0 24h0m0 12h0m0 8h0m5-37h0m1 3h0m1-12h0m2 38h0m2-12h0m1-48h0m2 20h0m2-14h0m0 9h0m2 13h0m0 28h0m1-8h0m1-38h0m0 2h0m1-6h0m1-16h0m0 59h0m2 8h0m2-51h0m0 37h0m4-35h0m0 19h0m0 20h0m2-58h0m0 23h0m2-21h0m0 42h0m0 12h0m0 16h0m3-21h0m0 13h0m1-47h0m2-15h0m0 40h0m0 17h0m6-27h0m2-55h0m0 12h0m0 12h0m0 22h0m0 28h0m0 2h0m0 20h0m2-25h0m3 22h0m2-54h0m1-15h0m1-13h0m1 21h0m1 37h0m3 20h0m1-114h0m0 77h0m1-24h0m1-7h0m0 24h0m0 0h0m0 18h0m1 18h0m1-52h0m0 23h0m1-6h0m2 12h0m0 27h0m6-58h0m0 51h0m3-125h0m0 50h0m0 12h0m0 39h0m0 15h0m0 15h0m2-89h0m0 17h0m2-22h0m0 35h0m0 18h0m1-73h0m0 103h0m1-60h0m1-18h0m0 56h0m0 20h0m1 7h0m1-59h0m1-2h0m0 44h0m2-67h0m0 82h0m3-77h0m1 34h0m0 3h0m0 16h0m3 13h0m2 13h0m1-2h0m1-64h0m0 19h0m0 27h0m5-51h0m1-28h0m0 13h0m0 26h0m0 3h0m0 5h0m2 6h0m0 32h0m0 1h0m1-111h0m0 67h0m4 7h0m1 4h0m3-135h0m0 119h0m0 2h0m0 5h0m0 7h0m0 34h0m0 5h0m0 8h0m0 9h0m3-107h0m1 74h0m1-137h0m2 96h0m0 10h0m1-16h0m1-54h0m0 79h0m0 28h0m2-98h0m0 78h0m3-42h0m0 21h0m0 22h0m2-63h0m0 43h0m0 6h0m0 20h0m0 22h0m1-93h0m0 17h0m0 11h0m0 24h0m0 9h0m4-35h0m0 62h0m3-108h0m0 19h0m0 29h0m0 36h0m0 22h0m0 4h0m0 4h0m5-16h0m3-67h0m1 53h0m0 18h0m2-53h0m1-43h0m0 60h0m3-65h0m0 106h0m1-114h0m0 15h0m0 84h0m0 0h0m0 11h0m0 4h0m2-54h0m2-82h0m2 36h0m0 95h0m1-28h0m0 13h0m1-51h0m1 32h0m3-34h0m1 46h0m1 5h0m1-7h0m1 1h0m4 17h0m1-4h0m4-133h0m2 111h0m2-90h0m2-11h0m1 39h0m0 75h0m2-19h0m2-4h0m0 12h0m0 30h0m3-70h0m1 38h0m0 6h0m0 11h0m2-36h0m1-3h0m3 61h0m2-57h0m0 31h0m9-51h0m3-61h0m4 121h0m16-110h0m0 16h0m0 10h0m0 13h0m0 5h0m0 11h0m0 61h0"/>
<path d="m98 603h0m19-3h0m6-3h0m2-7h0m27-2h0m1 7h0m8-19h0m8 4h0m3 2h0m3-2h0m1 11h0m0 1h0m2-3h0m2-6h0m0 9h0m11-4h0m2-48h0m4 32h0m5 10h0m2-24h0m3 17h0m1-11h0m0 18h0m1 0h0m1 5h0m3-13h0m4 3h0m4-11h0m2 11h0m2 3h0m0 2h0m1-21h0m1 19h0m1 1h0m2-15h0m3-48h0m0 0h0m0 39h0m0 27h0m5-17h0m3 10h0m1-10h0m1-11h0m0 11h0m0 13h0m2-16h0m0 19h0m3-28h0m5 6h0m0 12h0m3-14h0m2 17h0m4-16h0m5 9h0m3 9h0m1-19h0m2-19h0m2 19h0m1-28h0m3 9h0m1 18h0m1-55h0m0 50h0m1-16h0m0 27h0m0 11h0m4-38h0m0 18h0m0 7h0m0 11h0m3-53h0m0 37h0m2 19h0m3-20h0m5-12h0m0 9h0m5-19h0m1-17h0m2 47h0m6-90h0m0 44h0m0 2h0m0 23h0m0 8h0m0 3h0m4-22h0m2 40h0m2-51h0m1 0h0m0 10h0m0 12h0m1-15h0m4-19h0m0 55h0m1-52h0m2 40h0m1 19h0m4-55h0m0 0h0m0 44h0m1-27h0m2 7h0m1-59h0m0 8h0m0 13h0m0 21h0m0 30h0m0 17h0m2-35h0m1 8h0m3-36h0m2-14h0m0 13h0m0 6h0m0 33h0m0 14h0m4-47h0m2 12h0m2 5h0m1-6h0m0 8h0m2-36h0m0 65h0m3-73h0m0 13h0m0 23h0m1-26h0m1 45h0m2-31h0m2 25h0m1-67h0m0 66h0m1-14h0m0 1h0m1-21h0m0 52h0m3-15h0m3-33h0m1 7h0m0 45h0m5-72h0m1 5h0m1 45h0m1-16h0m2-26h0m0 6h0m1-14h0m1 30h0m3-63h0m0 35h0m0 15h0m0 12h0m0 7h0m0 10h0m4-40h0m0 1h0m0 8h0m0 5h0m2-26h0m0 54h0m0 21h0m1-22h0m2-27h0m1 31h0m0 2h0m1-17h0m1-40h0m0 31h0m1-63h0m0 71h0m0 20h0m2-60h0m0 2h0m0 22h0m1 2h0m0 21h0m0 0h0m0 7h0m0 16h0m2-98h0m0 49h0m0 25h0m0 27h0m5-54h0m0 36h0m2-55h0m1-19h0m0 53h0m0 5h0m1-5h0m1 10h0m1-98h0m2 109h0m4-49h0m1-15h0m1-48h0m0 100h0m2 8h0m1-156h0m0 66h0m0 9h0m0 90h0m0 0h0m0 10h0m5-72h0m0 1h0m0 51h0m2-34h0m0 29h0m1-22h0m1-75h0m0 56h0m0 15h0m0 31h0m0 13h0m5-55h0m0 32h0m0 20h0m1-24h0m0 6h0m4 18h0m1-38h0m0 14h0m4-49h0m0 7h0m0 35h0m0 11h0m4-26h0m0 8h0m1-57h0m2 14h0m2-48h0m0 77h0m0 32h0m1-77h0m2 24h0m1 14h0m1-44h0m2-98h0m0 34h0m0 32h0m0 6h0m0 61h0m0 31h0m0 4h0m1-102h0m4 103h0m1-53h0m0 60h0m0 5h0m1-78h0m0 52h0m4-47h0m1 81h0m1-54h0m0 20h0m2 0h0m2 39h0m2-95h0m1 28h0m0 58h0m0 0h0m4-202h0m0 97h0m0 9h0m0 38h0m1-141h0m2 85h0m2-33h0m0 66h0m1-28h0m1 64h0m2-21h0m3 46h0m9-109h0m2 62h0m5-108h0m7 148h0m8-100h0m13 11h0m0 49h0m0 4h0m0 26h0m0 4h0m0 2h0m0 3h0m0 28h0"/>
<path d="m88 604h0m2-1h0m2 1h0m0 0h0m25-16h0m0 12h0m2-2h0m3 2h0m27-8h0m4-8h0m0 11h0m4-6h0m2 5h0m2 0h0m8-14h0m4 12h0m7 0h0m3-2h0m1-14h0m4 6h0m5-5h0m0 1h0m8-7h0m0 13h0m4-12h0m2 9h0m7-17h0m3-22h0m0 25h0m1 7h0m1-8h0m4 17h0m3-34h0m1 34h0m1-13h0m11-4h0m1 14h0m3-28h0m5-18h0m0 42h0m5-30h0m0 24h0m0 12h0m2-30h0m1 13h0m2-4h0m0 15h0m1-4h0m2-26h0m1 1h0m1-1h0m1 10h0m1-9h0m3 22h0m2-1h0m1-16h0m2 27h0m4-9h0m2-5h0m0 13h0m0 0h0m1-13h0m1-8h0m0 17h0m1-17h0m1-27h0m3 19h0m1-1h0m2-11h0m0 36h0m5-18h0m0 3h0m3-18h0m0 27h0m0 0h0m2-7h0m2-30h0m5-1h0m0 38h0m1-32h0m6-51h0m0 9h0m0 22h0m0 0h0m0 2h0m0 7h0m0 28h0m0 21h0m12-1h0m1-15h0m1-60h0m0 53h0m4-43h0m0 41h0m0 5h0m2-21h0m0 23h0m2-81h0m0 36h0m0 53h0m3-59h0m1 10h0m0 19h0m0 37h0m2-81h0m0 79h0m2-47h0m2 21h0m2 27h0m5-61h0m0 28h0m0 2h0m1-67h0m0 83h0m2 2h0m1-58h0m0 59h0m1-8h0m1-3h0m0 7h0m3-67h0m0 1h0m0 33h0m0 28h0m0 5h0m3-43h0m3 51h0m1-72h0m0 8h0m0 36h0m1 23h0m2-76h0m1 55h0m6 11h0m1-45h0m0 37h0m1-11h0m1-1h0m0 2h0m1-58h0m2 87h0m3-60h0m1-14h0m2 10h0m0 56h0m2-59h0m0 43h0m0 9h0m0 9h0m3-10h0m1 11h0m1-59h0m1 12h0m0 16h0m1-12h0m0 23h0m1-55h0m0 33h0m2-15h0m0 45h0m2-50h0m1-30h0m0 56h0m1-58h0m0 59h0m1-21h0m1-32h0m0 23h0m3-36h0m0 97h0m2-85h0m0 41h0m1-1h0m0 52h0m1-78h0m0 35h0m0 19h0m0 0h0m1-14h0m1 31h0m2-91h0m0 21h0m1 26h0m0 9h0m1-9h0m3-20h0m2 17h0m2-73h0m0 51h0m0 2h0m0 27h0m0 15h0m1-9h0m3-131h0m0 62h0m0 1h0m0 32h0m0 3h0m0 5h0m0 54h0m3-73h0m1 20h0m0 21h0m2-58h0m0 5h0m2 21h0m1 3h0m5-27h0m0 29h0m0 44h0m2 21h0m1-15h0m2-82h0m1-19h0m1-3h0m3 21h0m0 22h0m2 81h0m1-71h0m0 30h0m0 22h0m1-124h0m0 112h0m1-40h0m1 15h0m2-24h0m1 3h0m3 30h0m1 12h0m1-15h0m2-154h0m0 108h0m0 44h0m0 8h0m0 11h0m0 11h0m1-75h0m1 45h0m1-40h0m0 51h0m0 0h0m2 32h0m1-76h0m0 49h0m3-66h0m0 50h0m0 4h0m1-34h0m3 7h0m0 4h0m1-47h0m1 14h0m1-13h0m1 10h0m3 67h0m0 17h0m3-52h0m1-10h0m2 54h0m3-36h0m3-36h0m0 64h0m1-41h0m0 35h0m0 7h0m1-115h0m0 48h0m2-68h0m2 79h0m2 54h0m2-127h0m1 136h0m3-18h0m0 36h0m2-42h0m4-22h0m1-35h0m4-6h0m23-63h0m0 67h0m0 15h0m0 9h0m0 2h0m0 28h0m0 16h0m0 17h0m0 16h0"/>
</g>
<defs>
<clipPath id="mclip"><rect x="41.2" y="82.9" width="111.8" height="83.5"/></clipPath>
<filter id="pencil" x="-5%" y="-5%" width="110%" height="110%" color-interpolation-filters="sRGB">
<feTurbulence type="fractalNoise" baseFrequency="0.5 0.65" numOctaves="2" seed="11" result="n"/>
<feColorMatrix in="n" type="matrix" values="0.45 0 0 0 0.78  0.45 0 0 0 0.78  0.45 0 0 0 0.78  0 0 0 0 1" result="g"/>
<feGaussianBlur in="SourceGraphic" stdDeviation="0.45" result="b"/>
<feComposite in="b" in2="g" operator="arithmetic" k1="1" k2="0" k3="0" k4="0"/>
</filter>
<filter id="soft" x="-20%" y="-20%" width="140%" height="140%"><feGaussianBlur stdDeviation="2"/></filter>
<filter id="soft1" x="-20%" y="-20%" width="140%" height="140%"><feGaussianBlur stdDeviation="0.9"/></filter>
</defs>
<g clip-path="url(#mclip)"><g filter="url(#pencil)">
<rect x="38.2" y="79.9" width="117.8" height="89.5" fill="#eeeeee"/>
<g filter="url(#soft)">
<path d="M110 78 L158 78 L158 172 L132 172 C142 152 144 130 138 112 C132 98 122 86 110 78Z" fill="#bcbcbc"/>
<path d="M140 100 C149 116 151 142 148 172 L158 172 L158 94Z" fill="#a9a9a9"/>
<path d="M68 78 L136 78 L128 91 C114 84 92 84 76 92Z" fill="#c0c0c0"/>
<path d="M62 119 C60 108 64 100 70 97 C74 90 84 86 94 86 C108 85 120 90 125 99 C130 101 132 106 130.5 112 C133 124 128 136 120 143 C113 150 104 151 96 149 C84 150 72 142 66 132 C63 128 62 124 62 119Z" fill="#c2c2c2"/>
<path d="M70 118 C70 106 79 96 93 95 C108 94 120 102 122 114 C124 127 118 137 110 142 C102 147 90 147 82 141 C74 136 70 128 70 118Z" fill="#dadada"/>
<path d="M78 120 C78 110 85 103 94 103 C104 103 111 110 112 119 C113 131 106 140 96 141 C86 141 78 132 78 120Z" fill="#e8e8e8"/>
<path d="M76 146 C84 152 90 153 97 151 C106 153 116 150 122 145 L134 172 L70 172Z" fill="#eaeaea"/>
<path d="M101 152 C106 158 114 159 124 154 C120 163 110 167 102 172 L94 172 C97 163 99 157 101 152Z" fill="#c6c6c6"/>
</g>
<g filter="url(#soft1)" fill="none" stroke-linecap="round">
<path d="M64 121 C62 110 66 101 71 98" stroke="#858585" stroke-width="3.4" stroke-opacity="0.85"/>
<path d="M65 123 C67 133 71 139 77 144" stroke="#9a9a9a" stroke-width="2.4" stroke-opacity="0.7"/>
<path d="M96 87 C110 86 121 92 125 100 C129 102 131 107 129.5 113" stroke="#848484" stroke-width="3" stroke-opacity="0.85"/>
<path d="M72 96 C78 90 86 87.5 96 87" stroke="#a0a0a0" stroke-width="2" stroke-opacity="0.7"/>
<path d="M130 114 C132 126 127 137 120 144" stroke="#a2a2a2" stroke-width="2.2" stroke-opacity="0.6"/>
</g>
<g fill="none" stroke="#c2c2c2" stroke-width="0.7"><path d="M44 86 C52 96 58 104 60 116"/><path d="M48 84 C60 90 72 95 84 89"/><path d="M56 84 C60 92 66 96 72 96"/><path d="M42 128 C52 123 60 125 68 134"/><path d="M42 138 C56 134 66 140 76 148"/><path d="M46 162 C56 152 66 154 74 162"/><path d="M42 150 C50 146 58 148 64 155"/></g>
<path d="M117.5 128.7l3.8 1.3M118.5 130.8l2.8 1.6M93.7 95.4l-0.7 -2.9M69.9 128.1l-3.2 2.1M89.7 143.3l-0.5 3.7M128.9 117.3l2.7 -0.5M118.3 100.4l2.3 -2.2M125.5 122.2l2.9 -0.4M78.7 91.9l-1.3 -2.2M86.9 143.6l0.1 3.8M110.2 93.3l1.3 -3.5M68.4 129.2l-4.2 -0.2M111.7 97.2l1.7 -2.7M87.9 94.8l-1.6 -3.8M71.2 107.7l-2.9 -2.1M108.9 142.3l2.7 2.8M117.7 106.2l4.0 -1.0M124.4 111.1l2.0 -2.9M103.1 89.4l1.5 -1.5M117.1 128.4l1.3 2.2M113.9 133.8l0.6 3.2M125.3 111.0l2.5 -0.2M89.7 96.7l0.7 -3.6M70.9 102.5l-2.9 -2.2M72.8 109.4l-3.1 -1.1M68.0 120.1l-3.8 0.9M123.9 120.2l2.5 -0.4M75.7 132.6l-3.5 2.5M80.8 136.5l0.3 3.2M65.1 108.4l-3.0 1.6M125.8 107.6l3.0 -2.4M106.7 96.1l2.9 -1.3M93.9 143.1l-1.8 2.2M75.5 106.3l-2.8 -1.4M89.7 96.3l-0.9 -2.3M71.6 132.3l-1.7 2.3M118.8 107.5l1.9 -1.4M82.7 136.3l-2.5 2.2M114.9 134.5l2.4 2.7M120.0 117.0l3.3 0.1M123.2 125.6l2.4 0.5M122.1 107.1l2.0 -0.2M68.8 131.6l-2.5 0.6M75.0 130.0l-3.7 0.8M74.7 137.2l-2.0 2.5M71.9 114.7l-2.0 -2.4M65.9 105.1l-1.9 -0.5M99.6 89.9l0.9 -3.3M117.2 97.9l3.1 -1.3M83.0 96.4l-3.0 -2.2M102.2 92.4l0.9 -1.9M114.4 96.1l2.0 -3.0M77.3 138.7l-1.7 1.4M119.4 96.0l1.1 -2.0M117.0 101.9l2.1 -1.6M83.0 98.3l-1.9 -2.6M91.9 96.6l0.8 -3.9M69.8 127.2l-2.4 1.2M102.7 142.2l1.8 1.6M122.0 100.1l1.2 -2.0M70.1 131.1l-2.8 2.7M76.9 96.2l-1.7 -2.3M69.5 104.2l-0.9 -3.2M66.4 128.9l-2.2 1.0M115.8 92.8l1.7 -2.0M105.2 142.1l1.2 3.0M115.8 99.6l3.4 -2.2M119.5 103.5l3.5 -0.5M106.2 140.7l0.7 4.3M125.3 120.6l2.8 0.6M115.8 138.8l3.1 3.2M75.2 134.1l-0.8 4.0M118.8 125.9l2.5 3.3M79.1 93.4l-3.2 -1.6M72.1 110.5l-1.5 -2.0M125.8 118.8l3.2 -2.8M121.5 124.4l2.8 -0.5M66.8 130.1l-1.8 1.5M127.2 125.4l1.9 2.1M123.3 117.5l3.7 0.0M104.4 96.3l0.6 -2.9M126.9 122.2l2.9 -0.8M101.1 143.6l1.0 1.9M87.6 138.8l-2.4 3.0M120.7 101.4l1.8 -2.0M113.9 133.1l1.7 3.0M88.6 140.0l0.5 4.0M116.0 127.8l2.0 3.4M69.9 129.2l-3.8 0.7M127.8 109.9l2.6 1.7M92.0 143.1l-0.0 2.5M119.0 102.6l2.7 -3.0M113.7 102.4l2.5 -0.5M88.4 137.6l-1.1 1.9M118.9 119.6l4.3 0.9M79.2 133.3l-3.3 2.6M82.2 94.5l-0.7 -3.2M72.9 114.0l-1.8 -1.3M92.8 90.4l-0.0 -3.9M78.5 133.8l-1.8 2.3M108.1 98.0l2.1 -1.4M75.1 131.3l-3.4 2.8M100.7 138.7l-1.0 3.1M79.6 138.7l-3.1 2.0M97.4 143.9l-0.5 2.1M118.3 124.4l1.9 3.4M68.7 118.1l-2.5 0.4M109.1 143.4l1.6 2.3M93.3 144.7l-0.5 3.7M69.3 116.0l-3.2 1.1M67.6 103.2l-4.2 -1.2M79.3 131.4l-1.7 2.4M83.8 93.4l-0.6 -2.1M76.4 101.7l-3.3 -2.1M107.8 143.2l0.8 1.9M65.9 116.7l-3.4 0.5M91.3 144.2l-1.6 2.4M121.3 117.3l4.3 -0.5M65.6 107.3l-3.6 -1.1M81.9 99.5l-2.0 -2.5M118.5 96.5l2.8 -2.8M105.6 88.1l0.6 -2.9M108.4 135.4l0.7 3.7M77.0 104.1l-3.0 -2.2M120.8 108.1l2.7 -1.2M87.5 89.8l0.5 -2.2M119.5 124.8l3.2 2.1M119.0 114.4l2.7 1.3M69.8 116.3l-3.2 -2.3M113.0 137.4l1.7 1.6M71.3 112.6l-2.6 -3.1M108.2 141.3l0.5 2.6M120.4 116.9l2.3 0.4M126.9 117.7l2.1 0.4M123.4 111.6l4.3 -0.3M93.7 96.2l0.0 -3.6M127.4 118.9l2.2 1.7M65.7 111.7l-3.2 -1.6M64.8 121.6l-3.9 -1.1M68.9 116.0l-3.4 -1.3M68.7 127.0l-1.5 2.3M120.4 134.6l2.0 3.7M88.2 91.5l-0.6 -2.0M66.6 121.5l-0.5 2.2M125.1 109.9l3.1 -1.1M99.5 142.3l0.1 2.2M90.6 138.6l-0.0 3.0M121.7 120.8l2.2 3.9M73.9 126.9l-2.2 0.6M78.1 93.4l-2.4 -2.0M107.9 90.2l2.0 -2.0M111.3 139.2l0.6 2.0M110.2 138.6l1.3 2.1M72.2 128.7l-2.5 2.3M119.4 129.0l3.6 0.8M89.0 89.4l-1.3 -1.6M90.0 142.8l-1.9 2.6M118.8 127.5l0.6 2.3M85.6 95.5l-1.9 -3.7M122.3 119.7l3.6 -0.4M72.1 115.8l-3.5 0.2M106.7 95.4l0.7 -2.1M111.3 91.1l2.1 -1.3M112.6 98.7l1.6 -1.4M73.3 125.8l-2.3 0.8M112.4 102.4l1.3 -4.1M93.9 91.5l-1.4 -4.1M95.1 142.5l-1.9 2.7M88.0 137.2l-0.6 3.2M114.0 98.7l2.2 -3.8M86.0 136.7l-0.6 4.1M76.6 92.8l-2.0 -2.5M119.6 127.9l1.2 4.1M110.8 132.9l0.3 3.2M64.8 111.1l-3.7 -0.5M73.7 101.6l-2.2 -0.3M80.7 99.2l-1.7 -2.5M75.7 103.5l-2.2 -1.5M80.2 93.4l-1.3 -1.9M113.2 138.4l2.6 0.8M93.0 143.8l1.2 3.4M90.5 87.7l-0.6 -3.4M82.0 141.7l-1.0 2.7M117.7 135.1l2.8 0.9M119.7 127.4l3.4 1.9M70.7 122.6l-2.0 1.0M117.9 97.3l2.5 -1.2M104.5 89.7l0.3 -2.1M120.5 110.7l3.8 -1.2M112.2 101.6l3.0 -3.1M98.2 144.5l1.2 1.6M69.9 131.2l-3.0 2.6M113.4 102.4l2.1 -1.2M95.4 143.9l1.4 2.0M98.4 87.1l-0.3 -3.0M70.0 104.4l-4.3 -0.3M72.2 125.9l-3.4 1.7M119.1 127.2l2.4 -0.4M78.3 132.0l-2.9 1.7M79.0 141.2l-1.8 1.3M88.5 91.8l-0.3 -3.9M64.9 115.0l-3.6 -0.4M62.9 116.4l-2.8 0.7M67.1 121.3l-2.1 0.1M121.8 122.8l3.1 -0.0M69.9 105.5l-1.2 -1.7M94.0 92.4l-1.4 -3.8M69.1 105.5l-4.0 -2.0M113.2 131.6l1.7 1.8M120.0 115.3l3.2 -0.1M71.2 120.7l-2.4 1.4M86.3 140.6l0.0 3.0M119.1 95.6l0.8 -3.3M118.1 103.9l2.5 -1.6M122.9 105.2l2.7 0.1M72.5 128.3l-2.7 2.5M126.4 124.7l4.1 -0.7M127.5 113.0l3.1 -2.3M67.1 126.1l-2.7 2.0M98.3 92.5l0.7 -2.5M116.9 131.6l1.0 1.8M113.0 135.1l2.6 1.0M79.0 141.8l-0.2 2.5M70.3 135.9l-1.8 2.2M108.1 97.8l2.0 -3.3M101.2 140.2l-1.0 3.3M113.0 97.0l3.0 -1.6M114.2 141.6l1.0 4.0M75.1 96.9l-0.8 -3.5M119.0 125.6l2.2 -0.3M93.7 90.9l-1.8 -3.9M73.4 123.8l-4.3 1.1M128.2 113.3l1.8 1.3M65.6 119.2l-2.1 -0.3M75.7 101.5l-2.1 -1.1M120.9 124.1l2.1 -0.0M96.1 143.6l1.0 3.6M70.2 131.9l-3.2 1.8M102.0 87.4l-1.2 -3.0M77.0 99.9l-2.7 -1.6M83.1 144.2l-2.0 2.2M82.1 92.6l-0.8 -3.8M66.7 129.1l-2.2 1.0M86.4 138.1l-1.2 4.3M117.2 99.8l2.5 -0.2M99.0 91.0l1.7 -1.8M93.6 94.7l0.2 -3.5M72.0 112.7l-4.1 -0.1M85.1 92.2l1.0 -2.6M70.2 134.8l-2.9 1.2M70.0 122.4l-3.3 2.9M113.5 103.7l2.1 -1.1M94.4 90.6l0.3 -3.0M109.5 97.9l-1.6 -3.6M85.0 90.3l-2.0 -2.3M97.5 140.0l0.8 2.1M79.6 97.8l-3.0 -3.2M101.2 89.0l0.5 -2.7M117.5 123.7l2.2 -0.2M92.7 96.3l0.3 -2.9M112.2 95.6l2.2 -1.3M64.9 115.8l-3.1 2.7M105.9 136.3l0.7 2.0M72.5 112.3l-2.9 -2.1M102.9 92.0l0.8 -3.8M67.1 104.6l-2.0 -0.1M68.2 100.5l-1.4 -2.3M84.4 92.8l-0.5 -3.5M111.8 140.5l1.4 2.8M121.8 109.0l2.8 -0.6M124.7 106.8l4.2 -0.3M69.8 119.3l-2.0 -0.7M102.2 144.1l1.5 3.2M86.6 95.6l-1.1 -2.7M64.3 110.2l-2.8 -2.2M91.5 142.9l-0.7 2.1M121.7 99.0l2.3 -2.5M81.9 140.0l-1.9 2.5M125.2 108.9l2.3 0.1M83.9 89.0l0.3 -3.5M91.5 139.6l-0.9 4.4M66.4 125.9l-3.6 0.5M70.7 102.6l-4.2 -1.2M93.2 87.1l-0.2 -2.1M78.0 137.4l-2.7 1.6M105.4 139.0l1.1 1.9M77.0 105.1l-3.5 -2.6M122.6 131.5l1.9 1.3M101.4 138.7l0.6 3.3M117.3 128.4l2.1 2.5M75.3 139.1l-2.6 2.1M98.0 94.6l0.9 -3.2M63.2 112.4l-2.2 -0.0M66.9 103.8l-3.4 0.0M82.2 144.5l-1.5 2.1M79.9 141.7l-0.5 2.0M123.3 104.0l2.8 -1.5M119.1 109.3l1.8 -1.7M80.4 91.2l-0.9 -2.1M98.6 94.5l1.3 -3.0M126.6 127.3l2.3 0.5M87.9 92.6l-0.8 -3.9M118.6 131.1l4.2 1.4M109.0 143.7l0.5 2.2M127.7 116.1l2.0 1.2M66.4 120.0l-3.9 -1.2M71.6 128.2l-2.7 0.6M69.9 111.0l-3.5 -1.9M71.3 100.1l-1.9 -2.2M126.9 117.3l3.9 -1.1M120.9 120.5l4.3 -0.6M66.3 129.8l-4.0 1.9M90.4 88.9l-0.1 -4.1M96.3 95.8l-0.6 -2.7M77.5 97.4l0.5 -4.4M112.0 131.8l1.7 1.9M77.2 101.8l-2.8 -1.9M84.8 135.0l-1.1 3.6M120.3 129.5l1.5 1.8M93.1 90.6l-0.2 -2.8M95.4 144.0l0.1 2.7M70.2 105.0l-4.1 -0.7M120.7 114.1l4.3 -1.3M109.4 133.6l1.1 2.4M75.3 94.7l-1.7 -3.7M118.1 96.1l4.0 -2.0M67.8 125.7l-2.3 1.4M90.3 141.5l0.2 2.4M122.1 99.1l1.0 -2.3M123.2 101.8l2.2 -0.5M125.4 126.9l3.5 2.1M106.4 94.2l1.7 -2.4M67.0 130.9l-3.1 0.3M121.0 113.4l2.8 0.4M121.1 105.6l2.8 -1.4M117.0 105.1l1.9 -1.3M123.2 110.1l3.6 -1.2M72.7 118.3l-2.3 -0.5M68.1 111.1l-2.9 -1.1M117.6 128.4l2.2 1.1M102.1 95.4l1.8 -3.8M104.0 138.9l1.0 3.8M73.0 127.3l-3.1 1.2M116.1 129.1l2.9 3.3M124.6 102.6l3.0 -1.8M73.5 128.3l-3.9 0.8M93.5 142.1l0.0 3.0M120.3 100.6l3.4 -2.5M94.0 140.9l-0.7 3.4M116.5 130.4l1.8 1.3M116.5 131.1l2.2 2.2M104.6 94.9l2.8 -1.1M123.8 119.9l2.3 0.2M118.4 99.3l3.1 -0.7M123.6 109.8l3.0 -0.8M125.2 108.0l1.9 -1.2M96.7 146.9l-0.0 2.8M116.7 103.0l1.5 -1.8M110.1 138.2l1.1 2.4M114.5 102.9l1.6 -1.4" stroke="#5c5c5c" stroke-width="0.42" stroke-opacity="0.5" fill="none"/>
<path d="M84.9 102.4l-0.9 -2.0M92.7 130.0l0.1 2.8M102.8 101.6l1.5 -2.0M100.2 129.4l2.8 2.4M112.9 108.8l1.9 -2.2M112.2 115.0l3.6 0.2M112.3 125.3l2.4 2.4M107.7 122.6l2.9 1.1M83.0 112.3l-3.3 -0.6M111.4 120.5l3.5 1.0M77.0 123.8l-3.3 0.7M89.9 126.9l-0.7 2.9M103.0 103.3l-0.1 -3.0M92.8 129.9l-0.6 2.6M77.4 124.3l-2.2 1.4M77.8 112.5l-3.5 -2.0M85.9 125.1l-2.2 0.7M111.1 119.5l3.8 0.6M90.9 109.2l-1.2 -3.3M77.8 108.7l-2.0 -2.4M113.8 121.0l2.5 0.9M84.1 119.5l-2.9 -0.6M89.1 110.5l-1.9 -2.4M103.9 120.5l3.2 1.7M95.1 106.1l-0.2 -3.1M106.6 129.5l3.0 2.1M104.0 119.9l3.5 0.0M93.9 139.0l-0.3 2.9M99.1 127.8l3.0 2.4M85.8 122.0l-2.5 0.5M103.0 107.0l0.4 -2.5M89.6 130.0l-2.0 1.1M103.2 106.2l1.0 -3.5M90.7 108.8l-1.6 -2.5M89.4 136.2l-0.7 2.3M82.2 133.9l-2.0 1.4M91.9 106.9l0.8 -3.4M85.0 130.8l-0.9 1.8M83.5 130.5l-1.3 2.0M74.1 119.2l-3.8 -0.9M100.9 130.0l2.6 1.7M110.1 106.6l2.4 -2.6M84.1 113.7l-2.7 -1.6M109.1 128.3l1.6 2.3M104.0 117.2l2.9 -2.6M114.5 119.0l2.5 -2.4M87.0 100.4l-0.7 -2.0M108.5 133.0l2.1 0.7M110.8 129.6l2.4 0.3M109.1 122.2l2.0 1.0M101.5 133.3l-0.6 2.4M105.6 106.7l1.4 -1.5M85.2 110.8l-1.3 -1.7M84.9 132.0l-2.8 1.0M102.2 129.4l1.4 3.5M104.0 123.4l2.7 1.6M90.6 130.9l-0.5 2.8M101.7 108.3l1.5 -1.8M96.8 129.5l1.5 1.3M86.6 104.8l-0.9 -2.0M111.1 125.5l3.0 2.1M102.7 138.2l0.6 2.0M82.5 108.1l-1.9 -1.5M78.0 130.9l-3.9 0.6M103.4 108.1l1.9 -1.7M111.7 124.9l3.4 0.4M94.2 98.3l1.0 -2.0M83.9 115.0l-3.2 -1.4M85.3 131.6l-1.2 2.1M99.4 131.6l0.6 3.5M84.9 101.9l-0.2 -3.5M89.9 109.8l-1.7 -1.3M96.4 98.2l-0.8 -2.3M99.7 109.1l1.2 -2.8M94.8 105.7l-0.9 -2.6M89.8 136.8l-0.5 3.2M82.0 113.2l-3.3 -2.0M111.9 125.7l3.0 1.2M110.0 131.8l2.5 2.1M105.1 116.5l2.8 -0.3M90.8 139.6l0.1 2.8M105.0 107.2l0.8 -3.6M105.2 124.3l2.2 0.2M104.4 121.9l2.2 0.4M88.4 138.8l-1.3 3.0M92.9 99.3l-0.2 -3.9M96.0 128.9l1.3 3.7M112.6 116.9l3.4 -1.4M103.5 113.8l2.9 -2.2M104.2 116.0l2.3 0.1M99.7 128.2l0.8 2.6M79.3 110.5l-1.6 -2.5M95.2 133.6l-0.7 3.2M74.4 116.1l-2.6 1.0M93.8 108.8l-2.0 -3.1M107.5 130.3l1.7 2.2M97.3 129.4l1.9 3.3M94.1 107.9l-0.5 -3.4M85.8 118.5l-3.7 0.8M91.4 109.2l-0.7 -2.3M90.2 103.4l-1.0 -2.6M110.8 108.6l3.5 -0.8M76.1 125.1l-2.3 1.1M98.1 133.0l0.6 2.4M106.0 111.5l2.7 -2.3M107.8 106.6l1.8 -1.6M93.5 133.6l-0.1 2.1M107.4 111.5l2.5 -1.7M111.5 122.3l3.4 -0.8M101.1 105.2l0.9 -2.9M105.7 123.0l2.4 0.4M80.4 104.8l-2.1 -1.2M88.5 106.0l-1.9 -2.8M94.1 106.8l-1.0 -2.9M98.3 139.3l0.2 2.2M113.4 115.6l2.9 0.3M80.9 103.7l-3.0 -1.6M85.5 116.2l-2.9 1.0M76.5 120.7l-2.0 0.6M106.8 124.0l2.6 0.9M87.9 134.6l-2.0 2.2M87.3 124.1l-2.2 0.7M103.4 132.1l1.0 2.0M104.7 102.7l0.5 -3.5M102.0 111.2l1.7 -1.2M109.4 116.5l3.1 -0.5M78.0 112.7l-3.1 -0.1M86.4 129.8l-1.0 2.0M92.4 110.2l-1.6 -2.0M98.0 107.2l0.7 -2.0M86.3 103.0l-0.7 -3.3M104.5 123.6l3.2 2.0M81.9 107.4l-2.1 -2.2M82.0 112.3l-2.5 -0.5M86.5 114.8l-2.7 -0.3M83.9 118.9l-2.7 1.1M101.4 129.1l2.7 1.6M109.6 111.3l0.9 -3.0M110.1 116.9l2.9 0.6M83.0 133.6l-1.7 1.6" stroke="#8a8a8a" stroke-width="0.4" stroke-opacity="0.4" fill="none"/>
<path d="M96.9 156.1l2.3 3.9M81.2 147.4l0.1 6.6M136.3 132.2l-2.8 3.9M143.1 123.8l-3.1 5.3M132.4 121.1l-0.3 3.2M79.5 164.4l0.2 6.4M86.8 162.9l-1.3 6.8M85.0 149.2l0.6 4.0M80.0 150.3l0.7 4.4M152.4 159.2l-3.1 5.8M104.3 150.4l-0.0 4.2M94.8 154.4l-0.0 3.3M108.4 146.5l-4.4 4.6M93.7 161.4l-1.2 6.8M97.0 158.2l-1.6 5.6M105.6 151.2l-1.1 4.5M142.1 129.5l-2.2 4.7M145.9 127.2l-2.3 4.2M119.1 152.2l-0.6 3.8M99.9 156.4l0.9 3.1M143.4 95.2l-1.8 4.0M117.7 154.4l0.0 4.6M131.2 165.7l-1.9 3.6M130.7 102.1l-3.0 2.4M87.7 153.2l1.3 4.5M139.2 97.4l-0.9 3.2M80.9 156.3l0.8 6.2M142.0 123.3l0.2 5.5M132.7 165.8l-0.3 4.0M135.4 156.6l-2.5 2.0M115.2 153.1l0.1 4.0M75.3 160.1l-2.3 2.1M77.0 148.9l2.4 4.1M77.7 165.5l1.8 6.5M130.3 91.1l-1.8 3.6M109.9 153.3l-0.9 3.2M107.3 151.4l-3.2 3.4M95.2 165.1l4.1 3.2M111.5 157.6l-5.3 4.5M130.2 106.3l-3.1 3.2M136.9 88.6l-2.2 5.1M138.6 94.0l-2.4 2.1M118.1 165.2l-2.1 3.2M141.5 141.0l-1.3 5.2M127.4 165.7l-0.4 6.5M101.3 158.4l-0.9 3.9M125.9 149.5l-1.1 6.1M150.0 126.5l-1.9 3.0M86.2 160.9l-0.1 3.0M126.8 149.8l-2.4 4.9M117.3 146.4l1.8 5.1M77.1 163.3l2.5 5.9M82.0 152.2l-1.1 3.6M84.5 156.8l-1.2 6.1M137.5 116.2l-1.5 4.0M102.2 158.3l0.8 3.5M136.9 155.6l-2.4 6.3M119.0 151.9l-0.1 3.2M84.6 157.1l0.2 3.7M138.0 160.6l-2.3 5.3M95.6 147.4l0.1 5.7M143.6 145.8l-1.0 5.8M95.6 165.1l0.5 4.2M141.7 122.6l-1.5 2.7M148.7 151.8l0.4 6.0M125.9 155.1l-0.2 4.6M93.6 157.5l-0.4 3.3M75.9 147.4l1.4 3.0M87.8 149.0l-1.2 6.4M77.8 149.5l1.1 6.2M97.8 146.3l-1.5 4.2M96.6 165.3l0.9 6.2M120.4 162.9l2.0 6.2M106.4 151.5l-2.3 4.6M89.0 162.2l-0.4 3.5M145.5 134.8l-1.0 3.1M86.9 149.5l-1.2 3.2M148.0 140.3l-3.7 4.6M103.2 159.3l-0.7 3.9M84.2 158.8l0.2 6.8M85.3 150.6l1.3 5.3M104.0 146.0l0.9 3.4M120.8 160.7l-3.1 5.4M91.6 162.7l0.8 3.7M93.6 151.6l-0.9 4.5M87.5 150.2l1.2 5.3M151.5 94.9l-3.2 3.8M110.4 156.3l-1.1 5.3M111.5 151.4l3.6 4.4M99.5 158.1l1.4 4.3M133.4 134.8l-2.6 3.4M145.5 139.6l-3.3 4.8M149.0 142.6l-3.3 5.6M126.2 154.4l1.3 4.4M90.8 161.2l2.5 6.3M120.4 151.5l1.1 5.4M146.5 138.1l-2.8 3.8M99.0 146.3l0.1 3.0M133.9 124.7l-1.2 3.0M129.4 160.8l1.3 4.3M76.5 154.9l-3.9 4.0M148.8 142.9l-3.5 3.2M146.7 107.3l-2.5 5.7M146.7 95.3l-2.2 4.7M149.8 155.7l-3.3 3.6M145.0 159.9l-3.9 2.0M81.2 148.8l2.7 4.7M141.5 89.3l-1.8 2.7M151.4 131.0l-1.8 3.7M128.9 147.3l1.7 5.0M134.3 88.8l-1.9 3.5M111.6 155.4l-1.6 3.2M91.8 163.0l-0.6 6.2M105.3 162.1l1.9 3.3M104.3 151.9l-1.0 3.7M109.4 160.2l-1.6 3.5M128.9 164.1l1.1 3.9M141.2 119.5l0.0 4.5M85.4 155.8l-1.0 6.0M132.2 146.8l-1.6 3.2M126.4 150.9l-1.1 2.9M119.1 164.0l-0.6 5.7M75.5 165.7l0.7 4.6M133.8 153.3l-1.9 4.1M151.5 155.7l-1.5 2.9M119.1 157.7l-3.7 3.6M150.1 161.5l-2.7 5.8M116.8 150.2l-1.3 5.1M76.6 159.3l-2.1 4.2M128.1 150.0l-0.1 3.2M104.9 159.0l0.5 4.9M95.2 148.3l-2.6 4.7M112.2 147.1l-2.3 4.2M102.5 162.8l0.9 3.8M105.5 148.1l-0.6 4.0M117.3 163.0l-0.6 6.0M77.5 158.2l-1.7 5.9M110.9 154.9l1.2 4.8M114.7 151.4l-1.8 4.9M98.1 148.1l-1.3 5.9M130.6 121.9l-3.0 4.5M141.5 144.0l-1.9 4.4M121.6 156.6l-0.7 2.9M148.1 105.3l-3.0 3.4M83.6 159.1l-1.3 5.1M81.7 153.5l0.1 5.6M117.7 154.5l-2.1 4.7M133.4 140.0l-1.0 3.0M135.1 109.0l-1.7 4.8M143.2 100.6l-2.7 2.9M93.3 162.7l2.8 6.2M135.1 109.1l-0.6 5.2M126.3 165.1l-2.5 6.1M107.7 147.1l1.5 2.8M88.1 153.1l-2.6 5.3M106.7 148.3l-1.8 5.9M87.1 152.0l1.2 5.2M97.6 151.9l2.8 3.4M102.5 159.6l2.6 3.5M79.3 153.2l0.2 6.9M105.0 146.7l-0.6 4.9M92.2 149.9l-0.2 4.3M88.7 146.1l0.1 4.9M139.8 123.7l-3.9 5.3M141.4 91.1l-2.4 3.9M138.8 144.6l1.1 5.0M90.8 150.1l0.0 5.2M145.6 119.5l-4.5 3.9M127.9 159.2l-3.3 3.7M123.5 160.1l-4.0 4.9" stroke="#777" stroke-width="0.4" stroke-opacity="0.45" fill="none"/>
<g filter="url(#soft1)" opacity="0.6"><ellipse cx="87.6" cy="116.4" rx="5.2" ry="3.2" fill="#a8a8a8"/><ellipse cx="102" cy="116.2" rx="5.2" ry="3.2" fill="#a8a8a8"/><ellipse cx="94.6" cy="126.6" rx="6" ry="4.6" fill="#bcbcbc"/><ellipse cx="94.8" cy="134.8" rx="8.5" ry="2.6" fill="#a4a4a4"/></g>
<g fill="#7e7e7e"><ellipse cx="87.6" cy="116.7" rx="2.9" ry="1.5" /><ellipse cx="102" cy="116.4" rx="2.9" ry="1.5"/></g>
<g fill="#5e5e5e"><ellipse cx="88" cy="116.7" rx="1.1" ry="0.95" /><ellipse cx="101.6" cy="116.4" rx="1.1" ry="0.95"/></g>
<g fill="none" stroke="#8a8a8a" stroke-width="0.7"><path d="M83 115c2.6-2.3 6.6-2.3 9.4 0"/><path d="M97.4 114.7c2.6-2.3 6.6-2.3 9.4 0"/><path d="M84 119c3 1.3 6 1.3 8.2 0M98.4 118.8c3 1.3 6 1.3 8.2 0"/><path d="M81.5 112.2 C88 110 101 110 108.5 112" stroke-opacity="0.55"/></g>
<g fill="#707070"><ellipse cx="91.2" cy="127.6" rx="1.1" ry="0.9"/><ellipse cx="98" cy="127.6" rx="1.1" ry="0.9"/></g>
<path d="M89.6 126.5 C90.5 123.5 92.5 122.5 94.6 123.2 C96.7 122.5 98.8 123.5 99.7 126.5" fill="none" stroke="#a2a2a2" stroke-width="0.7"/>
<path d="M87 134.6 C90 135.4 99 135.4 102.6 134.4" fill="none" stroke="#727272" stroke-width="0.9"/>
<path d="M89.5 135.8h10.8" stroke="#8a8a8a" stroke-width="1.3" stroke-dasharray="1.2 1.3"/>
<path d="M86 137.5 C90 139.5 99 139.5 103.5 137.3" fill="none" stroke="#a0a0a0" stroke-width="0.7"/>
</g></g>
<rect x="25.4" y="75.3" width="262.2" height="238.2" fill="none" stroke="#262626" stroke-width="1.05"/>
<g stroke="#333" stroke-width="1.25">
<line x1="36.9" y1="313.5" x2="36.9" y2="317.7"/>
<line x1="96.7" y1="313.5" x2="96.7" y2="317.7"/>
<line x1="156.4" y1="313.5" x2="156.4" y2="317.7"/>
<line x1="216.2" y1="313.5" x2="216.2" y2="317.7"/>
<line x1="275.9" y1="313.5" x2="275.9" y2="317.7"/>
<line x1="21.0" y1="303.2" x2="25.4" y2="303.2"/>
<line x1="21.0" y1="237.0" x2="25.4" y2="237.0"/>
<line x1="21.0" y1="170.8" x2="25.4" y2="170.8"/>
<line x1="21.0" y1="104.6" x2="25.4" y2="104.6"/>
</g>
<text x="36.9" y="328.1" font-size="9.8" text-anchor="middle" >0.00</text>
<text x="96.7" y="328.1" font-size="9.8" text-anchor="middle" >0.25</text>
<text x="156.4" y="328.1" font-size="9.8" text-anchor="middle" >0.50</text>
<text x="216.2" y="328.1" font-size="9.8" text-anchor="middle" >0.75</text>
<text x="275.9" y="328.1" font-size="9.8" text-anchor="middle" >1.00</text>
<text x="18.3" y="306.7" font-size="9.8" text-anchor="end" >0</text>
<text x="18.3" y="240.5" font-size="9.8" text-anchor="end" >2</text>
<text x="18.3" y="174.3" font-size="9.8" text-anchor="end" >4</text>
<text x="18.3" y="108.1" font-size="9.8" text-anchor="end" >6</text>
<text x="156.5" y="340.1" font-size="9.65" text-anchor="middle" >proportion of time social</text>
<text transform="translate(6.8,194.1) rotate(-90)" font-size="9.65" text-anchor="middle">average number of partners</text>
<text x="24.6" y="9.8" font-size="13.5">a)<tspan font-size="9.5" dx="2.9">Sociality</tspan></text>
<g fill="#454545" stroke="#171717" stroke-width="1.15">
<rect x="36.90" y="67.9" width="8.74" height="5.0"/>
<rect x="45.14" y="71.6" width="8.24" height="1.3"/>
<rect x="53.38" y="70.4" width="8.24" height="2.5"/>
<rect x="61.62" y="67.9" width="8.24" height="5.0"/>
<rect x="69.87" y="64.1" width="8.24" height="8.8"/>
<rect x="78.11" y="61.6" width="8.24" height="11.3"/>
<rect x="86.35" y="62.4" width="8.24" height="10.5"/>
<rect x="94.59" y="56.6" width="8.24" height="16.3"/>
<rect x="102.83" y="52.8" width="8.24" height="20.1"/>
<rect x="111.07" y="47.8" width="8.24" height="25.1"/>
<rect x="119.31" y="45.3" width="8.24" height="27.6"/>
<rect x="127.56" y="41.0" width="8.24" height="31.9"/>
<rect x="135.80" y="37.0" width="8.24" height="35.9"/>
<rect x="144.04" y="38.3" width="8.24" height="34.6"/>
<rect x="152.28" y="29.2" width="8.24" height="43.7"/>
<rect x="160.52" y="35.2" width="8.24" height="37.7"/>
<rect x="168.76" y="32.7" width="8.24" height="40.2"/>
<rect x="177.00" y="31.7" width="8.24" height="41.2"/>
<rect x="185.24" y="37.8" width="8.24" height="35.1"/>
<rect x="193.49" y="36.5" width="8.24" height="36.4"/>
<rect x="201.73" y="41.5" width="8.24" height="31.4"/>
<rect x="209.97" y="47.0" width="8.24" height="25.9"/>
<rect x="218.21" y="52.3" width="8.24" height="20.6"/>
<rect x="226.45" y="53.3" width="8.24" height="19.6"/>
<rect x="234.69" y="57.8" width="8.24" height="15.1"/>
<rect x="242.93" y="64.9" width="8.24" height="8.0"/>
<rect x="251.18" y="67.1" width="8.24" height="5.8"/>
<rect x="259.42" y="70.4" width="8.24" height="2.5"/>
<rect x="267.66" y="66.1" width="8.24" height="6.8"/>
</g>
<g fill="#454545" stroke="#171717" stroke-width="1.15">
<rect x="290.3" y="296.21" width="10.10" height="7.285"/>
<rect x="290.3" y="288.93" width="27.10" height="7.285"/>
<rect x="290.3" y="281.64" width="42.50" height="7.285"/>
<rect x="290.3" y="274.36" width="48.00" height="7.285"/>
<rect x="290.3" y="267.07" width="41.20" height="7.285"/>
<rect x="290.3" y="259.79" width="32.80" height="7.285"/>
<rect x="290.3" y="252.50" width="24.00" height="7.285"/>
<rect x="290.3" y="245.22" width="15.60" height="7.285"/>
<rect x="290.3" y="237.94" width="10.90" height="7.285"/>
<rect x="290.3" y="230.65" width="6.20" height="7.285"/>
<rect x="290.3" y="223.37" width="4.10" height="7.285"/>
<rect x="290.3" y="216.08" width="3.00" height="7.285"/>
<rect x="290.3" y="208.80" width="2.20" height="7.285"/>
<rect x="290.3" y="201.51" width="1.60" height="7.285"/>
<rect x="290.3" y="194.22" width="1.20" height="7.285"/>
<rect x="290.3" y="186.94" width="0.90" height="7.285"/>
<rect x="290.3" y="179.66" width="0.60" height="7.285"/>
<rect x="290.3" y="172.37" width="0.40" height="7.285"/>
<rect x="290.3" y="165.09" width="0.30" height="7.285"/>
<rect x="290.3" y="157.80" width="0.20" height="7.285"/>
<rect x="290.3" y="150.51" width="0.10" height="7.285"/>
<rect x="290.3" y="143.23" width="0.10" height="7.285"/>
<rect x="290.3" y="135.94" width="0.05" height="7.285"/>
<rect x="290.3" y="128.66" width="0.05" height="7.285"/>
<rect x="290.3" y="121.38" width="0.01" height="7.285"/>
<rect x="290.3" y="114.09" width="0.01" height="7.285"/>
<rect x="290.3" y="106.81" width="0.05" height="7.285"/>
<rect x="290.3" y="99.52" width="0.01" height="7.285"/>
<rect x="290.3" y="92.23" width="0.01" height="7.285"/>
<rect x="290.3" y="84.95" width="0.05" height="7.285"/>
</g>
</g>
<g id="pb">
<rect x="392.09" y="79.61" width="12.20" height="0.99" fill="#f2f2f2" stroke="#333" stroke-width="0.85"/>
<rect x="405.98" y="49.05" width="12.20" height="31.55" fill="#f2f2f2" stroke="#333" stroke-width="0.85"/>
<rect x="419.87" y="29.33" width="12.20" height="51.27" fill="#f2f2f2" stroke="#333" stroke-width="0.85"/>
<rect x="433.76" y="43.13" width="12.20" height="37.47" fill="#f2f2f2" stroke="#333" stroke-width="0.85"/>
<rect x="447.65" y="62.85" width="12.20" height="17.75" fill="#cacaca" stroke="#333" stroke-width="0.85"/>
<rect x="461.54" y="48.06" width="12.20" height="32.54" fill="#cacaca" stroke="#333" stroke-width="0.85"/>
<rect x="475.43" y="45.10" width="12.20" height="35.50" fill="#cacaca" stroke="#333" stroke-width="0.85"/>
<rect x="489.32" y="61.87" width="12.20" height="18.73" fill="#cacaca" stroke="#333" stroke-width="0.85"/>
<rect x="503.21" y="58.91" width="12.20" height="21.69" fill="#cacaca" stroke="#333" stroke-width="0.85"/>
<rect x="517.10" y="45.10" width="12.20" height="35.50" fill="#919195" stroke="#333" stroke-width="0.85"/>
<rect x="530.99" y="60.88" width="12.20" height="19.72" fill="#919195" stroke="#333" stroke-width="0.85"/>
<rect x="544.88" y="71.73" width="12.20" height="8.87" fill="#919195" stroke="#333" stroke-width="0.85"/>
<rect x="558.77" y="70.74" width="12.20" height="9.86" fill="#919195" stroke="#333" stroke-width="0.85"/>
<rect x="572.66" y="63.84" width="12.20" height="16.76" fill="#919195" stroke="#333" stroke-width="0.85"/>
<rect x="586.55" y="70.74" width="12.20" height="9.86" fill="#919195" stroke="#333" stroke-width="0.85"/>
<rect x="600.44" y="78.63" width="12.20" height="1.97" fill="#919195" stroke="#333" stroke-width="0.85"/>
<rect x="614.33" y="74.68" width="12.20" height="5.92" fill="#919195" stroke="#333" stroke-width="0.85"/>
<rect x="628.22" y="78.63" width="12.20" height="1.97" fill="#919195" stroke="#333" stroke-width="0.85"/>
<rect x="642.11" y="71.73" width="12.20" height="8.87" fill="#919195" stroke="#333" stroke-width="0.85"/>
<rect x="656.00" y="76.66" width="12.20" height="3.94" fill="#919195" stroke="#333" stroke-width="0.85"/>
<path d="M378.4 26.9V82.95H682.7" fill="none" stroke="#222" stroke-width="1.5"/>
<g stroke="#222" stroke-width="1.2">
<line x1="374.2" y1="80.6" x2="378.4" y2="80.6"/>
<line x1="374.2" y1="70.7" x2="378.4" y2="70.7"/>
<line x1="374.2" y1="60.9" x2="378.4" y2="60.9"/>
<line x1="374.2" y1="51.0" x2="378.4" y2="51.0"/>
<line x1="374.2" y1="41.2" x2="378.4" y2="41.2"/>
<line x1="374.2" y1="31.3" x2="378.4" y2="31.3"/>
<line x1="384.3" y1="82.9" x2="384.3" y2="86.9"/>
<line x1="453.8" y1="82.9" x2="453.8" y2="86.9"/>
<line x1="523.2" y1="82.9" x2="523.2" y2="86.9"/>
<line x1="592.7" y1="82.9" x2="592.7" y2="86.9"/>
<line x1="662.1" y1="82.9" x2="662.1" y2="86.9"/>
</g>
<text x="371.3" y="84.1" font-size="9.8" text-anchor="end" >0</text>
<text x="371.3" y="74.2" font-size="9.8" text-anchor="end" >10</text>
<text x="371.3" y="64.4" font-size="9.8" text-anchor="end" >20</text>
<text x="371.3" y="54.5" font-size="9.8" text-anchor="end" >30</text>
<text x="371.3" y="44.7" font-size="9.8" text-anchor="end" >40</text>
<text x="371.3" y="34.8" font-size="9.8" text-anchor="end" >50</text>
<text x="384.3" y="96.9" font-size="9.8" text-anchor="middle" >0</text>
<text x="453.8" y="96.9" font-size="9.8" text-anchor="middle" >5</text>
<text x="523.2" y="96.9" font-size="9.8" text-anchor="middle" >10</text>
<text x="592.7" y="96.9" font-size="9.8" text-anchor="middle" >15</text>
<text x="662.1" y="96.9" font-size="9.8" text-anchor="middle" >20</text>
<text x="530.5" y="110.1" font-size="9.6" text-anchor="middle" >years per subject</text>
<text transform="translate(354.6,54.4) rotate(-90)" font-size="9.5" text-anchor="middle">count</text>
<text x="378.2" y="16.8" font-size="13.5">b)<tspan font-size="9.6" dx="1.8">Sampling</tspan></text>
<text x="638.2" y="19.6" font-size="9.1" text-anchor="start" >Years</text>
<rect x="638.2" y="25.90" width="7.6" height="8.95" fill="#f2f2f2" stroke="#333" stroke-width="0.9"/>
<text x="651" y="33.6" font-size="9" text-anchor="start" >1–4</text>
<rect x="638.2" y="34.85" width="7.6" height="8.95" fill="#cacaca" stroke="#333" stroke-width="0.9"/>
<text x="651" y="42.5" font-size="9" text-anchor="start" >5–9</text>
<rect x="638.2" y="43.80" width="7.6" height="8.95" fill="#919195" stroke="#333" stroke-width="0.9"/>
<text x="651" y="51.5" font-size="9" text-anchor="start" >10+</text>
</g>
<g id="pc">
<rect x="397.30" y="195.80" width="5.34" height="1.40" fill="#cacaca" stroke="#333" stroke-width="0.95"/>
<rect x="403.23" y="194.60" width="5.34" height="2.60" fill="#cacaca" stroke="#333" stroke-width="0.95"/>
<rect x="409.16" y="194.60" width="5.34" height="2.60" fill="#cacaca" stroke="#333" stroke-width="0.95"/>
<rect x="415.09" y="195.60" width="5.34" height="1.60" fill="#cacaca" stroke="#333" stroke-width="0.95"/>
<rect x="421.02" y="193.70" width="5.34" height="3.50" fill="#cacaca" stroke="#333" stroke-width="0.95"/>
<rect x="426.95" y="194.90" width="5.34" height="2.30" fill="#cacaca" stroke="#333" stroke-width="0.95"/>
<rect x="432.88" y="188.80" width="5.34" height="8.40" fill="#cacaca" stroke="#333" stroke-width="0.95"/>
<rect x="438.81" y="189.30" width="5.34" height="7.90" fill="#cacaca" stroke="#333" stroke-width="0.95"/>
<rect x="444.74" y="186.20" width="5.34" height="11.00" fill="#cacaca" stroke="#333" stroke-width="0.95"/>
<rect x="450.67" y="181.80" width="5.34" height="15.40" fill="#cacaca" stroke="#333" stroke-width="0.95"/>
<rect x="456.60" y="174.10" width="5.34" height="23.10" fill="#cacaca" stroke="#333" stroke-width="0.95"/>
<rect x="462.53" y="160.80" width="5.34" height="36.40" fill="#cacaca" stroke="#333" stroke-width="0.95"/>
<rect x="468.46" y="160.30" width="5.34" height="36.90" fill="#cacaca" stroke="#333" stroke-width="0.95"/>
<rect x="474.39" y="160.30" width="5.34" height="36.90" fill="#cacaca" stroke="#333" stroke-width="0.95"/>
<rect x="480.32" y="153.80" width="5.34" height="43.40" fill="#cacaca" stroke="#333" stroke-width="0.95"/>
<rect x="486.25" y="159.80" width="5.34" height="37.40" fill="#cacaca" stroke="#333" stroke-width="0.95"/>
<rect x="492.18" y="160.80" width="5.34" height="36.40" fill="#cacaca" stroke="#333" stroke-width="0.95"/>
<rect x="498.11" y="161.70" width="5.34" height="35.50" fill="#cacaca" stroke="#333" stroke-width="0.95"/>
<rect x="504.04" y="156.60" width="5.34" height="40.60" fill="#cacaca" stroke="#333" stroke-width="0.95"/>
<rect x="509.97" y="148.80" width="5.34" height="48.40" fill="#cacaca" stroke="#333" stroke-width="0.95"/>
<rect x="515.90" y="158.90" width="5.34" height="38.30" fill="#cacaca" stroke="#333" stroke-width="0.95"/>
<rect x="521.83" y="165.90" width="5.34" height="31.30" fill="#cacaca" stroke="#333" stroke-width="0.95"/>
<rect x="527.76" y="150.70" width="5.34" height="46.50" fill="#cacaca" stroke="#333" stroke-width="0.95"/>
<rect x="533.69" y="162.40" width="5.34" height="34.80" fill="#cacaca" stroke="#333" stroke-width="0.95"/>
<rect x="539.62" y="161.20" width="5.34" height="36.00" fill="#cacaca" stroke="#333" stroke-width="0.95"/>
<rect x="545.55" y="158.90" width="5.34" height="38.30" fill="#cacaca" stroke="#333" stroke-width="0.95"/>
<rect x="551.48" y="173.60" width="5.34" height="23.60" fill="#cacaca" stroke="#333" stroke-width="0.95"/>
<rect x="557.41" y="172.90" width="5.34" height="24.30" fill="#cacaca" stroke="#333" stroke-width="0.95"/>
<rect x="563.34" y="146.00" width="5.34" height="51.20" fill="#cacaca" stroke="#333" stroke-width="0.95"/>
<rect x="569.27" y="176.90" width="5.34" height="20.30" fill="#cacaca" stroke="#333" stroke-width="0.95"/>
<rect x="575.20" y="166.80" width="5.34" height="30.40" fill="#cacaca" stroke="#333" stroke-width="0.95"/>
<rect x="581.13" y="174.80" width="5.34" height="22.40" fill="#cacaca" stroke="#333" stroke-width="0.95"/>
<rect x="587.06" y="182.70" width="5.34" height="14.50" fill="#cacaca" stroke="#333" stroke-width="0.95"/>
<rect x="592.99" y="178.00" width="5.34" height="19.20" fill="#cacaca" stroke="#333" stroke-width="0.95"/>
<rect x="598.92" y="174.50" width="5.34" height="22.70" fill="#cacaca" stroke="#333" stroke-width="0.95"/>
<rect x="604.85" y="165.20" width="5.34" height="32.00" fill="#cacaca" stroke="#333" stroke-width="0.95"/>
<rect x="610.78" y="195.60" width="5.34" height="1.60" fill="#cacaca" stroke="#333" stroke-width="0.95"/>
<rect x="616.71" y="195.60" width="5.34" height="1.60" fill="#cacaca" stroke="#333" stroke-width="0.95"/>
<rect x="634.50" y="195.60" width="5.34" height="1.60" fill="#cacaca" stroke="#333" stroke-width="0.95"/>
<rect x="664.15" y="195.60" width="5.34" height="1.60" fill="#cacaca" stroke="#333" stroke-width="0.95"/>
<path d="M383.7 143.9V199.6H682.7" fill="none" stroke="#222" stroke-width="1.5"/>
<g stroke="#222" stroke-width="1.2">
<line x1="379.8" y1="197.2" x2="383.7" y2="197.2"/>
<line x1="379.8" y1="183.3" x2="383.7" y2="183.3"/>
<line x1="379.8" y1="169.4" x2="383.7" y2="169.4"/>
<line x1="379.8" y1="155.5" x2="383.7" y2="155.5"/>
<line x1="405.9" y1="199.6" x2="405.9" y2="203.6"/>
<line x1="435.5" y1="199.6" x2="435.5" y2="203.6"/>
<line x1="465.2" y1="199.6" x2="465.2" y2="203.6"/>
<line x1="494.8" y1="199.6" x2="494.8" y2="203.6"/>
<line x1="524.5" y1="199.6" x2="524.5" y2="203.6"/>
<line x1="554.1" y1="199.6" x2="554.1" y2="203.6"/>
<line x1="583.8" y1="199.6" x2="583.8" y2="203.6"/>
<line x1="613.4" y1="199.6" x2="613.4" y2="203.6"/>
<line x1="643.1" y1="199.6" x2="643.1" y2="203.6"/>
<line x1="672.8" y1="199.6" x2="672.8" y2="203.6"/>
</g>
<text x="376.5" y="200.7" font-size="9.8" text-anchor="end" >0</text>
<text x="376.5" y="186.8" font-size="9.8" text-anchor="end" >300</text>
<text x="376.5" y="172.9" font-size="9.8" text-anchor="end" >600</text>
<text x="376.5" y="159.0" font-size="9.8" text-anchor="end" >900</text>
<text x="405.9" y="213.5" font-size="9.8" text-anchor="middle" >5</text>
<text x="435.5" y="213.5" font-size="9.8" text-anchor="middle" >10</text>
<text x="465.2" y="213.5" font-size="9.8" text-anchor="middle" >15</text>
<text x="494.8" y="213.5" font-size="9.8" text-anchor="middle" >20</text>
<text x="524.5" y="213.5" font-size="9.8" text-anchor="middle" >25</text>
<text x="554.1" y="213.5" font-size="9.8" text-anchor="middle" >30</text>
<text x="583.8" y="213.5" font-size="9.8" text-anchor="middle" >35</text>
<text x="613.4" y="213.5" font-size="9.8" text-anchor="middle" >40</text>
<text x="643.1" y="213.5" font-size="9.8" text-anchor="middle" >45</text>
<text x="672.8" y="213.5" font-size="9.8" text-anchor="middle" >50</text>
<text x="533.5" y="225.5" font-size="9.5" text-anchor="middle" >group size</text>
<text transform="translate(354.5,171) rotate(-90)" font-size="9.5" text-anchor="middle">count</text>
<text x="384.0" y="133.7" font-size="9.5" text-anchor="start" >c) Group size</text>
</g>
<g id="pd">
<rect x="392.03" y="262.53" width="17.94" height="51.07" fill="#cacaca" stroke="#3d3d3d" stroke-width="1.0"/>
<rect x="411.97" y="272.74" width="17.94" height="40.86" fill="#cacaca" stroke="#3d3d3d" stroke-width="1.0"/>
<rect x="431.91" y="289.77" width="17.94" height="23.83" fill="#cacaca" stroke="#3d3d3d" stroke-width="1.0"/>
<rect x="451.85" y="299.98" width="17.94" height="13.62" fill="#cacaca" stroke="#3d3d3d" stroke-width="1.0"/>
<rect x="471.79" y="289.77" width="17.94" height="23.83" fill="#cacaca" stroke="#3d3d3d" stroke-width="1.0"/>
<rect x="491.73" y="303.39" width="17.94" height="10.21" fill="#cacaca" stroke="#3d3d3d" stroke-width="1.0"/>
<rect x="511.67" y="310.20" width="17.94" height="3.40" fill="#cacaca" stroke="#3d3d3d" stroke-width="1.0"/>
<rect x="531.61" y="296.58" width="17.94" height="17.02" fill="#cacaca" stroke="#3d3d3d" stroke-width="1.0"/>
<rect x="571.49" y="310.20" width="17.94" height="3.40" fill="#cacaca" stroke="#3d3d3d" stroke-width="1.0"/>
<rect x="651.25" y="310.20" width="17.94" height="3.40" fill="#cacaca" stroke="#3d3d3d" stroke-width="1.0"/>
<path d="M378.4 260.5V316.15H682.7" fill="none" stroke="#222" stroke-width="1.5"/>
<g stroke="#222" stroke-width="1.2">
<line x1="374.3" y1="313.7" x2="378.5" y2="313.7"/>
<line x1="374.3" y1="303.5" x2="378.5" y2="303.5"/>
<line x1="374.3" y1="293.3" x2="378.5" y2="293.3"/>
<line x1="374.3" y1="283.1" x2="378.5" y2="283.1"/>
<line x1="374.3" y1="272.8" x2="378.5" y2="272.8"/>
<line x1="374.3" y1="262.6" x2="378.5" y2="262.6"/>
<line x1="401.0" y1="316.1" x2="401.0" y2="320.2"/>
<line x1="440.9" y1="316.1" x2="440.9" y2="320.2"/>
<line x1="480.8" y1="316.1" x2="480.8" y2="320.2"/>
<line x1="520.6" y1="316.1" x2="520.6" y2="320.2"/>
<line x1="560.5" y1="316.1" x2="560.5" y2="320.2"/>
<line x1="600.4" y1="316.1" x2="600.4" y2="320.2"/>
<line x1="640.3" y1="316.1" x2="640.3" y2="320.2"/>
<line x1="680.2" y1="316.1" x2="680.2" y2="320.2"/>
</g>
<text x="371.2" y="317.2" font-size="9.8" text-anchor="end" >0</text>
<text x="371.2" y="307.0" font-size="9.8" text-anchor="end" >3</text>
<text x="371.2" y="296.8" font-size="9.8" text-anchor="end" >6</text>
<text x="371.2" y="286.6" font-size="9.8" text-anchor="end" >9</text>
<text x="371.2" y="276.3" font-size="9.8" text-anchor="end" >12</text>
<text x="371.2" y="266.1" font-size="9.8" text-anchor="end" >15</text>
<text x="401.0" y="330.0" font-size="9.8" text-anchor="middle" >1</text>
<text x="440.9" y="330.0" font-size="9.8" text-anchor="middle" >3</text>
<text x="480.8" y="330.0" font-size="9.8" text-anchor="middle" >5</text>
<text x="520.6" y="330.0" font-size="9.8" text-anchor="middle" >7</text>
<text x="560.5" y="330.0" font-size="9.8" text-anchor="middle" >9</text>
<text x="600.4" y="330.0" font-size="9.8" text-anchor="middle" >11</text>
<text x="640.3" y="330.0" font-size="9.8" text-anchor="middle" >13</text>
<text x="680.2" y="330.0" font-size="9.8" text-anchor="middle" >15</text>
<text x="530.5" y="342.5" font-size="9.5" text-anchor="middle" >alpha tenure length (years)</text>
<text transform="translate(354.5,288) rotate(-90)" font-size="9.5" text-anchor="middle">count</text>
<text x="378.6" y="250.2" font-size="9.5" text-anchor="start" >d) Alpha tenure length</text>
</g>
</g>
</svg>
</body></html>
